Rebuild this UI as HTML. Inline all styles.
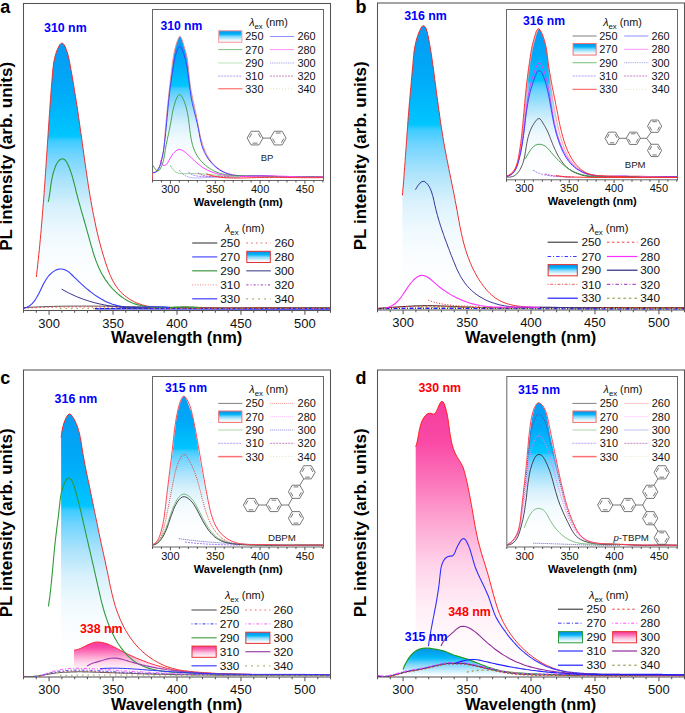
<!DOCTYPE html><html><head><meta charset="utf-8"><style>html,body{margin:0;padding:0;background:#fff;}svg{display:block}text{font-family:"Liberation Sans",sans-serif}</style></head><body>
<svg width="685" height="713" viewBox="0 0 685 713">
<defs><linearGradient id="gb" x1="0" y1="0" x2="0" y2="1">
<stop offset="0" stop-color="#079bf4"/>
<stop offset="0.18" stop-color="#00aaf8"/>
<stop offset="0.35" stop-color="#00c6ff"/>
<stop offset="0.37" stop-color="#40ccff"/>
<stop offset="0.42" stop-color="#70d4ff"/>
<stop offset="0.52" stop-color="#ace3fb"/>
<stop offset="0.62" stop-color="#d8f1fc"/>
<stop offset="0.72" stop-color="#eff9fe"/>
<stop offset="0.82" stop-color="#fafdff"/>
<stop offset="1" stop-color="#ffffff"/>
</linearGradient><linearGradient id="gp" x1="0" y1="0" x2="0" y2="1">
<stop offset="0" stop-color="#f53c9c"/>
<stop offset="0.15" stop-color="#fa4aa6"/>
<stop offset="0.3" stop-color="#fc78bc"/>
<stop offset="0.45" stop-color="#fdaad4"/>
<stop offset="0.6" stop-color="#fed4ea"/>
<stop offset="0.75" stop-color="#ffeef6"/>
<stop offset="0.88" stop-color="#fffafc"/>
<stop offset="1" stop-color="#ffffff"/>
</linearGradient><linearGradient id="gbs2" x1="0" y1="0" x2="0" y2="1">
<stop offset="0" stop-color="#0a90e8"/>
<stop offset="0.35" stop-color="#00b8f8"/>
<stop offset="0.6" stop-color="#7fd6fb"/>
<stop offset="1" stop-color="#ffffff"/>
</linearGradient><linearGradient id="gbs" x1="0" y1="0" x2="0" y2="1">
<stop offset="0" stop-color="#0a8ee8"/>
<stop offset="0.3" stop-color="#00b4f8"/>
<stop offset="0.5" stop-color="#80d8fc"/>
<stop offset="0.8" stop-color="#e6f6fe"/>
<stop offset="1" stop-color="#ffffff"/>
</linearGradient><linearGradient id="gps" x1="0" y1="0" x2="0" y2="1">
<stop offset="0" stop-color="#f5358f"/>
<stop offset="0.3" stop-color="#f870b4"/>
<stop offset="0.6" stop-color="#fcc4e0"/>
<stop offset="1" stop-color="#ffffff"/>
</linearGradient><clipPath id="c1"><rect x="23.5" y="3.5" width="307" height="307"/></clipPath><clipPath id="c2"><rect x="152.5" y="9.5" width="171" height="171"/></clipPath><clipPath id="c3"><rect x="377.5" y="3" width="307" height="307"/></clipPath><clipPath id="c4"><rect x="506.5" y="9.5" width="171" height="170.3"/></clipPath><clipPath id="c5"><rect x="23.5" y="370" width="307" height="307"/></clipPath><clipPath id="c6"><rect x="152.5" y="376.5" width="171" height="170.5"/></clipPath><clipPath id="c7"><rect x="377.5" y="370" width="307" height="307"/></clipPath><clipPath id="c8"><rect x="506.8" y="376.5" width="170.7" height="170.5"/></clipPath></defs>
<rect width="685" height="713" fill="#fff"/>
<rect x="23.5" y="3.5" width="307" height="307" fill="none" stroke="#545454" stroke-width="1.05"/>
<line x1="23.5" y1="310.5" x2="23.5" y2="312.8" stroke="#545454" stroke-width="1.05" />
<line x1="36.29" y1="310.5" x2="36.29" y2="312.8" stroke="#545454" stroke-width="1.05" />
<line x1="49.08" y1="310.5" x2="49.08" y2="314.7" stroke="#545454" stroke-width="1.05" />
<text x="49.08" y="327.5" font-size="13" text-anchor="middle" fill="#111" >300</text>
<line x1="61.88" y1="310.5" x2="61.88" y2="312.8" stroke="#545454" stroke-width="1.05" />
<line x1="74.67" y1="310.5" x2="74.67" y2="312.8" stroke="#545454" stroke-width="1.05" />
<line x1="87.46" y1="310.5" x2="87.46" y2="312.8" stroke="#545454" stroke-width="1.05" />
<line x1="100.25" y1="310.5" x2="100.25" y2="312.8" stroke="#545454" stroke-width="1.05" />
<line x1="113.04" y1="310.5" x2="113.04" y2="314.7" stroke="#545454" stroke-width="1.05" />
<text x="113.04" y="327.5" font-size="13" text-anchor="middle" fill="#111" >350</text>
<line x1="125.83" y1="310.5" x2="125.83" y2="312.8" stroke="#545454" stroke-width="1.05" />
<line x1="138.62" y1="310.5" x2="138.62" y2="312.8" stroke="#545454" stroke-width="1.05" />
<line x1="151.42" y1="310.5" x2="151.42" y2="312.8" stroke="#545454" stroke-width="1.05" />
<line x1="164.21" y1="310.5" x2="164.21" y2="312.8" stroke="#545454" stroke-width="1.05" />
<line x1="177" y1="310.5" x2="177" y2="314.7" stroke="#545454" stroke-width="1.05" />
<text x="177" y="327.5" font-size="13" text-anchor="middle" fill="#111" >400</text>
<line x1="189.79" y1="310.5" x2="189.79" y2="312.8" stroke="#545454" stroke-width="1.05" />
<line x1="202.58" y1="310.5" x2="202.58" y2="312.8" stroke="#545454" stroke-width="1.05" />
<line x1="215.37" y1="310.5" x2="215.37" y2="312.8" stroke="#545454" stroke-width="1.05" />
<line x1="228.17" y1="310.5" x2="228.17" y2="312.8" stroke="#545454" stroke-width="1.05" />
<line x1="240.96" y1="310.5" x2="240.96" y2="314.7" stroke="#545454" stroke-width="1.05" />
<text x="240.96" y="327.5" font-size="13" text-anchor="middle" fill="#111" >450</text>
<line x1="253.75" y1="310.5" x2="253.75" y2="312.8" stroke="#545454" stroke-width="1.05" />
<line x1="266.54" y1="310.5" x2="266.54" y2="312.8" stroke="#545454" stroke-width="1.05" />
<line x1="279.33" y1="310.5" x2="279.33" y2="312.8" stroke="#545454" stroke-width="1.05" />
<line x1="292.12" y1="310.5" x2="292.12" y2="312.8" stroke="#545454" stroke-width="1.05" />
<line x1="304.92" y1="310.5" x2="304.92" y2="314.7" stroke="#545454" stroke-width="1.05" />
<text x="304.92" y="327.5" font-size="13" text-anchor="middle" fill="#111" >500</text>
<line x1="317.71" y1="310.5" x2="317.71" y2="312.8" stroke="#545454" stroke-width="1.05" />
<line x1="330.5" y1="310.5" x2="330.5" y2="312.8" stroke="#545454" stroke-width="1.05" />
<text x="176.6" y="343" font-size="16.4" font-weight="bold" text-anchor="middle" fill="#000" >Wavelength (nm)</text>
<text x="0" y="0" font-size="17.05" font-weight="bold" text-anchor="middle" transform="translate(12.4,156.3) rotate(-90)">PL intensity (arb. units)</text>
<text x="0.2" y="13.2" font-size="18" font-weight="bold" text-anchor="start" fill="#000" >a</text>
<g clip-path="url(#c1)">
<path d="M36.3,277 36.6,274.5 36.9,272 37.2,269.5 37.5,267 37.7,264.5 38,262 38.3,259.5 38.5,257 38.8,254.5 39.1,252 39.3,249.5 39.6,247.1 39.8,244.6 40,242.1 40.3,239.6 40.5,237.1 40.7,234.6 41,232.1 41.2,229.6 41.4,227.1 41.6,224.7 41.8,222.2 42,219.7 42.2,217.2 42.4,214.7 42.6,212.2 42.8,209.7 43,207.2 43.2,204.8 43.4,202.3 43.6,199.8 43.8,197.3 44,194.8 44.2,192.3 44.3,189.8 44.5,187.3 44.7,184.8 44.9,182.3 45.1,179.8 45.2,177.3 45.4,174.8 45.6,172.3 45.7,169.8 45.9,167.3 46.1,164.8 46.2,162.3 46.4,159.8 46.6,157.3 46.7,154.8 46.9,152.3 47.1,149.8 47.2,147.3 47.4,144.8 47.6,142.2 47.7,139.7 47.9,137.2 48.1,134.7 48.2,132.2 48.4,129.7 48.6,127.2 48.7,124.7 48.9,122.2 49.1,119.7 49.2,117.2 49.4,114.7 49.6,112.2 49.8,109.7 49.9,107.2 50.1,104.7 50.3,102.2 50.5,99.7 50.6,97.3 50.8,94.8 51,92.3 51.2,89.8 51.4,87.3 51.6,84.9 51.8,82.4 52,79.9 52.2,77.5 52.4,75 52.6,72.6 52.8,70.1 53.1,67.6 53.4,65.2 53.7,62.7 54.2,60.2 54.8,57.6 55.5,55 56.3,52.3 57.3,49.6 58.5,47 59.8,44.7 61.2,43.3 62.6,43.2 63.9,44.5 65.2,46.7 66.2,49.3 67.1,51.9 67.9,54.4 68.5,57 69.1,59.5 69.5,61.9 70,64.4 70.5,66.9 70.9,69.4 71.4,71.9 71.8,74.3 72.3,76.8 72.7,79.3 73.1,81.8 73.5,84.2 73.9,86.7 74.3,89.2 74.7,91.7 75.1,94.1 75.5,96.6 75.9,99.1 76.3,101.5 76.7,104 77.1,106.5 77.4,108.9 77.8,111.4 78.2,113.9 78.5,116.4 78.9,118.8 79.2,121.3 79.6,123.8 79.9,126.2 80.3,128.7 80.6,131.2 81,133.7 81.3,136.1 81.7,138.6 82,141.1 82.4,143.6 82.7,146 83,148.5 83.4,151 83.7,153.5 84.1,156 84.4,158.4 84.8,160.9 85.1,163.4 85.5,165.9 85.8,168.4 86.2,170.8 86.6,173.3 86.9,175.8 87.3,178.3 87.7,180.7 88,183.2 88.4,185.7 88.8,188.2 89.2,190.7 89.6,193.1 90,195.6 90.4,198.1 90.8,200.5 91.3,203 91.7,205.5 92.2,207.9 92.6,210.4 93.1,212.9 93.6,215.3 94.1,217.8 94.6,220.2 95.1,222.7 95.6,225.1 96.1,227.6 96.7,230 97.2,232.5 97.8,234.9 98.4,237.3 99,239.8 99.6,242.2 100.3,244.6 100.9,247 101.6,249.4 102.3,251.9 103,254.3 103.7,256.7 104.5,259.1 105.2,261.5 106,263.9 106.8,266.2 107.6,268.6 108.5,271 109.4,273.3 110.4,275.6 111.4,277.9 112.5,280.1 113.7,282.3 114.9,284.4 116.3,286.4 117.7,288.4 119.3,290.3 120.9,292.2 122.7,293.9 124.7,295.6 126.7,297.2 128.8,298.6 130.9,300 133.2,301.2 135.4,302.4 137.8,303.4 140.1,304.2 142.5,305 144.9,305.6 147.3,306.1 149.7,306.5 152.1,306.9 154.6,307.1 157.1,307.3 159.6,307.5 162,307.5 164.6,307.6 167.1,307.6 169.6,307.5 172.1,307.5 174.6,307.4 177.2,307.4 179.7,307.3 182.2,307.3 184.7,307.3 187.3,307.3 189.8,307.3 192.3,307.3 194.8,307.3 197.3,307.4 199.8,307.4 202.4,307.5 204.9,307.5 207.4,307.6 209.9,307.6 212.4,307.7 214.9,307.7 217.4,307.8 219.9,307.8 222.4,307.8 224.9,307.9 227.4,307.9 229.9,307.9 232.4,307.8 234.9,307.8 237.4,307.8 239.9,307.8 242.4,307.8 244.9,307.7 247.4,307.7 249.9,307.7 252.4,307.7 254.9,307.6 257.4,307.6 259.9,307.6 262.4,307.6 264.9,307.6 267.4,307.6 269.9,307.6 272.4,307.6 274.9,307.6 277.4,307.7 279.9,307.7 282.4,307.7 284.9,307.7 287.4,307.7 289.9,307.7 292.4,307.8 294.9,307.8 297.4,307.8 299.9,307.8 302.4,307.8 304.9,307.8 307.4,307.9 309.9,307.9 312.4,307.9 314.9,307.9 317.4,307.9 319.9,307.9 322.4,307.9 325,307.8 327.5,307.8 330,307.8 L330,308.2 L36.3,308.2 Z" fill="url(#gb)" stroke="none"/>
<path d="M36.3,277 36.6,274.5 36.9,272 37.2,269.5 37.5,267 37.7,264.5 38,262 38.3,259.5 38.5,257 38.8,254.5 39.1,252 39.3,249.5 39.6,247.1 39.8,244.6 40,242.1 40.3,239.6 40.5,237.1 40.7,234.6 41,232.1 41.2,229.6 41.4,227.1 41.6,224.7 41.8,222.2 42,219.7 42.2,217.2 42.4,214.7 42.6,212.2 42.8,209.7 43,207.2 43.2,204.8 43.4,202.3 43.6,199.8 43.8,197.3 44,194.8 44.2,192.3 44.3,189.8 44.5,187.3 44.7,184.8 44.9,182.3 45.1,179.8 45.2,177.3 45.4,174.8 45.6,172.3 45.7,169.8 45.9,167.3 46.1,164.8 46.2,162.3 46.4,159.8 46.6,157.3 46.7,154.8 46.9,152.3 47.1,149.8 47.2,147.3 47.4,144.8 47.6,142.2 47.7,139.7 47.9,137.2 48.1,134.7 48.2,132.2 48.4,129.7 48.6,127.2 48.7,124.7 48.9,122.2 49.1,119.7 49.2,117.2 49.4,114.7 49.6,112.2 49.8,109.7 49.9,107.2 50.1,104.7 50.3,102.2 50.5,99.7 50.6,97.3 50.8,94.8 51,92.3 51.2,89.8 51.4,87.3 51.6,84.9 51.8,82.4 52,79.9 52.2,77.5 52.4,75 52.6,72.6 52.8,70.1 53.1,67.6 53.4,65.2 53.7,62.7 54.2,60.2 54.8,57.6 55.5,55 56.3,52.3 57.3,49.6 58.5,47 59.8,44.7 61.2,43.3 62.6,43.2 63.9,44.5 65.2,46.7 66.2,49.3 67.1,51.9 67.9,54.4 68.5,57 69.1,59.5 69.5,61.9 70,64.4 70.5,66.9 70.9,69.4 71.4,71.9 71.8,74.3 72.3,76.8 72.7,79.3 73.1,81.8 73.5,84.2 73.9,86.7 74.3,89.2 74.7,91.7 75.1,94.1 75.5,96.6 75.9,99.1 76.3,101.5 76.7,104 77.1,106.5 77.4,108.9 77.8,111.4 78.2,113.9 78.5,116.4 78.9,118.8 79.2,121.3 79.6,123.8 79.9,126.2 80.3,128.7 80.6,131.2 81,133.7 81.3,136.1 81.7,138.6 82,141.1 82.4,143.6 82.7,146 83,148.5 83.4,151 83.7,153.5 84.1,156 84.4,158.4 84.8,160.9 85.1,163.4 85.5,165.9 85.8,168.4 86.2,170.8 86.6,173.3 86.9,175.8 87.3,178.3 87.7,180.7 88,183.2 88.4,185.7 88.8,188.2 89.2,190.7 89.6,193.1 90,195.6 90.4,198.1 90.8,200.5 91.3,203 91.7,205.5 92.2,207.9 92.6,210.4 93.1,212.9 93.6,215.3 94.1,217.8 94.6,220.2 95.1,222.7 95.6,225.1 96.1,227.6 96.7,230 97.2,232.5 97.8,234.9 98.4,237.3 99,239.8 99.6,242.2 100.3,244.6 100.9,247 101.6,249.4 102.3,251.9 103,254.3 103.7,256.7 104.5,259.1 105.2,261.5 106,263.9 106.8,266.2 107.6,268.6 108.5,271 109.4,273.3 110.4,275.6 111.4,277.9 112.5,280.1 113.7,282.3 114.9,284.4 116.3,286.4 117.7,288.4 119.3,290.3 120.9,292.2 122.7,293.9 124.7,295.6 126.7,297.2 128.8,298.6 130.9,300 133.2,301.2 135.4,302.4 137.8,303.4 140.1,304.2 142.5,305 144.9,305.6 147.3,306.1 149.7,306.5 152.1,306.9 154.6,307.1 157.1,307.3 159.6,307.5 162,307.5 164.6,307.6 167.1,307.6 169.6,307.5 172.1,307.5 174.6,307.4 177.2,307.4 179.7,307.3 182.2,307.3 184.7,307.3 187.3,307.3 189.8,307.3 192.3,307.3 194.8,307.3 197.3,307.4 199.8,307.4 202.4,307.5 204.9,307.5 207.4,307.6 209.9,307.6 212.4,307.7 214.9,307.7 217.4,307.8 219.9,307.8 222.4,307.8 224.9,307.9 227.4,307.9 229.9,307.9 232.4,307.8 234.9,307.8 237.4,307.8 239.9,307.8 242.4,307.8 244.9,307.7 247.4,307.7 249.9,307.7 252.4,307.7 254.9,307.6 257.4,307.6 259.9,307.6 262.4,307.6 264.9,307.6 267.4,307.6 269.9,307.6 272.4,307.6 274.9,307.6 277.4,307.7 279.9,307.7 282.4,307.7 284.9,307.7 287.4,307.7 289.9,307.7 292.4,307.8 294.9,307.8 297.4,307.8 299.9,307.8 302.4,307.8 304.9,307.8 307.4,307.9 309.9,307.9 312.4,307.9 314.9,307.9 317.4,307.9 319.9,307.9 322.4,307.9 325,307.8 327.5,307.8 330,307.8" fill="none" stroke="#ee2a2a" stroke-width="1"/>
<path d="M95,308.7 140,308.8 330,308.9" fill="none" stroke="#2020ff" stroke-width="1.6" stroke-linejoin="round" />
<path d="M23.5,307.6 26,307.5 28.5,307.3 31,307.2 33.5,307.1 36.1,307 38.6,306.9 41.1,306.8 43.6,306.7 46.1,306.6 48.6,306.5 51.1,306.5 53.6,306.4 56.1,306.3 58.7,306.3 61.2,306.2 63.7,306.2 66.2,306.2 68.7,306.1 71.2,306.1 73.7,306.1 76.2,306.1 78.7,306.1 81.3,306.1 83.8,306.1 86.3,306.1 88.8,306.1 91.3,306.1 93.8,306.1 96.3,306.1 98.8,306.2 101.3,306.2 103.9,306.2 106.4,306.2 108.9,306.3 111.4,306.3 113.9,306.3 116.4,306.4 118.9,306.4 121.4,306.5 124,306.5 126.5,306.6 129,306.6 131.5,306.7 134,306.7 136.5,306.8 139,306.8 141.5,306.9 144.1,306.9 146.6,307 149.1,307 151.6,307.1 154.1,307.1 156.6,307.2 159.1,307.2 161.6,307.3 164.2,307.3 166.7,307.4 169.2,307.4 171.7,307.5 174.2,307.5 176.7,307.6 179.2,307.6 181.7,307.7 184.3,307.7 186.8,307.7 189.3,307.8 191.8,307.8 194.3,307.8 196.8,307.8 199.3,307.9 201.9,307.9 204.4,307.9 206.9,307.9 209.4,307.9 211.9,307.9 214.4,307.9 216.9,307.9 219.4,307.9 222,307.9 224.5,307.9 227,307.9 229.5,307.9 232,307.9 234.5,307.9 237,307.9 239.5,307.9 242.1,307.9 244.6,307.9 247.1,307.9 249.6,307.9 252.1,307.9 254.6,307.9 257.1,307.8 259.6,307.8 262.2,307.8 264.7,307.8 267.2,307.8 269.7,307.8 272.2,307.8 274.7,307.8 277.2,307.7 279.7,307.7 282.3,307.7 284.8,307.7 287.3,307.7 289.8,307.7 292.3,307.7 294.8,307.7 297.3,307.7 299.9,307.7 302.4,307.7 304.9,307.6 307.4,307.6 309.9,307.6 312.4,307.6 314.9,307.6 317.4,307.7 320,307.7 322.5,307.7 325,307.7 327.5,307.7 330,307.7" fill="none" stroke="#555" stroke-width="1" stroke-linejoin="round" />
<path d="M23.5,308.2 26,308.1 28.5,308 31,307.8 33.5,307.7 36.1,307.7 38.6,307.6 41.1,307.5 43.6,307.4 46.1,307.3 48.6,307.3 51.1,307.2 53.6,307.2 56.1,307.1 58.7,307.1 61.2,307 63.7,307 66.2,307 68.7,307 71.2,306.9 73.7,306.9 76.2,306.9 78.7,306.9 81.3,306.9 83.8,306.9 86.3,306.9 88.8,306.9 91.3,306.9 93.8,307 96.3,307 98.8,307 101.4,307 103.9,307.1 106.4,307.1 108.9,307.1 111.4,307.1 113.9,307.2 116.4,307.2 118.9,307.3 121.5,307.3 124,307.3 126.5,307.4 129,307.4 131.5,307.5 134,307.5 136.5,307.6 139,307.6 141.6,307.7 144.1,307.7 146.6,307.8 149.1,307.8 151.6,307.8 154.1,307.9 156.6,307.9 159.1,308 161.7,308 164.2,308.1 166.7,308.1 169.2,308.2 171.7,308.2 174.2,308.2 176.7,308.3 179.2,308.3 181.8,308.4 184.3,308.4 186.8,308.4 189.3,308.4 191.8,308.5 194.3,308.5 196.8,308.5 199.3,308.5 201.9,308.5 204.4,308.6 206.9,308.6 209.4,308.6 211.9,308.6 214.4,308.6 216.9,308.6 219.4,308.6 222,308.6 224.5,308.6 227,308.6 229.5,308.6 232,308.6 234.5,308.6 237,308.6 239.5,308.6 242.1,308.6 244.6,308.6 247.1,308.6 249.6,308.6 252.1,308.6 254.6,308.6 257.1,308.6 259.6,308.5 262.2,308.5 264.7,308.5 267.2,308.5 269.7,308.5 272.2,308.5 274.7,308.5 277.2,308.5 279.8,308.5 282.3,308.5 284.8,308.4 287.3,308.4 289.8,308.4 292.3,308.4 294.8,308.4 297.3,308.4 299.9,308.4 302.4,308.4 304.9,308.4 307.4,308.4 309.9,308.4 312.4,308.4 314.9,308.4 317.4,308.4 320,308.4 322.5,308.4 325,308.4 327.5,308.4 330,308.4" fill="none" stroke="#f04040" stroke-width="1" stroke-dasharray="1.5,2.5" stroke-linejoin="round" />
<path d="M60,308.6 330,308.6" fill="none" stroke="#b0a040" stroke-width="1" stroke-dasharray="1.5,4" stroke-linejoin="round" />
<path d="M48.2,202 48.8,199.4 49.2,196.9 49.6,194.4 50,192 50.3,189.5 50.6,187.1 50.9,184.7 51.3,182.3 51.7,179.9 52.2,177.4 52.7,175 53.4,172.5 54.2,169.9 55.1,167.3 56.2,164.8 57.5,162.4 59,160.5 60.7,159.2 62.6,158.8 64.5,159.4 66.1,161.3 67.5,163.7 68.7,166.3 69.7,168.8 70.6,171.3 71.4,173.7 72.2,176.2 72.9,178.6 73.5,181 74.2,183.4 74.8,185.8 75.4,188.2 75.9,190.6 76.5,193 77.2,195.4 77.8,197.8 78.4,200.2 79.1,202.6 79.8,205 80.4,207.4 81.1,209.9 81.8,212.3 82.5,214.7 83.2,217.1 83.9,219.5 84.6,222 85.3,224.4 86,226.8 86.7,229.3 87.3,231.7 88,234.1 88.7,236.6 89.4,239 90,241.4 90.7,243.9 91.4,246.3 92.1,248.7 92.8,251.1 93.5,253.5 94.3,255.9 95.1,258.2 95.9,260.6 96.8,262.9 97.8,265.2 98.7,267.5 99.8,269.8 100.9,272 102.1,274.2 103.4,276.4 104.7,278.6 106.1,280.7 107.6,282.7 109.1,284.8 110.7,286.7 112.4,288.6 114.2,290.4 116,292.2 117.8,293.9 119.8,295.5 121.8,297 123.8,298.4 125.9,299.7 128.1,300.9 130.3,302 132.6,303 134.9,303.9 137.3,304.6 139.7,305.3 142.1,305.8 144.6,306.3 147.1,306.6 149.6,306.9 152.1,307.1 154.7,307.3 157.3,307.4 159.8,307.4 162.4,307.5 165,307.4 167.5,307.4 170.1,307.3 172.6,307.2 175.1,307.1 177.6,307.1 180,307 182.5,306.9 184.9,306.9 187.3,306.9 189.8,307 192.3,307.1 194.8,307.2 197.4,307.4 200,307.7" fill="none" stroke="#2e9a3a" stroke-width="1.1" stroke-linejoin="round" />
<path d="M23.5,308.4 26,307.7 28.3,306.6 30.3,305.2 32.1,303.6 33.7,301.8 35.2,299.8 36.5,297.8 37.7,295.6 38.9,293.4 40,291.2 41.1,288.9 42.2,286.6 43.3,284.3 44.6,282 45.9,279.7 47.4,277.5 49,275.5 50.9,273.6 52.9,271.9 55,270.6 57.2,269.6 59.5,269 61.8,269 64.1,269.5 66.3,270.4 68.4,271.7 70.3,273.3 72.1,275 73.9,276.8 75.8,278.6 77.6,280.4 79.4,282.1 81.3,283.9 83.2,285.6 85.1,287.3 87,288.9 89,290.5 91,292.1 93,293.6 95,295.1 97.1,296.5 99.2,297.8 101.3,299.1 103.4,300.2 105.6,301.4 107.9,302.4 110.1,303.3 112.4,304.2 114.7,304.9 117.1,305.6 119.5,306.1 122,306.6 124.5,306.9 127,307.2 129.5,307.3 132.1,307.4 134.7,307.4 137.3,307.4 139.9,307.3 142.5,307.2 145.2,307.1 147.8,307 150.4,306.9 152.9,306.8 155.5,306.8 158,306.8 160.5,306.8 162.9,306.9 165.3,307.1 167.7,307.3 170,307.7" fill="none" stroke="#3a3aff" stroke-width="1.1" stroke-linejoin="round" />
<path d="M61.7,289.1 63.9,290.4 66.2,291.6 68.4,292.8 70.7,293.9 73,295 75.4,296.1 77.7,297.1 80.1,298 82.4,298.9 84.8,299.7 87.2,300.5 89.6,301.3 92.1,302 94.5,302.7 97,303.3 99.4,303.9 101.9,304.4 104.4,304.9 106.9,305.4 109.4,305.8 111.9,306.2 114.4,306.5 116.9,306.8 119.5,307.1 122,307.3 124.5,307.5 127.1,307.7 129.6,307.8 132.2,307.9 134.7,308 137.3,308 139.8,308 142.4,308 144.9,307.9 147.5,307.8 150,307.7" fill="none" stroke="#34348a" stroke-width="1" stroke-linejoin="round" />
</g>
<rect x="152.5" y="9.5" width="171" height="171" fill="#fff" stroke="#666" stroke-width="1"/>
<line x1="152.5" y1="180.5" x2="152.5" y2="182.5" stroke="#444" stroke-width="0.9" />
<line x1="161.47" y1="180.5" x2="161.47" y2="182.5" stroke="#444" stroke-width="0.9" />
<line x1="170.43" y1="180.5" x2="170.43" y2="183.7" stroke="#444" stroke-width="0.9" />
<text x="170.43" y="193.1" font-size="11" text-anchor="middle" fill="#111" >300</text>
<line x1="179.4" y1="180.5" x2="179.4" y2="182.5" stroke="#444" stroke-width="0.9" />
<line x1="188.36" y1="180.5" x2="188.36" y2="182.5" stroke="#444" stroke-width="0.9" />
<line x1="197.32" y1="180.5" x2="197.32" y2="182.5" stroke="#444" stroke-width="0.9" />
<line x1="206.29" y1="180.5" x2="206.29" y2="182.5" stroke="#444" stroke-width="0.9" />
<line x1="215.25" y1="180.5" x2="215.25" y2="183.7" stroke="#444" stroke-width="0.9" />
<text x="215.25" y="193.1" font-size="11" text-anchor="middle" fill="#111" >350</text>
<line x1="224.22" y1="180.5" x2="224.22" y2="182.5" stroke="#444" stroke-width="0.9" />
<line x1="233.19" y1="180.5" x2="233.19" y2="182.5" stroke="#444" stroke-width="0.9" />
<line x1="242.15" y1="180.5" x2="242.15" y2="182.5" stroke="#444" stroke-width="0.9" />
<line x1="251.12" y1="180.5" x2="251.12" y2="182.5" stroke="#444" stroke-width="0.9" />
<line x1="260.08" y1="180.5" x2="260.08" y2="183.7" stroke="#444" stroke-width="0.9" />
<text x="260.08" y="193.1" font-size="11" text-anchor="middle" fill="#111" >400</text>
<line x1="269.05" y1="180.5" x2="269.05" y2="182.5" stroke="#444" stroke-width="0.9" />
<line x1="278.01" y1="180.5" x2="278.01" y2="182.5" stroke="#444" stroke-width="0.9" />
<line x1="286.98" y1="180.5" x2="286.98" y2="182.5" stroke="#444" stroke-width="0.9" />
<line x1="295.94" y1="180.5" x2="295.94" y2="182.5" stroke="#444" stroke-width="0.9" />
<line x1="304.9" y1="180.5" x2="304.9" y2="183.7" stroke="#444" stroke-width="0.9" />
<text x="304.9" y="193.1" font-size="11" text-anchor="middle" fill="#111" >450</text>
<line x1="313.87" y1="180.5" x2="313.87" y2="182.5" stroke="#444" stroke-width="0.9" />
<line x1="322.83" y1="180.5" x2="322.83" y2="182.5" stroke="#444" stroke-width="0.9" />
<text x="238.3" y="206.1" font-size="11.1" font-weight="bold" text-anchor="middle" fill="#000" >Wavelength (nm)</text>
<g clip-path="url(#c2)">
<path d="M152.5,172.7 154.8,171.9 156.6,170.6 158.1,168.7 159.4,166.5 160.4,164.1 161.2,161.6 161.9,159.1 162.5,156.7 163,154.2 163.4,151.7 163.7,149.2 164,146.7 164.2,144.2 164.4,141.7 164.6,139.2 164.8,136.7 165,134.2 165.2,131.7 165.4,129.2 165.6,126.8 165.9,124.3 166.1,121.8 166.3,119.3 166.5,116.8 166.8,114.3 167,111.8 167.3,109.3 167.5,106.8 167.8,104.3 168,101.8 168.3,99.4 168.6,96.9 168.8,94.4 169.1,91.9 169.4,89.4 169.7,86.9 170,84.4 170.2,81.9 170.5,79.4 170.8,76.9 171.1,74.4 171.4,71.9 171.7,69.4 172,66.9 172.3,64.4 172.6,61.9 173,59.4 173.4,56.9 173.8,54.4 174.3,51.9 174.8,49.4 175.5,46.9 176.2,44.5 177,42 177.9,39.6 178.9,37.3 180,36.3 181.1,37.4 182.1,39.9 183.1,43 183.9,46 184.7,48.4 185.4,50.7 186,53 186.6,55.4 187.1,58 187.5,60.5 187.8,63.1 188.1,65.6 188.4,68.1 188.6,70.5 188.8,73 189.1,75.4 189.3,77.8 189.6,80.3 189.9,82.7 190.2,85.2 190.6,87.6 191,90.1 191.5,92.6 192,95.1 192.5,97.6 193,100.1 193.6,102.6 194.1,105.1 194.7,107.6 195.2,110.1 195.7,112.6 196.2,115 196.7,117.5 197.1,120 197.6,122.5 198,125 198.5,127.4 198.9,129.9 199.4,132.3 200,134.8 200.5,137.2 201.1,139.6 201.8,142 202.5,144.3 203.3,146.7 204.2,149 205.2,151.3 206.2,153.6 207.4,155.8 208.6,158 210,160 211.5,162 213.1,163.9 214.9,165.7 216.8,167.4 218.9,168.9 221,170.3 223.3,171.5 225.6,172.6 228,173.5 230.3,174.2 232.7,174.8 235.2,175.2 237.6,175.5 240.1,175.7 242.5,175.8 245,175.9 247.5,175.9 250.1,175.8 252.6,175.8 255.1,175.7 257.7,175.7 260.2,175.7 262.7,175.7 265.3,175.8 267.8,175.9 270.4,176.1 272.9,176.2 275.4,176.3 278,176.5 280.5,176.6 283,176.6 285.5,176.7 288,176.7 290.4,176.7 292.9,176.7 295.4,176.7 297.9,176.7 300.3,176.7 302.8,176.6 305.3,176.6 307.8,176.6 310.3,176.6 312.8,176.6 315.3,176.6 317.9,176.6 320.4,176.7 323,176.8 L323,177.6 L152.5,177.6 Z" fill="url(#gb)" stroke="none"/>
<path d="M152.5,172.7 154.8,171.9 156.6,170.6 158.1,168.7 159.4,166.5 160.4,164.1 161.2,161.6 161.9,159.1 162.5,156.7 163,154.2 163.4,151.7 163.7,149.2 164,146.7 164.2,144.2 164.4,141.7 164.6,139.2 164.8,136.7 165,134.2 165.2,131.7 165.4,129.2 165.6,126.8 165.9,124.3 166.1,121.8 166.3,119.3 166.5,116.8 166.8,114.3 167,111.8 167.3,109.3 167.5,106.8 167.8,104.3 168,101.8 168.3,99.4 168.6,96.9 168.8,94.4 169.1,91.9 169.4,89.4 169.7,86.9 170,84.4 170.2,81.9 170.5,79.4 170.8,76.9 171.1,74.4 171.4,71.9 171.7,69.4 172,66.9 172.3,64.4 172.6,61.9 173,59.4 173.4,56.9 173.8,54.4 174.3,51.9 174.8,49.4 175.5,46.9 176.2,44.5 177,42 177.9,39.6 178.9,37.3 180,36.3 181.1,37.4 182.1,39.9 183.1,43 183.9,46 184.7,48.4 185.4,50.7 186,53 186.6,55.4 187.1,58 187.5,60.5 187.8,63.1 188.1,65.6 188.4,68.1 188.6,70.5 188.8,73 189.1,75.4 189.3,77.8 189.6,80.3 189.9,82.7 190.2,85.2 190.6,87.6 191,90.1 191.5,92.6 192,95.1 192.5,97.6 193,100.1 193.6,102.6 194.1,105.1 194.7,107.6 195.2,110.1 195.7,112.6 196.2,115 196.7,117.5 197.1,120 197.6,122.5 198,125 198.5,127.4 198.9,129.9 199.4,132.3 200,134.8 200.5,137.2 201.1,139.6 201.8,142 202.5,144.3 203.3,146.7 204.2,149 205.2,151.3 206.2,153.6 207.4,155.8 208.6,158 210,160 211.5,162 213.1,163.9 214.9,165.7 216.8,167.4 218.9,168.9 221,170.3 223.3,171.5 225.6,172.6 228,173.5 230.3,174.2 232.7,174.8 235.2,175.2 237.6,175.5 240.1,175.7 242.5,175.8 245,175.9 247.5,175.9 250.1,175.8 252.6,175.8 255.1,175.7 257.7,175.7 260.2,175.7 262.7,175.7 265.3,175.8 267.8,175.9 270.4,176.1 272.9,176.2 275.4,176.3 278,176.5 280.5,176.6 283,176.6 285.5,176.7 288,176.7 290.4,176.7 292.9,176.7 295.4,176.7 297.9,176.7 300.3,176.7 302.8,176.6 305.3,176.6 307.8,176.6 310.3,176.6 312.8,176.6 315.3,176.6 317.9,176.6 320.4,176.7 323,176.8" fill="none" stroke="#f08a8a" stroke-width="1"/>
<line x1="152.5" y1="172.7" x2="152.5" y2="180" stroke="#f03030" stroke-width="1" />
<path d="M152.5,173 155.3,172.4 157.2,171.1 158.6,169.2 159.6,166.9 160.4,164.5 161,162.1 161.6,159.6 162.2,157.2 162.7,154.7 163.2,152.3 163.6,149.8 164,147.3 164.3,144.9 164.6,142.4 164.9,139.9 165.2,137.4 165.5,135 165.7,132.5 165.9,130 166.2,127.5 166.4,125 166.6,122.5 166.9,120 167.1,117.5 167.3,115 167.6,112.5 167.8,110 168,107.5 168.3,105 168.5,102.5 168.8,100 169.1,97.5 169.3,95 169.6,92.6 169.9,90.1 170.2,87.6 170.5,85.2 170.9,82.7 171.2,80.3 171.5,77.8 171.9,75.4 172.3,72.9 172.7,70.4 173.1,67.9 173.5,65.4 173.9,62.9 174.4,60.3 174.9,57.7 175.5,55.2 176.3,52.7 177.2,50.2 178.3,47.9 179.6,46.4 180.8,47 181.9,49.1 182.9,51.6 183.8,54.3 184.7,57 185.4,59.6 186,62.2 186.6,64.8 187.1,67.3 187.5,69.8 187.9,72.3 188.2,74.7 188.5,77.2 188.8,79.6 189.1,82 189.4,84.4 189.7,86.8 189.9,89.2 190.3,91.6 190.6,94 191,96.4 191.4,98.8 191.9,101.3 192.4,103.7 193,106.2 193.6,108.7 194.2,111.2 194.8,113.7 195.5,116.2 196.1,118.7 196.7,121.2 197.3,123.7 197.8,126.2 198.4,128.7 198.8,131.1 199.3,133.6 199.7,136 200.2,138.5 200.7,140.9 201.3,143.2 201.9,145.6 202.7,147.9 203.6,150.2 204.6,152.5 205.7,154.7 207,156.9 208.4,159 209.9,161 211.5,162.9 213.3,164.8 215.1,166.5 217,168.1 219.1,169.5 221.1,170.9 223.3,172 225.6,173 227.9,173.9 230.2,174.5 232.7,175.1 235.1,175.4 237.6,175.7 240.2,175.9 242.7,176 245.3,176 247.9,176 250.5,175.9 253.1,175.9 255.7,175.8 258.2,175.8 260.7,175.8 263.2,175.8 265.7,175.9 268.2,176 270.6,176.1 273.1,176.3 275.5,176.4 277.9,176.5 280.4,176.7 282.9,176.7 285.4,176.8 287.9,176.8 290.4,176.8 292.9,176.8 295.4,176.8 297.9,176.8 300.5,176.7 303,176.7 305.5,176.7 308,176.7 310.6,176.6 313.1,176.6 315.6,176.7 318.1,176.7 320.5,176.8 323,176.9" fill="none" stroke="#4040ff" stroke-width="1" stroke-linejoin="round" />
<path d="M152.5,165 154,167.2 155.6,169.5 157.3,171 158.8,170.7 160.3,168.9 161.4,166.5 162.4,164.1 163.1,161.7 163.7,159.3 164.2,156.8 164.7,154.4 165,151.9 165.4,149.4 165.8,146.9 166.3,144.5 166.8,142 167.3,139.5 167.8,137 168.4,134.6 168.9,132.1 169.4,129.7 169.9,127.2 170.4,124.8 170.8,122.4 171.2,120.1 171.6,117.7 172,115.3 172.4,112.9 172.9,110.4 173.5,107.9 174.2,105.3 175,102.6 175.9,99.9 177,97.4 178.3,95.3 179.7,94.4 181.1,95.4 182.4,97.4 183.5,99.7 184.5,102.2 185.4,104.8 186.2,107.4 186.8,110 187.4,112.5 187.8,115 188.2,117.4 188.6,119.8 188.9,122.2 189.2,124.7 189.5,127.1 189.8,129.6 190.1,132.1 190.5,134.5 190.8,137 191.3,139.5 191.8,142 192.4,144.4 193.1,146.8 193.9,149.1 194.9,151.4 195.9,153.6 197.2,155.8 198.6,157.9 200.1,159.9 201.8,161.8 203.5,163.6 205.4,165.3 207.4,166.9 209.4,168.3 211.6,169.6 213.7,170.8 216,171.9 218.3,172.8 220.6,173.5 223,174.1 225.4,174.6 227.9,175 230.4,175.3 232.9,175.5 235.4,175.7 237.9,175.8 240.4,175.9 243,176 245.5,176.1 248,176.1 250.5,176.2 253,176.3 255.5,176.3 258,176.4 260.5,176.4 263,176.4 265.5,176.5 268,176.5 270.5,176.5 273,176.5 275.5,176.6 278,176.6 280.5,176.6 283,176.6 285.5,176.6 288,176.6 290.4,176.6 292.9,176.6 295.4,176.6 297.9,176.6 300.4,176.6 302.9,176.6 305.4,176.6 307.9,176.6 310.4,176.7 312.9,176.7 315.5,176.7 318,176.7 320.5,176.8 323,176.8" fill="none" stroke="#3a9a3a" stroke-width="0.9" stroke-linejoin="round" />
<path d="M160.5,160.5 161.5,163.7 162.9,165.3 164.5,165.6 166.1,164.7 167.6,162.8 169,160.4 170.4,157.9 171.7,155.6 173.2,153.5 175,151.6 177.1,150.1 179.2,149.4 181.4,149.8 183.5,151 185.6,152.6 187.6,154.4 189.5,156.1 191.5,157.9 193.4,159.7 195.3,161.5 197.2,163.2 199.2,164.8 201.2,166.4 203.2,167.8 205.4,169.1 207.5,170.2 209.7,171.2 212,172.1 214.3,172.9 216.7,173.6 219,174.3 221.5,174.8 223.9,175.2 226.4,175.6 228.9,175.9 231.4,176.1 234,176.3 236.6,176.4 239.2,176.5 241.8,176.5 244.4,176.5 247,176.5 249.6,176.4 252.2,176.3 254.8,176.3 257.4,176.2 260,176.1 262.6,176.1 265.2,176 267.7,176 270.3,176 272.8,176 275.3,176 277.8,176.1 280.2,176.2 282.7,176.2 285.2,176.3 287.6,176.4 290.1,176.5 292.5,176.6 295,176.7 297.5,176.8 300,176.9 302.4,176.9 304.9,177 307.5,177 310,177.1 312.6,177.1 315.1,177 317.7,177 320.3,176.9 323,176.8" fill="none" stroke="#ff40ff" stroke-width="1" stroke-linejoin="round" />
<path d="M170.3,165 171.6,167.5 173.1,169.7 174.9,171.4 176.8,172.6 179,173.3 181.2,173.6 183.6,173.7 186.1,173.7 188.7,173.7 191.3,173.6 193.9,173.6 196.6,173.6 199.2,173.7 201.8,173.8 204.4,174 207,174.2 209.6,174.5 212.1,174.7 214.7,175 217.2,175.3 219.8,175.6 222.3,175.9 224.9,176.1 227.4,176.3 229.9,176.5 232.5,176.6 235,176.6 237.5,176.6 240,176.5" fill="none" stroke="#8fcf8f" stroke-width="0.9" stroke-linejoin="round" />
<path d="M179.2,170 180.9,172.2 182.8,174 184.7,175.4 186.9,176.5 189.1,177.2 191.4,177.7 193.8,177.9 196.3,178 198.8,178 201.4,177.8 204,177.7 206.7,177.5 209.3,177.4 212,177.3 214.6,177.3 217.3,177.3 219.9,177.3 222.5,177.4 225.1,177.5 227.7,177.5 230.2,177.6 232.7,177.6 235.2,177.7 237.6,177.7 240,177.6" fill="none" stroke="#6a6aff" stroke-width="0.9" stroke-dasharray="1,1" stroke-linejoin="round" />
<path d="M188.3,172.1 190.4,173.6 192.6,174.8 194.9,175.6 197.4,176.1 199.9,176.5 202.5,176.7 205.1,176.8 207.7,176.8 210.2,176.8 212.6,176.8 215,177" fill="none" stroke="#a070ff" stroke-width="0.9" stroke-dasharray="2,1" stroke-linejoin="round" />
<path d="M197.8,173 200,174.2 202.4,175.1 204.8,175.8 207.2,176.2 209.8,176.5 212.3,176.6 214.9,176.6 217.4,176.6 220,176.5 222.6,176.5 225.1,176.6 227.6,176.7 230,177" fill="none" stroke="#b050b0" stroke-width="0.9" stroke-dasharray="2,1" stroke-linejoin="round" />
<path d="M206.4,173.9 208.8,174.8 211.3,175.5 213.7,176.1 216.2,176.6 218.7,177 221.2,177.4 223.6,177.6 226.1,177.8 228.7,177.9 231.2,177.9 233.7,178 236.2,178 238.8,178 241.3,178 243.8,177.9 246.4,177.9 248.9,177.8 251.5,177.7 254.1,177.7 256.6,177.6 259.2,177.5 261.8,177.5 264.3,177.5 266.9,177.4 269.5,177.4 272,177.4 274.6,177.4 277.2,177.4 279.7,177.4 282.3,177.5 284.9,177.5 287.5,177.5 290,177.6 292.6,177.6 295.1,177.6 297.7,177.6 300.3,177.7 302.8,177.7 305.3,177.7 307.9,177.7 310.4,177.7 312.9,177.7 315.5,177.7 318,177.7 320.5,177.6 323,177.6" fill="none" stroke="#ff3030" stroke-width="1" stroke-linejoin="round" />
</g>
<text x="249.2" y="25.9" font-size="10.8" fill="#111"><tspan font-style="italic">λ</tspan><tspan font-size="7.78" dy="3.02">ex</tspan><tspan dy="-3.02"> (nm)</tspan></text>
<rect x="218.7" y="30.75" width="23.2" height="11.5" fill="url(#gbs)" stroke="#f59a9a" stroke-width="1"/>
<line x1="270" y1="36.5" x2="294.2" y2="36.5" stroke="#6a6aff" stroke-width="0.75"/>
<text x="245.3" y="40.42" font-size="10.9" text-anchor="start" fill="#111" >250</text>
<text x="297.4" y="40.42" font-size="10.9" text-anchor="start" fill="#111" >260</text>
<line x1="218.2" y1="49.6" x2="242.4" y2="49.6" stroke="#5aa85a" stroke-width="0.75"/>
<line x1="270" y1="49.6" x2="294.2" y2="49.6" stroke="#ff70ff" stroke-width="0.75"/>
<text x="245.3" y="53.52" font-size="10.9" text-anchor="start" fill="#111" >270</text>
<text x="297.4" y="53.52" font-size="10.9" text-anchor="start" fill="#111" >280</text>
<line x1="218.2" y1="63" x2="242.4" y2="63" stroke="#c8e6c8" stroke-width="1.2"/>
<line x1="270" y1="63" x2="294.2" y2="63" stroke="#9a9ae8" stroke-width="0.9" stroke-dasharray="1,0.8"/>
<text x="245.3" y="66.92" font-size="10.9" text-anchor="start" fill="#111" >290</text>
<text x="297.4" y="66.92" font-size="10.9" text-anchor="start" fill="#111" >300</text>
<line x1="218.2" y1="76.1" x2="242.4" y2="76.1" stroke="#a07aff" stroke-width="0.75" stroke-dasharray="2,1"/>
<line x1="270" y1="76.1" x2="294.2" y2="76.1" stroke="#b060b0" stroke-width="0.75" stroke-dasharray="2,1"/>
<text x="245.3" y="80.02" font-size="10.9" text-anchor="start" fill="#111" >310</text>
<text x="297.4" y="80.02" font-size="10.9" text-anchor="start" fill="#111" >320</text>
<line x1="218.2" y1="88.8" x2="242.4" y2="88.8" stroke="#ff4040" stroke-width="0.9"/>
<line x1="270" y1="88.8" x2="294.2" y2="88.8" stroke="#d8d8a8" stroke-width="0.75" stroke-dasharray="1,2"/>
<text x="245.3" y="92.72" font-size="10.9" text-anchor="start" fill="#111" >330</text>
<text x="297.4" y="92.72" font-size="10.9" text-anchor="start" fill="#111" >340</text>
<text x="160.4" y="29.9" font-size="12.2" font-weight="bold" text-anchor="start" fill="#0000ff" >310 nm</text>
<path d="M262.95,138.1 L259,131.26 L251.1,131.26 L247.15,138.1 L251.1,144.94 L259,144.94 Z" fill="none" stroke="#4a4a4a" stroke-width="0.75"/>
<line x1="251.89" y1="133.44" x2="249.44" y2="137.69" stroke="#4a4a4a" stroke-width="0.75"/>
<line x1="260.66" y1="137.69" x2="258.21" y2="133.44" stroke="#4a4a4a" stroke-width="0.75"/>
<line x1="252.59" y1="143.16" x2="257.51" y2="143.16" stroke="#4a4a4a" stroke-width="0.75"/>
<path d="M286.1,138.1 L282.15,131.26 L274.25,131.26 L270.3,138.1 L274.25,144.94 L282.15,144.94 Z" fill="none" stroke="#4a4a4a" stroke-width="0.75"/>
<line x1="280.66" y1="133.04" x2="275.74" y2="133.04" stroke="#4a4a4a" stroke-width="0.75"/>
<line x1="272.59" y1="138.51" x2="275.04" y2="142.76" stroke="#4a4a4a" stroke-width="0.75"/>
<line x1="281.36" y1="142.76" x2="283.81" y2="138.51" stroke="#4a4a4a" stroke-width="0.75"/>
<line x1="262.95" y1="138.1" x2="270.3" y2="138.1" stroke="#4a4a4a" stroke-width="0.75" />
<text x="267" y="160.8" font-size="9.5" text-anchor="middle" fill="#222" >BP</text>
<text x="224.9" y="232" font-size="11" fill="#111"><tspan font-style="italic">λ</tspan><tspan font-size="7.92" dy="3.08">ex</tspan><tspan dy="-3.08"> (nm)</tspan></text>
<line x1="192.2" y1="243" x2="217.3" y2="243" stroke="#666" stroke-width="1.4"/>
<line x1="246.3" y1="243" x2="270.8" y2="243" stroke="#f06060" stroke-width="1.2" stroke-dasharray="1.6,3.2"/>
<text x="220.3" y="247.25" font-size="11.8" text-anchor="start" fill="#111" >250</text>
<text x="274.4" y="247.25" font-size="11.8" text-anchor="start" fill="#111" >260</text>
<line x1="192.2" y1="256.9" x2="217.3" y2="256.9" stroke="#6464ff" stroke-width="1.4"/>
<rect x="246.8" y="251.3" width="23.5" height="11.2" fill="url(#gbs)" stroke="#e83030" stroke-width="1"/>
<text x="220.3" y="261.15" font-size="11.8" text-anchor="start" fill="#111" >270</text>
<text x="274.4" y="261.15" font-size="11.8" text-anchor="start" fill="#111" >280</text>
<line x1="192.2" y1="270.8" x2="217.3" y2="270.8" stroke="#5aa85a" stroke-width="1.4"/>
<line x1="246.3" y1="270.8" x2="270.8" y2="270.8" stroke="#6a6aa8" stroke-width="1.4"/>
<text x="220.3" y="275.05" font-size="11.8" text-anchor="start" fill="#111" >290</text>
<text x="274.4" y="275.05" font-size="11.8" text-anchor="start" fill="#111" >300</text>
<line x1="192.2" y1="284.9" x2="217.3" y2="284.9" stroke="#f58080" stroke-width="1" stroke-dasharray="1,1.6"/>
<line x1="246.3" y1="284.9" x2="270.8" y2="284.9" stroke="#b060c8" stroke-width="1.2" stroke-dasharray="2.2,2,1,2"/>
<text x="220.3" y="289.15" font-size="11.8" text-anchor="start" fill="#111" >310</text>
<text x="274.4" y="289.15" font-size="11.8" text-anchor="start" fill="#111" >320</text>
<line x1="192.2" y1="298.8" x2="217.3" y2="298.8" stroke="#5a5aff" stroke-width="1.4"/>
<line x1="246.3" y1="298.8" x2="270.8" y2="298.8" stroke="#a8a060" stroke-width="1.3" stroke-dasharray="1.6,4.4"/>
<text x="220.3" y="303.05" font-size="11.8" text-anchor="start" fill="#111" >330</text>
<text x="274.4" y="303.05" font-size="11.8" text-anchor="start" fill="#111" >340</text>
<text x="44" y="32.1" font-size="12.4" font-weight="bold" text-anchor="start" fill="#0000ff" >310 nm</text>
<rect x="377.5" y="3" width="307" height="307" fill="none" stroke="#545454" stroke-width="1.05"/>
<line x1="377.5" y1="310" x2="377.5" y2="312.3" stroke="#545454" stroke-width="1.05" />
<line x1="390.29" y1="310" x2="390.29" y2="312.3" stroke="#545454" stroke-width="1.05" />
<line x1="403.08" y1="310" x2="403.08" y2="314.2" stroke="#545454" stroke-width="1.05" />
<text x="403.08" y="327" font-size="13" text-anchor="middle" fill="#111" >300</text>
<line x1="415.88" y1="310" x2="415.88" y2="312.3" stroke="#545454" stroke-width="1.05" />
<line x1="428.67" y1="310" x2="428.67" y2="312.3" stroke="#545454" stroke-width="1.05" />
<line x1="441.46" y1="310" x2="441.46" y2="312.3" stroke="#545454" stroke-width="1.05" />
<line x1="454.25" y1="310" x2="454.25" y2="312.3" stroke="#545454" stroke-width="1.05" />
<line x1="467.04" y1="310" x2="467.04" y2="314.2" stroke="#545454" stroke-width="1.05" />
<text x="467.04" y="327" font-size="13" text-anchor="middle" fill="#111" >350</text>
<line x1="479.83" y1="310" x2="479.83" y2="312.3" stroke="#545454" stroke-width="1.05" />
<line x1="492.62" y1="310" x2="492.62" y2="312.3" stroke="#545454" stroke-width="1.05" />
<line x1="505.42" y1="310" x2="505.42" y2="312.3" stroke="#545454" stroke-width="1.05" />
<line x1="518.21" y1="310" x2="518.21" y2="312.3" stroke="#545454" stroke-width="1.05" />
<line x1="531" y1="310" x2="531" y2="314.2" stroke="#545454" stroke-width="1.05" />
<text x="531" y="327" font-size="13" text-anchor="middle" fill="#111" >400</text>
<line x1="543.79" y1="310" x2="543.79" y2="312.3" stroke="#545454" stroke-width="1.05" />
<line x1="556.58" y1="310" x2="556.58" y2="312.3" stroke="#545454" stroke-width="1.05" />
<line x1="569.38" y1="310" x2="569.38" y2="312.3" stroke="#545454" stroke-width="1.05" />
<line x1="582.17" y1="310" x2="582.17" y2="312.3" stroke="#545454" stroke-width="1.05" />
<line x1="594.96" y1="310" x2="594.96" y2="314.2" stroke="#545454" stroke-width="1.05" />
<text x="594.96" y="327" font-size="13" text-anchor="middle" fill="#111" >450</text>
<line x1="607.75" y1="310" x2="607.75" y2="312.3" stroke="#545454" stroke-width="1.05" />
<line x1="620.54" y1="310" x2="620.54" y2="312.3" stroke="#545454" stroke-width="1.05" />
<line x1="633.33" y1="310" x2="633.33" y2="312.3" stroke="#545454" stroke-width="1.05" />
<line x1="646.12" y1="310" x2="646.12" y2="312.3" stroke="#545454" stroke-width="1.05" />
<line x1="658.92" y1="310" x2="658.92" y2="314.2" stroke="#545454" stroke-width="1.05" />
<text x="658.92" y="327" font-size="13" text-anchor="middle" fill="#111" >500</text>
<line x1="671.71" y1="310" x2="671.71" y2="312.3" stroke="#545454" stroke-width="1.05" />
<line x1="684.5" y1="310" x2="684.5" y2="312.3" stroke="#545454" stroke-width="1.05" />
<text x="530.6" y="343" font-size="16.4" font-weight="bold" text-anchor="middle" fill="#000" >Wavelength (nm)</text>
<text x="0" y="0" font-size="17.05" font-weight="bold" text-anchor="middle" transform="translate(366.4,155.8) rotate(-90)">PL intensity (arb. units)</text>
<text x="355.4" y="13.4" font-size="18" font-weight="bold" text-anchor="start" fill="#000" >b</text>
<g clip-path="url(#c3)">
<path d="M402.4,195.3 402.6,192.8 402.8,190.3 403.1,187.8 403.3,185.3 403.5,182.8 403.7,180.3 403.9,177.8 404.1,175.3 404.2,172.8 404.4,170.3 404.6,167.8 404.8,165.3 405,162.8 405.2,160.3 405.3,157.8 405.5,155.3 405.7,152.8 405.9,150.3 406.1,147.8 406.2,145.3 406.4,142.8 406.6,140.3 406.8,137.8 406.9,135.3 407.1,132.8 407.3,130.3 407.5,127.8 407.7,125.3 407.8,122.8 408,120.3 408.2,117.8 408.4,115.3 408.6,112.8 408.8,110.3 409,107.8 409.2,105.3 409.4,102.8 409.7,100.3 409.9,97.8 410.1,95.3 410.3,92.8 410.5,90.3 410.8,87.8 411,85.3 411.2,82.8 411.4,80.3 411.7,77.8 411.9,75.3 412.1,72.8 412.3,70.3 412.5,67.8 412.8,65.4 413,62.9 413.2,60.4 413.4,57.9 413.7,55.5 413.9,53 414.2,50.5 414.6,48.1 415.1,45.6 415.6,43.2 416.2,40.7 416.9,38.2 417.8,35.6 418.7,33 419.9,30.2 421.1,27.8 422.4,26.1 423.8,25.7 425.2,26.8 426.3,29 427.1,31.7 427.7,34.4 428.3,37 428.8,39.6 429.3,42.2 429.7,44.7 430.2,47.2 430.6,49.8 431,52.3 431.4,54.8 431.8,57.3 432.1,59.7 432.5,62.2 432.8,64.7 433.2,67.1 433.5,69.6 433.8,72 434.2,74.5 434.5,77 434.8,79.4 435.1,81.9 435.5,84.4 435.8,86.8 436.1,89.3 436.4,91.8 436.7,94.2 437.1,96.7 437.4,99.2 437.7,101.6 438.1,104.1 438.4,106.6 438.7,109.1 439.1,111.5 439.4,114 439.8,116.5 440.1,119 440.5,121.4 440.8,123.9 441.2,126.4 441.6,128.9 442,131.3 442.4,133.8 442.8,136.3 443.2,138.8 443.6,141.3 444,143.7 444.5,146.2 444.9,148.7 445.4,151.2 445.9,153.7 446.3,156.1 446.8,158.6 447.3,161.1 447.8,163.6 448.3,166.1 448.8,168.5 449.3,171 449.8,173.5 450.3,176 450.8,178.4 451.3,180.9 451.8,183.4 452.3,185.9 452.8,188.3 453.3,190.8 453.8,193.3 454.3,195.7 454.8,198.2 455.2,200.6 455.7,203.1 456.2,205.6 456.6,208 457.1,210.5 457.5,212.9 457.9,215.4 458.4,217.8 458.8,220.2 459.3,222.7 459.7,225.1 460.2,227.5 460.7,230 461.2,232.4 461.7,234.8 462.3,237.2 462.8,239.6 463.4,242 464.1,244.4 464.7,246.8 465.4,249.2 466.2,251.6 467,254 467.8,256.4 468.7,258.7 469.6,261.1 470.6,263.4 471.6,265.8 472.6,268.1 473.8,270.4 474.9,272.6 476.2,274.9 477.4,277.1 478.8,279.3 480.2,281.4 481.6,283.5 483.1,285.6 484.7,287.6 486.3,289.6 488,291.5 489.8,293.3 491.6,295 493.5,296.5 495.4,298 497.5,299.3 499.5,300.5 501.7,301.6 503.9,302.5 506.1,303.4 508.4,304.1 510.8,304.7 513.2,305.3 515.6,305.7 518.1,306.1 520.6,306.4 523.1,306.7 525.6,306.9 528.2,307.1 530.7,307.2 533.3,307.3 535.9,307.3 538.4,307.4 541,307.4 543.6,307.5 546.1,307.5 548.7,307.5 551.3,307.6 553.8,307.6 556.3,307.6 558.9,307.6 561.4,307.6 563.9,307.6 566.5,307.6 569,307.7 571.5,307.7 574,307.7 576.5,307.7 579,307.7 581.5,307.7 584,307.7 586.5,307.7 589,307.7 591.5,307.7 594,307.7 596.5,307.7 598.9,307.6 601.4,307.6 603.9,307.6 606.4,307.6 608.9,307.6 611.4,307.6 613.8,307.6 616.3,307.6 618.8,307.6 621.3,307.6 623.8,307.7 626.2,307.7 628.7,307.7 631.2,307.7 633.7,307.7 636.2,307.7 638.7,307.7 641.2,307.7 643.7,307.7 646.2,307.7 648.7,307.8 651.2,307.8 653.7,307.8 656.2,307.8 658.7,307.8 661.2,307.8 663.7,307.8 666.2,307.8 668.7,307.8 671.3,307.8 673.8,307.8 676.4,307.8 678.9,307.8 681.4,307.8 684,307.8 L684,307.8 L402.4,307.8 Z" fill="url(#gb)" stroke="none"/>
<path d="M402.4,195.3 402.6,192.8 402.8,190.3 403.1,187.8 403.3,185.3 403.5,182.8 403.7,180.3 403.9,177.8 404.1,175.3 404.2,172.8 404.4,170.3 404.6,167.8 404.8,165.3 405,162.8 405.2,160.3 405.3,157.8 405.5,155.3 405.7,152.8 405.9,150.3 406.1,147.8 406.2,145.3 406.4,142.8 406.6,140.3 406.8,137.8 406.9,135.3 407.1,132.8 407.3,130.3 407.5,127.8 407.7,125.3 407.8,122.8 408,120.3 408.2,117.8 408.4,115.3 408.6,112.8 408.8,110.3 409,107.8 409.2,105.3 409.4,102.8 409.7,100.3 409.9,97.8 410.1,95.3 410.3,92.8 410.5,90.3 410.8,87.8 411,85.3 411.2,82.8 411.4,80.3 411.7,77.8 411.9,75.3 412.1,72.8 412.3,70.3 412.5,67.8 412.8,65.4 413,62.9 413.2,60.4 413.4,57.9 413.7,55.5 413.9,53 414.2,50.5 414.6,48.1 415.1,45.6 415.6,43.2 416.2,40.7 416.9,38.2 417.8,35.6 418.7,33 419.9,30.2 421.1,27.8 422.4,26.1 423.8,25.7 425.2,26.8 426.3,29 427.1,31.7 427.7,34.4 428.3,37 428.8,39.6 429.3,42.2 429.7,44.7 430.2,47.2 430.6,49.8 431,52.3 431.4,54.8 431.8,57.3 432.1,59.7 432.5,62.2 432.8,64.7 433.2,67.1 433.5,69.6 433.8,72 434.2,74.5 434.5,77 434.8,79.4 435.1,81.9 435.5,84.4 435.8,86.8 436.1,89.3 436.4,91.8 436.7,94.2 437.1,96.7 437.4,99.2 437.7,101.6 438.1,104.1 438.4,106.6 438.7,109.1 439.1,111.5 439.4,114 439.8,116.5 440.1,119 440.5,121.4 440.8,123.9 441.2,126.4 441.6,128.9 442,131.3 442.4,133.8 442.8,136.3 443.2,138.8 443.6,141.3 444,143.7 444.5,146.2 444.9,148.7 445.4,151.2 445.9,153.7 446.3,156.1 446.8,158.6 447.3,161.1 447.8,163.6 448.3,166.1 448.8,168.5 449.3,171 449.8,173.5 450.3,176 450.8,178.4 451.3,180.9 451.8,183.4 452.3,185.9 452.8,188.3 453.3,190.8 453.8,193.3 454.3,195.7 454.8,198.2 455.2,200.6 455.7,203.1 456.2,205.6 456.6,208 457.1,210.5 457.5,212.9 457.9,215.4 458.4,217.8 458.8,220.2 459.3,222.7 459.7,225.1 460.2,227.5 460.7,230 461.2,232.4 461.7,234.8 462.3,237.2 462.8,239.6 463.4,242 464.1,244.4 464.7,246.8 465.4,249.2 466.2,251.6 467,254 467.8,256.4 468.7,258.7 469.6,261.1 470.6,263.4 471.6,265.8 472.6,268.1 473.8,270.4 474.9,272.6 476.2,274.9 477.4,277.1 478.8,279.3 480.2,281.4 481.6,283.5 483.1,285.6 484.7,287.6 486.3,289.6 488,291.5 489.8,293.3 491.6,295 493.5,296.5 495.4,298 497.5,299.3 499.5,300.5 501.7,301.6 503.9,302.5 506.1,303.4 508.4,304.1 510.8,304.7 513.2,305.3 515.6,305.7 518.1,306.1 520.6,306.4 523.1,306.7 525.6,306.9 528.2,307.1 530.7,307.2 533.3,307.3 535.9,307.3 538.4,307.4 541,307.4 543.6,307.5 546.1,307.5 548.7,307.5 551.3,307.6 553.8,307.6 556.3,307.6 558.9,307.6 561.4,307.6 563.9,307.6 566.5,307.6 569,307.7 571.5,307.7 574,307.7 576.5,307.7 579,307.7 581.5,307.7 584,307.7 586.5,307.7 589,307.7 591.5,307.7 594,307.7 596.5,307.7 598.9,307.6 601.4,307.6 603.9,307.6 606.4,307.6 608.9,307.6 611.4,307.6 613.8,307.6 616.3,307.6 618.8,307.6 621.3,307.6 623.8,307.7 626.2,307.7 628.7,307.7 631.2,307.7 633.7,307.7 636.2,307.7 638.7,307.7 641.2,307.7 643.7,307.7 646.2,307.7 648.7,307.8 651.2,307.8 653.7,307.8 656.2,307.8 658.7,307.8 661.2,307.8 663.7,307.8 666.2,307.8 668.7,307.8 671.3,307.8 673.8,307.8 676.4,307.8 678.9,307.8 681.4,307.8 684,307.8" fill="none" stroke="#ee2a2a" stroke-width="1"/>
<path d="M377.5,308.6 380,308.6 382.5,308.5 385,308.5 387.5,308.5 390.1,308.5 392.6,308.4 395.1,308.4 397.6,308.4 400.1,308.4 402.6,308.4 405.1,308.3 407.6,308.3 410.2,308.3 412.7,308.3 415.2,308.3 417.7,308.3 420.2,308.3 422.7,308.3 425.2,308.3 427.7,308.2 430.3,308.2 432.8,308.2 435.3,308.2 437.8,308.2 440.3,308.2 442.8,308.2 445.3,308.2 447.8,308.2 450.4,308.2 452.9,308.2 455.4,308.2 457.9,308.2 460.4,308.2 462.9,308.2 465.4,308.2 467.9,308.2 470.5,308.2 473,308.2 475.5,308.2 478,308.2 480.5,308.2 483,308.3 485.5,308.3 488,308.3 490.6,308.3 493.1,308.3 495.6,308.3 498.1,308.3 500.6,308.3 503.1,308.3 505.6,308.3 508.1,308.3 510.6,308.4 513.2,308.4 515.7,308.4 518.2,308.4 520.7,308.4 523.2,308.4 525.7,308.4 528.2,308.4 530.7,308.4 533.3,308.5 535.8,308.5 538.3,308.5 540.8,308.5 543.3,308.5 545.8,308.5 548.3,308.5 550.8,308.5 553.4,308.6 555.9,308.6 558.4,308.6 560.9,308.6 563.4,308.6 565.9,308.6 568.4,308.6 570.9,308.6 573.5,308.7 576,308.7 578.5,308.7 581,308.7 583.5,308.7 586,308.7 588.5,308.7 591,308.7 593.6,308.7 596.1,308.7 598.6,308.8 601.1,308.8 603.6,308.8 606.1,308.8 608.6,308.8 611.1,308.8 613.7,308.8 616.2,308.8 618.7,308.8 621.2,308.8 623.7,308.8 626.2,308.8 628.7,308.8 631.2,308.8 633.8,308.8 636.3,308.8 638.8,308.8 641.3,308.8 643.8,308.8 646.3,308.8 648.8,308.8 651.3,308.8 653.9,308.8 656.4,308.8 658.9,308.8 661.4,308.8 663.9,308.8 666.4,308.8 668.9,308.8 671.4,308.8 674,308.8 676.5,308.7 679,308.7 681.5,308.7 684,308.7" fill="none" stroke="#2020ff" stroke-width="1.4" stroke-dasharray="4,1.5,1,1.5" stroke-linejoin="round" />
<path d="M377.5,308.4 380,308.2 382.5,308.1 385,307.9 387.5,307.7 390,307.5 392.5,307.3 395,307.1 397.5,307 400,306.8 402.6,306.6 405.1,306.5 407.6,306.3 410.1,306.2 412.6,306.1 415.1,305.9 417.6,305.9 420.1,305.8 422.6,305.7 425.1,305.7 427.6,305.7 430.1,305.7 432.7,305.7 435.2,305.8 437.7,305.8 440.2,305.9 442.7,306 445.2,306.1 447.7,306.2 450.2,306.3 452.7,306.4 455.2,306.5 457.8,306.7 460.3,306.8 462.8,306.9 465.3,307 467.8,307.1 470.3,307.2 472.8,307.3 475.3,307.4 477.8,307.5 480.4,307.5 482.9,307.6 485.4,307.6 487.9,307.7 490.4,307.7 492.9,307.7 495.4,307.8 498,307.8 500.5,307.8 503,307.8 505.5,307.8 508,307.8 510.5,307.8 513,307.8 515.6,307.8 518.1,307.8 520.6,307.8 523.1,307.7 525.6,307.7 528.1,307.7 530.6,307.7 533.2,307.7 535.7,307.6 538.2,307.6 540.7,307.6 543.2,307.6 545.7,307.6 548.2,307.6 550.8,307.6 553.3,307.5 555.8,307.5 558.3,307.5 560.8,307.5 563.3,307.5 565.8,307.5 568.4,307.5 570.9,307.5 573.4,307.5 575.9,307.5 578.4,307.5 580.9,307.5 583.5,307.5 586,307.6 588.5,307.6 591,307.6 593.5,307.6 596,307.6 598.5,307.6 601.1,307.6 603.6,307.6 606.1,307.6 608.6,307.6 611.1,307.7 613.6,307.7 616.1,307.7 618.7,307.7 621.2,307.7 623.7,307.7 626.2,307.7 628.7,307.8 631.2,307.8 633.7,307.8 636.3,307.8 638.8,307.8 641.3,307.8 643.8,307.8 646.3,307.8 648.8,307.8 651.3,307.8 653.9,307.8 656.4,307.8 658.9,307.8 661.4,307.9 663.9,307.9 666.4,307.8 668.9,307.8 671.4,307.8 674,307.8 676.5,307.8 679,307.8 681.5,307.8 684,307.8" fill="none" stroke="#222" stroke-width="1" stroke-linejoin="round" />
<path d="M377.5,308.6 380,308.4 382.5,308.2 385,308.1 387.5,307.9 390,307.7 392.5,307.5 395,307.4 397.6,307.2 400.1,307 402.6,306.9 405.1,306.8 407.6,306.6 410.1,306.5 412.6,306.4 415.1,306.3 417.6,306.3 420.1,306.2 422.6,306.2 425.1,306.1 427.7,306.1 430.2,306.1 432.7,306.1 435.2,306.2 437.7,306.2 440.2,306.3 442.7,306.4 445.2,306.5 447.7,306.6 450.2,306.7 452.8,306.8 455.3,306.9 457.8,307 460.3,307.1 462.8,307.2 465.3,307.2 467.8,307.3 470.3,307.4 472.9,307.5 475.4,307.5 477.9,307.6 480.4,307.6 482.9,307.7 485.4,307.7 487.9,307.7 490.4,307.7 493,307.7 495.5,307.8 498,307.8 500.5,307.8 503,307.8 505.5,307.8 508,307.7 510.5,307.7 513.1,307.7 515.6,307.7 518.1,307.7 520.6,307.7 523.1,307.7 525.6,307.6 528.1,307.6 530.7,307.6 533.2,307.6 535.7,307.6 538.2,307.6 540.7,307.5 543.2,307.5 545.8,307.5 548.3,307.5 550.8,307.5 553.3,307.5 555.8,307.5 558.3,307.5 560.8,307.5 563.4,307.5 565.9,307.5 568.4,307.5 570.9,307.5 573.4,307.5 575.9,307.6 578.4,307.6 581,307.6 583.5,307.6 586,307.6 588.5,307.6 591,307.6 593.5,307.6 596,307.7 598.6,307.7 601.1,307.7 603.6,307.7 606.1,307.7 608.6,307.7 611.1,307.8 613.6,307.8 616.2,307.8 618.7,307.8 621.2,307.8 623.7,307.8 626.2,307.9 628.7,307.9 631.2,307.9 633.8,307.9 636.3,307.9 638.8,307.9 641.3,308 643.8,308 646.3,308 648.8,308 651.3,308 653.9,308 656.4,308 658.9,308 661.4,308 663.9,308 666.4,308 668.9,308 671.4,308 674,308 676.5,308 679,308 681.5,308 684,308" fill="none" stroke="#f03030" stroke-width="1" stroke-dasharray="2,2" stroke-linejoin="round" />
<path d="M420,307.5 450,307.2 500,307.9 684,308.3" fill="none" stroke="#9a9a40" stroke-width="1" stroke-dasharray="2.5,3" stroke-linejoin="round" />
<path d="M415.5,189.6 416.5,187.8 418.1,185.4 420,183.1 422.1,181.5 424.2,181.3 426.1,182.7 427.7,184.4 429.1,186.4 430.2,188.5 431.1,190.7 431.9,193 432.6,195.5 433.3,198 433.9,200.5 434.4,203.1 435,205.6 435.6,208.2 436.2,210.6 436.8,213.1 437.5,215.6 438.2,218 438.9,220.4 439.6,222.7 440.3,225.1 441.1,227.4 441.9,229.8 442.7,232.1 443.5,234.4 444.3,236.7 445.1,239 446,241.4 446.9,243.7 447.7,246 448.6,248.3 449.5,250.7 450.4,253.1 451.3,255.4 452.3,257.8 453.2,260.2 454.2,262.6 455.2,265 456.2,267.4 457.2,269.8 458.4,272.1 459.5,274.4 460.7,276.6 462,278.8 463.4,280.9 464.8,282.9 466.3,284.9 467.9,286.7 469.5,288.5 471.3,290.2 473.1,291.8 475,293.4 476.9,294.8 479,296.2 481,297.4 483.2,298.6 485.3,299.8 487.6,300.8 489.9,301.8 492.2,302.6 494.6,303.4 497,304.1 499.4,304.8 501.9,305.3 504.4,305.8 506.9,306.2 509.4,306.5 512,306.8 514.5,307 517.1,307.1 519.7,307.2 522.3,307.3 524.9,307.3 527.5,307.3 530.1,307.3 532.6,307.3 535.2,307.3 537.8,307.2 540.3,307.2 542.8,307.2 545.3,307.2 547.8,307.2 550.2,307.2 552.6,307.3 555.1,307.3 557.5,307.4 559.9,307.5 562.3,307.5 564.8,307.6 567.2,307.6 569.6,307.7 572,307.8 574.5,307.8 576.9,307.9 579.4,307.9 581.9,308 584.4,308 586.9,308 589.5,308 592.1,308 594.7,307.9 597.3,307.9 600,307.8" fill="none" stroke="#34349a" stroke-width="1" stroke-linejoin="round" />
<path d="M385,308 387.7,307.5 390.1,306.6 392.3,305.5 394.3,304.2 396.2,302.7 397.9,301 399.5,299.2 401,297.3 402.4,295.3 403.8,293.2 405.2,291.1 406.7,288.9 408.1,286.8 409.7,284.6 411.3,282.5 413.1,280.5 415,278.7 417,277.1 419,276 421.2,275.4 423.4,275.5 425.6,276.1 427.8,277.2 429.8,278.7 431.8,280.3 433.7,282.1 435.6,283.7 437.5,285.4 439.5,287 441.5,288.5 443.5,290 445.6,291.4 447.7,292.8 449.9,294.1 452.1,295.4 454.3,296.6 456.5,297.7 458.7,298.8 461,299.8 463.3,300.7 465.6,301.6 468,302.4 470.3,303.2 472.7,303.9 475.1,304.5 477.5,305 480,305.5 482.4,305.9 484.9,306.2 487.3,306.5 489.8,306.7 492.3,306.9 494.8,307 497.3,307.1 499.8,307.1 502.4,307.2 504.9,307.2 507.4,307.2 509.9,307.1 512.5,307.1 515,307.1 517.5,307 520,307 522.6,307 525.1,307 527.6,307 530.1,307.1 532.6,307.2 535.1,307.3 537.5,307.5 540,307.7" fill="none" stroke="#ff30ff" stroke-width="1.1" stroke-linejoin="round" />
<path d="M428.2,300.2 430.7,301.1 433.2,301.9 435.7,302.6 438.3,303.2 440.8,303.7 443.4,304.2 446,304.6 448.6,304.9 451.2,305.2 453.8,305.5 456.4,305.7 459,305.8 461.7,306 464.3,306.1 466.9,306.2 469.5,306.3 472.2,306.4 474.8,306.6 477.4,306.7 480,306.8" fill="none" stroke="#f04040" stroke-width="1" stroke-dasharray="1.2,1.6" stroke-linejoin="round" />
</g>
<rect x="506.5" y="9.5" width="171" height="170.3" fill="#fff" stroke="#666" stroke-width="1"/>
<line x1="506.5" y1="179.8" x2="506.5" y2="181.8" stroke="#444" stroke-width="0.9" />
<line x1="515.47" y1="179.8" x2="515.47" y2="181.8" stroke="#444" stroke-width="0.9" />
<line x1="524.43" y1="179.8" x2="524.43" y2="183" stroke="#444" stroke-width="0.9" />
<text x="524.43" y="192.4" font-size="11" text-anchor="middle" fill="#111" >300</text>
<line x1="533.39" y1="179.8" x2="533.39" y2="181.8" stroke="#444" stroke-width="0.9" />
<line x1="542.36" y1="179.8" x2="542.36" y2="181.8" stroke="#444" stroke-width="0.9" />
<line x1="551.33" y1="179.8" x2="551.33" y2="181.8" stroke="#444" stroke-width="0.9" />
<line x1="560.29" y1="179.8" x2="560.29" y2="181.8" stroke="#444" stroke-width="0.9" />
<line x1="569.25" y1="179.8" x2="569.25" y2="183" stroke="#444" stroke-width="0.9" />
<text x="569.25" y="192.4" font-size="11" text-anchor="middle" fill="#111" >350</text>
<line x1="578.22" y1="179.8" x2="578.22" y2="181.8" stroke="#444" stroke-width="0.9" />
<line x1="587.18" y1="179.8" x2="587.18" y2="181.8" stroke="#444" stroke-width="0.9" />
<line x1="596.15" y1="179.8" x2="596.15" y2="181.8" stroke="#444" stroke-width="0.9" />
<line x1="605.12" y1="179.8" x2="605.12" y2="181.8" stroke="#444" stroke-width="0.9" />
<line x1="614.08" y1="179.8" x2="614.08" y2="183" stroke="#444" stroke-width="0.9" />
<text x="614.08" y="192.4" font-size="11" text-anchor="middle" fill="#111" >400</text>
<line x1="623.04" y1="179.8" x2="623.04" y2="181.8" stroke="#444" stroke-width="0.9" />
<line x1="632.01" y1="179.8" x2="632.01" y2="181.8" stroke="#444" stroke-width="0.9" />
<line x1="640.98" y1="179.8" x2="640.98" y2="181.8" stroke="#444" stroke-width="0.9" />
<line x1="649.94" y1="179.8" x2="649.94" y2="181.8" stroke="#444" stroke-width="0.9" />
<line x1="658.9" y1="179.8" x2="658.9" y2="183" stroke="#444" stroke-width="0.9" />
<text x="658.9" y="192.4" font-size="11" text-anchor="middle" fill="#111" >450</text>
<line x1="667.87" y1="179.8" x2="667.87" y2="181.8" stroke="#444" stroke-width="0.9" />
<line x1="676.84" y1="179.8" x2="676.84" y2="181.8" stroke="#444" stroke-width="0.9" />
<text x="592.3" y="205.4" font-size="11.1" font-weight="bold" text-anchor="middle" fill="#000" >Wavelength (nm)</text>
<g clip-path="url(#c4)">
<path d="M507,176.3 509.5,175.2 511.6,173.8 513.3,172.2 514.8,170.3 515.9,168.2 516.9,166 517.7,163.7 518.3,161.3 518.9,158.8 519.3,156.3 519.8,153.8 520.2,151.2 520.6,148.7 521,146.2 521.3,143.7 521.7,141.2 522,138.7 522.3,136.2 522.6,133.7 522.8,131.3 523.1,128.8 523.4,126.3 523.6,123.8 523.8,121.3 524.1,118.8 524.3,116.4 524.5,113.9 524.7,111.4 524.9,108.9 525.2,106.5 525.4,104 525.6,101.5 525.8,99 526,96.5 526.3,94 526.5,91.6 526.7,89.1 527,86.6 527.3,84.1 527.5,81.6 527.8,79.1 528.1,76.6 528.4,74.1 528.8,71.6 529.1,69.1 529.4,66.6 529.8,64.1 530.2,61.6 530.6,59.1 531,56.6 531.4,54.1 531.8,51.7 532.3,49.2 532.8,46.8 533.4,44.5 534,42.2 534.7,39.8 535.4,37.2 536.2,34.4 537.2,31.7 538.2,29.4 539.2,28.7 540.4,30.3 541.5,32.6 542.5,35.1 543.5,37.7 544.3,40.2 545,42.7 545.6,45.2 546.2,47.7 546.6,50.2 547,52.6 547.3,55.1 547.6,57.5 547.9,60 548.1,62.4 548.4,64.9 548.6,67.3 548.9,69.8 549.1,72.3 549.4,74.8 549.7,77.2 550,79.7 550.3,82.2 550.6,84.7 551,87.2 551.3,89.7 551.7,92.2 552.1,94.7 552.5,97.2 552.9,99.7 553.3,102.2 553.7,104.7 554.1,107.1 554.6,109.6 555,112.1 555.5,114.5 556,117 556.4,119.4 556.9,121.8 557.4,124.3 558,126.7 558.5,129.1 559.1,131.5 559.7,133.9 560.3,136.2 561,138.6 561.8,141 562.6,143.4 563.5,145.8 564.4,148.3 565.4,150.6 566.5,153 567.6,155.3 568.9,157.5 570.2,159.6 571.6,161.7 573.2,163.6 574.8,165.4 576.6,167.1 578.4,168.6 580.4,169.9 582.5,171.1 584.7,172.2 586.9,173.1 589.3,173.8 591.7,174.5 594.1,175 596.6,175.5 599.2,175.8 601.7,176.1 604.3,176.3 606.9,176.4 609.4,176.5 612,176.5 614.5,176.5 617,176.4 619.5,176.3 622,176.3 624.5,176.2 627,176.1 629.5,176 631.9,175.9 634.4,175.9 636.9,175.9 639.4,176 641.9,176.1 644.4,176.2 646.9,176.4 649.4,176.6 651.9,176.7 654.5,176.9 657,177 659.5,177.2 662,177.3 664.5,177.4 667,177.4 669.5,177.4 672,177.3 674.5,177.2 677,177 L677,177.2 L507,177.2 Z" fill="url(#gb)" stroke="none"/>
<path d="M507,176.3 509.5,175.2 511.6,173.8 513.3,172.2 514.8,170.3 515.9,168.2 516.9,166 517.7,163.7 518.3,161.3 518.9,158.8 519.3,156.3 519.8,153.8 520.2,151.2 520.6,148.7 521,146.2 521.3,143.7 521.7,141.2 522,138.7 522.3,136.2 522.6,133.7 522.8,131.3 523.1,128.8 523.4,126.3 523.6,123.8 523.8,121.3 524.1,118.8 524.3,116.4 524.5,113.9 524.7,111.4 524.9,108.9 525.2,106.5 525.4,104 525.6,101.5 525.8,99 526,96.5 526.3,94 526.5,91.6 526.7,89.1 527,86.6 527.3,84.1 527.5,81.6 527.8,79.1 528.1,76.6 528.4,74.1 528.8,71.6 529.1,69.1 529.4,66.6 529.8,64.1 530.2,61.6 530.6,59.1 531,56.6 531.4,54.1 531.8,51.7 532.3,49.2 532.8,46.8 533.4,44.5 534,42.2 534.7,39.8 535.4,37.2 536.2,34.4 537.2,31.7 538.2,29.4 539.2,28.7 540.4,30.3 541.5,32.6 542.5,35.1 543.5,37.7 544.3,40.2 545,42.7 545.6,45.2 546.2,47.7 546.6,50.2 547,52.6 547.3,55.1 547.6,57.5 547.9,60 548.1,62.4 548.4,64.9 548.6,67.3 548.9,69.8 549.1,72.3 549.4,74.8 549.7,77.2 550,79.7 550.3,82.2 550.6,84.7 551,87.2 551.3,89.7 551.7,92.2 552.1,94.7 552.5,97.2 552.9,99.7 553.3,102.2 553.7,104.7 554.1,107.1 554.6,109.6 555,112.1 555.5,114.5 556,117 556.4,119.4 556.9,121.8 557.4,124.3 558,126.7 558.5,129.1 559.1,131.5 559.7,133.9 560.3,136.2 561,138.6 561.8,141 562.6,143.4 563.5,145.8 564.4,148.3 565.4,150.6 566.5,153 567.6,155.3 568.9,157.5 570.2,159.6 571.6,161.7 573.2,163.6 574.8,165.4 576.6,167.1 578.4,168.6 580.4,169.9 582.5,171.1 584.7,172.2 586.9,173.1 589.3,173.8 591.7,174.5 594.1,175 596.6,175.5 599.2,175.8 601.7,176.1 604.3,176.3 606.9,176.4 609.4,176.5 612,176.5 614.5,176.5 617,176.4 619.5,176.3 622,176.3 624.5,176.2 627,176.1 629.5,176 631.9,175.9 634.4,175.9 636.9,175.9 639.4,176 641.9,176.1 644.4,176.2 646.9,176.4 649.4,176.6 651.9,176.7 654.5,176.9 657,177 659.5,177.2 662,177.3 664.5,177.4 667,177.4 669.5,177.4 672,177.3 674.5,177.2 677,177" fill="none" stroke="#f59a9a" stroke-width="0.9"/>
<path d="M505.7,176.5 508.4,175.8 510.7,174.7 512.6,173.2 514.2,171.5 515.4,169.4 516.5,167.2 517.3,164.9 518.1,162.4 518.7,159.9 519.3,157.5 519.9,155 520.4,152.5 520.9,150 521.3,147.5 521.8,145.1 522.2,142.6 522.5,140.1 522.9,137.6 523.2,135.2 523.5,132.7 523.8,130.2 524.1,127.7 524.4,125.2 524.7,122.7 525,120.2 525.2,117.7 525.5,115.2 525.8,112.7 526.1,110.2 526.4,107.7 526.7,105.2 527.1,102.7 527.5,100.2 527.9,97.7 528.3,95.3 528.7,92.8 529.2,90.4 529.8,87.9 530.3,85.5 530.9,83.1 531.6,80.7 532.3,78.3 533.1,75.8 533.9,73.4 534.7,70.8 535.7,68.2 536.7,65.7 537.9,63.7 539.4,63 541.1,64.4 542.4,66.8 543.5,69.5 544.4,72.1 545.2,74.4 545.8,76.8 546.4,79.2 547,81.6 547.5,84 548,86.4 548.5,88.9 549,91.3 549.4,93.8 549.8,96.3 550.2,98.8 550.6,101.3 551,103.8 551.4,106.3 551.8,108.8 552.2,111.3 552.6,113.8 553.1,116.3 553.5,118.7 554,121.2 554.5,123.6 555,126.1 555.6,128.5 556.2,130.9 556.9,133.3 557.6,135.8 558.4,138.2 559.2,140.6 560.1,143 561,145.4 562,147.7 563.1,150 564.2,152.3 565.4,154.5 566.7,156.7 568.1,158.8 569.5,160.8 571.1,162.7 572.7,164.6 574.4,166.3 576.2,167.9 578.1,169.4 580.1,170.7 582.2,172 584.4,173 586.7,173.9 589.1,174.7 591.6,175.2 594.2,175.7 596.8,176 599.5,176.2 602.2,176.3 604.8,176.4 607.5,176.4 610.1,176.3 612.6,176.2 615.1,176.2 617.5,176.1 619.8,176 622.2,176.1 624.6,176.1 627.1,176.2 629.6,176.4 632.1,176.6 634.7,176.8 637.2,177 639.8,177.1 642.3,177.2 644.9,177.2 647.4,177.3 649.9,177.2 652.4,177.2 654.9,177.1 657.4,177 659.9,176.9 662.4,176.8 664.9,176.8 667.4,176.7 669.9,176.7 672.4,176.6 674.9,176.7 677.4,176.7 680,176.9 682.5,177" fill="none" stroke="#e040ff" stroke-width="1" stroke-linejoin="round" />
<path d="M505.7,176.6 508.5,175.9 510.8,174.9 512.7,173.5 514.3,171.7 515.5,169.7 516.6,167.5 517.5,165.1 518.2,162.7 518.9,160.3 519.5,157.8 520.1,155.3 520.7,152.9 521.2,150.4 521.6,148 522.1,145.5 522.5,143 522.8,140.6 523.2,138.1 523.5,135.6 523.8,133.1 524.2,130.7 524.5,128.2 524.8,125.7 525,123.2 525.3,120.7 525.6,118.2 526,115.7 526.3,113.2 526.6,110.7 527,108.3 527.4,105.8 527.8,103.3 528.2,100.8 528.7,98.4 529.2,96 529.8,93.6 530.4,91.2 531,88.8 531.8,86.4 532.5,84 533.4,81.5 534.2,79 535.2,76.4 536.3,73.7 537.4,71.5 538.9,70.5 540.5,71.1 542,73.1 543.2,75.8 544.2,78.4 545,80.8 545.7,83.1 546.3,85.5 546.9,87.9 547.5,90.3 548.1,92.8 548.6,95.2 549.1,97.7 549.5,100.2 550,102.7 550.4,105.2 550.9,107.7 551.3,110.2 551.8,112.7 552.2,115.2 552.7,117.6 553.1,120 553.6,122.5 554.1,124.8 554.7,127.2 555.3,129.6 555.9,132 556.5,134.4 557.2,136.7 558,139.1 558.8,141.5 559.6,143.9 560.6,146.3 561.5,148.7 562.6,151.1 563.8,153.4 565,155.6 566.3,157.8 567.7,159.9 569.2,161.9 570.8,163.8 572.6,165.6 574.4,167.2 576.3,168.7 578.4,170 580.5,171.2 582.7,172.3 585,173.2 587.3,174 589.7,174.7 592.1,175.2 594.6,175.6 597.1,175.9 599.6,176.1 602.1,176.3 604.7,176.4 607.2,176.4 609.8,176.4 612.3,176.4 614.9,176.3 617.5,176.3 620,176.3 622.5,176.3 625,176.3 627.5,176.4 630,176.5 632.4,176.6 634.9,176.8 637.3,176.9 639.8,177 642.3,177.1 644.8,177.1 647.3,177.1 649.8,177.1 652.3,177.1 654.9,177 657.4,177 659.9,176.9 662.5,176.9 665,176.8 667.6,176.8 670.1,176.8 672.6,176.8 675.1,176.8 677.6,176.9 680.1,176.9 682.5,177.1" fill="none" stroke="#4040ff" stroke-width="1" stroke-linejoin="round" />
<path d="M507,177 509.8,177.1 512.3,176.7 514.5,175.7 516.5,174.2 518.1,172.4 519.6,170.4 520.8,168.1 521.9,165.8 522.8,163.5 523.5,161.1 524.1,158.7 524.7,156.2 525.1,153.8 525.5,151.3 525.9,148.8 526.3,146.3 526.7,143.8 527.2,141.3 527.7,138.8 528.4,136.4 529.1,133.9 529.9,131.5 530.9,129.2 532,126.9 533.3,124.6 534.7,122.4 536.2,120.3 537.9,118.8 539.7,118.6 541.3,120.3 542.9,123 544.4,125.4 545.7,127.7 546.9,129.9 547.9,132.1 548.8,134.3 549.7,136.5 550.5,138.7 551.4,141 552.4,143.3 553.3,145.7 554.4,148.1 555.5,150.5 556.6,152.9 557.9,155.3 559.2,157.5 560.6,159.8 562,161.9 563.6,163.9 565.3,165.8 567,167.5 568.9,169 570.9,170.4 572.9,171.6 575.1,172.7 577.3,173.6 579.6,174.4 581.9,175.1 584.4,175.7 586.8,176.2 589.4,176.5 591.9,176.8 594.5,177 597.1,177.2 599.7,177.3 602.4,177.3 605,177.3 607.6,177.3 610.3,177.3 612.9,177.2 615.5,177.1 618,177.1 620.5,177 623,177 625.4,177 627.7,177.1 630,177.2" fill="none" stroke="#444" stroke-width="0.9" stroke-linejoin="round" />
<path d="M524.5,159.4 525.9,157.6 527.2,155.4 528.5,153.2 530,150.8 531.6,148.6 533.3,146.7 535.4,145.2 537.7,144.4 540.2,144.3 542.7,144.9 545,145.9 546.8,147.4 548.3,149 549.9,150.8 551.5,152.7 553.2,154.7 554.9,156.6 556.7,158.6 558.6,160.5 560.5,162.4 562.5,164.2 564.5,165.9 566.6,167.5 568.7,169 570.9,170.3 573.1,171.4 575.3,172.4 577.6,173.3 579.9,174 582.2,174.7 584.6,175.2 587,175.6 589.5,176 591.9,176.3 594.4,176.5 596.9,176.7 599.4,176.8 601.9,176.9 604.5,177 607,177.1 609.6,177.1 612.1,177.1 614.7,177 617.3,177 619.8,177 622.4,177 624.9,176.9 627.5,176.9 630,176.9 632.5,177 635,177 637.5,177.1 640,177.2" fill="none" stroke="#3a9a3a" stroke-width="0.9" stroke-linejoin="round" />
<path d="M533,170.1 535.2,171.4 537.5,172.6 539.8,173.5 542.2,174.3 544.6,174.9 547.1,175.4 549.7,175.8 552.2,176.1 554.8,176.4 557.3,176.5 559.9,176.6 562.5,176.7 565,176.8 567.5,176.9 570,177" fill="none" stroke="#a070ff" stroke-width="0.9" stroke-dasharray="2,1" stroke-linejoin="round" />
<path d="M545,174 552,175.5 560,176.6 575,177.2" fill="none" stroke="#b050b0" stroke-width="0.9" stroke-dasharray="2,1" stroke-linejoin="round" />
<path d="M556,175.6 566,176.9 590,177.4 677,177.5" fill="none" stroke="#ff3030" stroke-width="1" stroke-linejoin="round" />
<path d="M506.3,176.3 508.8,175.2 510.9,173.8 512.6,172.1 514.1,170.3 515.3,168.2 516.2,166 517,163.6 517.7,161.2 518.2,158.7 518.7,156.2 519.1,153.6 519.5,151.1 519.9,148.6 520.3,146.1 520.7,143.6 521,141.1 521.3,138.6 521.6,136.1 521.9,133.6 522.1,131.1 522.4,128.6 522.7,126.1 522.9,123.6 523.1,121.1 523.3,118.6 523.6,116.1 523.8,113.7 524,111.2 524.2,108.7 524.4,106.2 524.6,103.7 524.9,101.2 525.1,98.7 525.3,96.2 525.6,93.7 525.8,91.2 526.1,88.7 526.4,86.2 526.7,83.7 526.9,81.2 527.3,78.7 527.6,76.2 527.9,73.7 528.2,71.2 528.6,68.7 528.9,66.2 529.3,63.7 529.6,61.2 530,58.7 530.4,56.2 530.7,53.7 531.1,51.2 531.6,48.8 532,46.4 532.6,44.1 533.2,41.8 533.9,39.3 534.7,36.5 535.5,33.5 536.5,30.8 537.7,29.1 538.9,28.8 540.1,30.1 541.3,32.3 542.5,35 543.4,37.7 544.3,40.4 545,43 545.6,45.6 546.1,48.1 546.5,50.5 546.9,52.9 547.2,55.3 547.5,57.7 547.8,60.1 548.1,62.5 548.5,65 548.9,67.4 549.3,69.9 549.7,72.4 550.1,74.9 550.5,77.4 551,79.9 551.5,82.4 551.9,84.9 552.4,87.4 552.9,89.9 553.4,92.4 553.9,94.9 554.4,97.3 554.9,99.8 555.4,102.3 555.8,104.7 556.3,107.2 556.8,109.6 557.3,112 557.8,114.5 558.2,116.9 558.7,119.3 559.2,121.8 559.7,124.2 560.2,126.6 560.8,129.1 561.4,131.5 562,133.9 562.7,136.4 563.4,138.8 564.1,141.3 564.9,143.7 565.8,146.1 566.7,148.5 567.7,150.9 568.8,153.2 569.9,155.4 571.2,157.7 572.5,159.8 573.9,161.9 575.4,163.9 577,165.7 578.7,167.5 580.5,169.1 582.5,170.6 584.5,171.9 586.6,173.1 588.9,174 591.3,174.7 593.7,175.1 596.3,175.5 598.8,175.7 601.5,175.8 604.1,175.9 606.7,176 609.3,176.1 611.8,176.2 614.3,176.3 616.8,176.4 619.4,176.6 621.8,176.7 624.3,176.8 626.8,176.9 629.3,177 631.8,177 634.3,177.1 636.8,177.1 639.3,177.2 641.8,177.2 644.3,177.2 646.8,177.2 649.3,177.2 651.8,177.2 654.4,177.2 656.9,177.2 659.4,177.2 661.9,177.1 664.4,177.1 667,177.2 669.5,177.2 672,177.2 674.5,177.2 677,177.3" fill="none" stroke="#ff3030" stroke-width="1" stroke-linejoin="round" />
</g>
<text x="603.2" y="25.9" font-size="10.8" fill="#111"><tspan font-style="italic">λ</tspan><tspan font-size="7.78" dy="3.02">ex</tspan><tspan dy="-3.02"> (nm)</tspan></text>
<line x1="572.6" y1="36" x2="596.6" y2="36" stroke="#555" stroke-width="0.75"/>
<line x1="624.2" y1="36" x2="648.3" y2="36" stroke="#6a6aff" stroke-width="0.75"/>
<text x="599.3" y="39.92" font-size="10.9" text-anchor="start" fill="#111" >250</text>
<text x="651.4" y="39.92" font-size="10.9" text-anchor="start" fill="#111" >260</text>
<rect x="573.1" y="43.55" width="23" height="11.5" fill="url(#gbs)" stroke="#f07070" stroke-width="1"/>
<line x1="624.2" y1="49.3" x2="648.3" y2="49.3" stroke="#ff70ff" stroke-width="0.75"/>
<text x="599.3" y="53.22" font-size="10.9" text-anchor="start" fill="#111" >270</text>
<text x="651.4" y="53.22" font-size="10.9" text-anchor="start" fill="#111" >280</text>
<line x1="572.6" y1="62.7" x2="596.6" y2="62.7" stroke="#8cc88c" stroke-width="1.2"/>
<line x1="624.2" y1="62.7" x2="648.3" y2="62.7" stroke="#9a9ae8" stroke-width="0.9" stroke-dasharray="1,0.8"/>
<text x="599.3" y="66.62" font-size="10.9" text-anchor="start" fill="#111" >290</text>
<text x="651.4" y="66.62" font-size="10.9" text-anchor="start" fill="#111" >300</text>
<line x1="572.6" y1="76" x2="596.6" y2="76" stroke="#a07aff" stroke-width="0.75" stroke-dasharray="2,1"/>
<line x1="624.2" y1="76" x2="648.3" y2="76" stroke="#b060b0" stroke-width="0.75" stroke-dasharray="2,1"/>
<text x="599.3" y="79.92" font-size="10.9" text-anchor="start" fill="#111" >310</text>
<text x="651.4" y="79.92" font-size="10.9" text-anchor="start" fill="#111" >320</text>
<line x1="572.6" y1="89.3" x2="596.6" y2="89.3" stroke="#ff4040" stroke-width="0.9"/>
<line x1="624.2" y1="89.3" x2="648.3" y2="89.3" stroke="#d8d8a8" stroke-width="0.75" stroke-dasharray="1,2"/>
<text x="599.3" y="93.22" font-size="10.9" text-anchor="start" fill="#111" >330</text>
<text x="651.4" y="93.22" font-size="10.9" text-anchor="start" fill="#111" >340</text>
<text x="523" y="24.5" font-size="12.2" font-weight="bold" text-anchor="start" fill="#0000ff" >316 nm</text>
<path d="M619.2,138.3 L615.65,132.15 L608.55,132.15 L605,138.3 L608.55,144.45 L615.65,144.45 Z" fill="none" stroke="#4a4a4a" stroke-width="0.75"/>
<line x1="609.26" y1="134.11" x2="607.06" y2="137.94" stroke="#4a4a4a" stroke-width="0.75"/>
<line x1="617.14" y1="137.94" x2="614.94" y2="134.11" stroke="#4a4a4a" stroke-width="0.75"/>
<line x1="609.89" y1="142.85" x2="614.31" y2="142.85" stroke="#4a4a4a" stroke-width="0.75"/>
<path d="M640.4,138.3 L636.85,132.15 L629.75,132.15 L626.2,138.3 L629.75,144.45 L636.85,144.45 Z" fill="none" stroke="#4a4a4a" stroke-width="0.75"/>
<line x1="635.51" y1="133.75" x2="631.09" y2="133.75" stroke="#4a4a4a" stroke-width="0.75"/>
<line x1="628.26" y1="138.66" x2="630.46" y2="142.49" stroke="#4a4a4a" stroke-width="0.75"/>
<line x1="636.14" y1="142.49" x2="638.34" y2="138.66" stroke="#4a4a4a" stroke-width="0.75"/>
<line x1="619.2" y1="138.3" x2="626.2" y2="138.3" stroke="#4a4a4a" stroke-width="0.75" />
<line x1="640.4" y1="138.3" x2="646.7" y2="138.3" stroke="#4a4a4a" stroke-width="0.75" />
<path d="M661.7,126.2 L658.15,120.05 L651.05,120.05 L647.5,126.2 L651.05,132.35 L658.15,132.35 Z" fill="none" stroke="#4a4a4a" stroke-width="0.75"/>
<line x1="656.81" y1="121.65" x2="652.39" y2="121.65" stroke="#4a4a4a" stroke-width="0.75"/>
<line x1="649.56" y1="126.56" x2="651.76" y2="130.39" stroke="#4a4a4a" stroke-width="0.75"/>
<line x1="657.44" y1="130.39" x2="659.64" y2="126.56" stroke="#4a4a4a" stroke-width="0.75"/>
<path d="M661.7,150.4 L658.15,144.25 L651.05,144.25 L647.5,150.4 L651.05,156.55 L658.15,156.55 Z" fill="none" stroke="#4a4a4a" stroke-width="0.75"/>
<line x1="659.64" y1="150.04" x2="657.44" y2="146.21" stroke="#4a4a4a" stroke-width="0.75"/>
<line x1="651.76" y1="146.21" x2="649.56" y2="150.04" stroke="#4a4a4a" stroke-width="0.75"/>
<line x1="652.39" y1="154.95" x2="656.81" y2="154.95" stroke="#4a4a4a" stroke-width="0.75"/>
<line x1="646.7" y1="138.3" x2="651.05" y2="132.35" stroke="#4a4a4a" stroke-width="0.75" />
<line x1="646.7" y1="138.3" x2="651.05" y2="144.25" stroke="#4a4a4a" stroke-width="0.75" />
<text x="635.2" y="167.7" font-size="9.6" text-anchor="middle" fill="#222" >BPM</text>
<text x="589" y="231.5" font-size="11" fill="#111"><tspan font-style="italic">λ</tspan><tspan font-size="7.92" dy="3.08">ex</tspan><tspan dy="-3.08"> (nm)</tspan></text>
<line x1="547.6" y1="242.2" x2="577.8" y2="242.2" stroke="#222" stroke-width="1"/>
<line x1="606.9" y1="242.2" x2="637.5" y2="242.2" stroke="#f04040" stroke-width="1" stroke-dasharray="2.5,2.5"/>
<text x="581.4" y="246.45" font-size="11.8" text-anchor="start" fill="#111" >250</text>
<text x="640.3" y="246.45" font-size="11.8" text-anchor="start" fill="#111" >260</text>
<line x1="547.6" y1="256.5" x2="577.8" y2="256.5" stroke="#3a3aff" stroke-width="1" stroke-dasharray="3.5,2,1,2"/>
<line x1="606.9" y1="256.5" x2="637.5" y2="256.5" stroke="#ff30ff" stroke-width="1.2"/>
<text x="581.4" y="260.75" font-size="11.8" text-anchor="start" fill="#111" >270</text>
<text x="640.3" y="260.75" font-size="11.8" text-anchor="start" fill="#111" >280</text>
<rect x="548.1" y="264.6" width="29.2" height="11.2" fill="url(#gbs)" stroke="#e83030" stroke-width="1"/>
<line x1="606.9" y1="270.2" x2="637.5" y2="270.2" stroke="#2a2a80" stroke-width="1.2"/>
<text x="581.4" y="274.45" font-size="11.8" text-anchor="start" fill="#111" >290</text>
<text x="640.3" y="274.45" font-size="11.8" text-anchor="start" fill="#111" >300</text>
<line x1="547.6" y1="284.3" x2="577.8" y2="284.3" stroke="#f06060" stroke-width="1" stroke-dasharray="1,1.6,3,1.6"/>
<line x1="606.9" y1="284.3" x2="637.5" y2="284.3" stroke="#9a30b0" stroke-width="1" stroke-dasharray="3.5,2,1,2"/>
<text x="581.4" y="288.55" font-size="11.8" text-anchor="start" fill="#111" >310</text>
<text x="640.3" y="288.55" font-size="11.8" text-anchor="start" fill="#111" >320</text>
<line x1="547.6" y1="298.2" x2="577.8" y2="298.2" stroke="#2020ff" stroke-width="1.2"/>
<line x1="606.9" y1="298.2" x2="637.5" y2="298.2" stroke="#8a8a30" stroke-width="1" stroke-dasharray="2.5,3"/>
<text x="581.4" y="302.45" font-size="11.8" text-anchor="start" fill="#111" >330</text>
<text x="640.3" y="302.45" font-size="11.8" text-anchor="start" fill="#111" >340</text>
<text x="404.2" y="19.8" font-size="12.4" font-weight="bold" text-anchor="start" fill="#0000ff" >316 nm</text>
<rect x="23.5" y="370" width="307" height="307" fill="none" stroke="#545454" stroke-width="1.05"/>
<line x1="23.5" y1="677" x2="23.5" y2="679.3" stroke="#545454" stroke-width="1.05" />
<line x1="36.29" y1="677" x2="36.29" y2="679.3" stroke="#545454" stroke-width="1.05" />
<line x1="49.08" y1="677" x2="49.08" y2="681.2" stroke="#545454" stroke-width="1.05" />
<text x="49.08" y="694" font-size="13" text-anchor="middle" fill="#111" >300</text>
<line x1="61.88" y1="677" x2="61.88" y2="679.3" stroke="#545454" stroke-width="1.05" />
<line x1="74.67" y1="677" x2="74.67" y2="679.3" stroke="#545454" stroke-width="1.05" />
<line x1="87.46" y1="677" x2="87.46" y2="679.3" stroke="#545454" stroke-width="1.05" />
<line x1="100.25" y1="677" x2="100.25" y2="679.3" stroke="#545454" stroke-width="1.05" />
<line x1="113.04" y1="677" x2="113.04" y2="681.2" stroke="#545454" stroke-width="1.05" />
<text x="113.04" y="694" font-size="13" text-anchor="middle" fill="#111" >350</text>
<line x1="125.83" y1="677" x2="125.83" y2="679.3" stroke="#545454" stroke-width="1.05" />
<line x1="138.62" y1="677" x2="138.62" y2="679.3" stroke="#545454" stroke-width="1.05" />
<line x1="151.42" y1="677" x2="151.42" y2="679.3" stroke="#545454" stroke-width="1.05" />
<line x1="164.21" y1="677" x2="164.21" y2="679.3" stroke="#545454" stroke-width="1.05" />
<line x1="177" y1="677" x2="177" y2="681.2" stroke="#545454" stroke-width="1.05" />
<text x="177" y="694" font-size="13" text-anchor="middle" fill="#111" >400</text>
<line x1="189.79" y1="677" x2="189.79" y2="679.3" stroke="#545454" stroke-width="1.05" />
<line x1="202.58" y1="677" x2="202.58" y2="679.3" stroke="#545454" stroke-width="1.05" />
<line x1="215.37" y1="677" x2="215.37" y2="679.3" stroke="#545454" stroke-width="1.05" />
<line x1="228.17" y1="677" x2="228.17" y2="679.3" stroke="#545454" stroke-width="1.05" />
<line x1="240.96" y1="677" x2="240.96" y2="681.2" stroke="#545454" stroke-width="1.05" />
<text x="240.96" y="694" font-size="13" text-anchor="middle" fill="#111" >450</text>
<line x1="253.75" y1="677" x2="253.75" y2="679.3" stroke="#545454" stroke-width="1.05" />
<line x1="266.54" y1="677" x2="266.54" y2="679.3" stroke="#545454" stroke-width="1.05" />
<line x1="279.33" y1="677" x2="279.33" y2="679.3" stroke="#545454" stroke-width="1.05" />
<line x1="292.12" y1="677" x2="292.12" y2="679.3" stroke="#545454" stroke-width="1.05" />
<line x1="304.92" y1="677" x2="304.92" y2="681.2" stroke="#545454" stroke-width="1.05" />
<text x="304.92" y="694" font-size="13" text-anchor="middle" fill="#111" >500</text>
<line x1="317.71" y1="677" x2="317.71" y2="679.3" stroke="#545454" stroke-width="1.05" />
<line x1="330.5" y1="677" x2="330.5" y2="679.3" stroke="#545454" stroke-width="1.05" />
<text x="176.6" y="709.8" font-size="16.4" font-weight="bold" text-anchor="middle" fill="#000" >Wavelength (nm)</text>
<text x="0" y="0" font-size="17.05" font-weight="bold" text-anchor="middle" transform="translate(12.4,522.8) rotate(-90)">PL intensity (arb. units)</text>
<text x="0.2" y="383.9" font-size="18" font-weight="bold" text-anchor="start" fill="#000" >c</text>
<g clip-path="url(#c5)">
<path d="M61.1,437.5 61.5,434.7 61.8,432.2 62.2,430 62.6,427.9 63.2,425.7 63.9,423.1 65,420.3 66.3,417.4 67.7,415 69.3,413.9 70.9,414.6 72.4,416.4 73.8,418.7 75.1,421 76.1,423.4 77.1,425.7 77.9,428.1 78.6,430.5 79.3,432.9 79.8,435.2 80.3,437.6 80.8,440 81.2,442.5 81.5,444.9 81.9,447.3 82.3,449.7 82.7,452.2 83.1,454.6 83.5,457 84,459.5 84.5,461.9 84.9,464.4 85.4,466.9 85.9,469.3 86.4,471.8 86.9,474.3 87.4,476.7 87.9,479.2 88.5,481.7 89,484.1 89.5,486.6 90,489.1 90.5,491.6 91,494 91.5,496.5 92,499 92.5,501.4 93,503.9 93.5,506.4 94,508.9 94.5,511.3 95,513.8 95.5,516.3 96.1,518.8 96.6,521.2 97.1,523.7 97.6,526.2 98.1,528.6 98.6,531.1 99.1,533.6 99.6,536 100.2,538.5 100.7,541 101.2,543.4 101.7,545.9 102.3,548.3 102.8,550.8 103.4,553.2 103.9,555.7 104.4,558.1 105,560.6 105.5,563 106,565.5 106.5,567.9 107.1,570.3 107.6,572.8 108.1,575.2 108.6,577.6 109.1,580 109.5,582.5 110,584.9 110.6,587.3 111.1,589.7 111.6,592.1 112.2,594.5 112.8,596.9 113.4,599.3 114,601.7 114.7,604.1 115.4,606.5 116.2,608.8 117,611.2 117.9,613.6 118.8,615.9 119.7,618.2 120.7,620.6 121.8,622.9 122.9,625.1 124,627.4 125.2,629.6 126.5,631.8 127.8,633.9 129.2,636 130.6,638.1 132.1,640.1 133.6,642.1 135.2,644.1 136.9,646 138.6,647.8 140.4,649.6 142.2,651.3 144.1,653 146.1,654.6 148.1,656.2 150.2,657.7 152.3,659.1 154.4,660.5 156.6,661.7 158.8,662.9 161,664.1 163.3,665.1 165.6,666.1 167.9,666.9 170.3,667.7 172.6,668.4 175,669 177.4,669.6 179.8,670.1 182.3,670.5 184.7,670.8 187.2,671.1 189.6,671.4 192.1,671.6 194.6,671.9 197.1,672.1 199.6,672.3 202.1,672.5 204.6,672.7 207.1,672.8 209.7,673 212.2,673.2 214.7,673.3 217.2,673.5 219.8,673.6 222.3,673.7 224.8,673.8 227.3,674 229.9,674.1 232.4,674.2 234.9,674.2 237.4,674.3 239.9,674.4 242.4,674.5 244.9,674.5 247.4,674.6 249.9,674.6 252.4,674.7 254.9,674.7 257.4,674.7 259.9,674.8 262.4,674.8 264.9,674.8 267.4,674.8 269.9,674.8 272.4,674.8 274.9,674.8 277.4,674.9 279.9,674.9 282.4,674.9 284.9,674.9 287.4,674.9 289.8,674.9 292.3,674.9 294.8,674.9 297.3,674.9 299.8,674.9 302.3,674.9 304.8,674.9 307.4,674.9 309.9,674.9 312.4,675 314.9,675 317.4,675 319.9,675 322.4,675.1 324.9,675.1 327.5,675.2 330,675.2 L330,675.6 L61.1,675.6 Z" fill="url(#gb)" stroke="none"/>
<path d="M61.1,437.5 61.5,434.7 61.8,432.2 62.2,430 62.6,427.9 63.2,425.7 63.9,423.1 65,420.3 66.3,417.4 67.7,415 69.3,413.9 70.9,414.6 72.4,416.4 73.8,418.7 75.1,421 76.1,423.4 77.1,425.7 77.9,428.1 78.6,430.5 79.3,432.9 79.8,435.2 80.3,437.6 80.8,440 81.2,442.5 81.5,444.9 81.9,447.3 82.3,449.7 82.7,452.2 83.1,454.6 83.5,457 84,459.5 84.5,461.9 84.9,464.4 85.4,466.9 85.9,469.3 86.4,471.8 86.9,474.3 87.4,476.7 87.9,479.2 88.5,481.7 89,484.1 89.5,486.6 90,489.1 90.5,491.6 91,494 91.5,496.5 92,499 92.5,501.4 93,503.9 93.5,506.4 94,508.9 94.5,511.3 95,513.8 95.5,516.3 96.1,518.8 96.6,521.2 97.1,523.7 97.6,526.2 98.1,528.6 98.6,531.1 99.1,533.6 99.6,536 100.2,538.5 100.7,541 101.2,543.4 101.7,545.9 102.3,548.3 102.8,550.8 103.4,553.2 103.9,555.7 104.4,558.1 105,560.6 105.5,563 106,565.5 106.5,567.9 107.1,570.3 107.6,572.8 108.1,575.2 108.6,577.6 109.1,580 109.5,582.5 110,584.9 110.6,587.3 111.1,589.7 111.6,592.1 112.2,594.5 112.8,596.9 113.4,599.3 114,601.7 114.7,604.1 115.4,606.5 116.2,608.8 117,611.2 117.9,613.6 118.8,615.9 119.7,618.2 120.7,620.6 121.8,622.9 122.9,625.1 124,627.4 125.2,629.6 126.5,631.8 127.8,633.9 129.2,636 130.6,638.1 132.1,640.1 133.6,642.1 135.2,644.1 136.9,646 138.6,647.8 140.4,649.6 142.2,651.3 144.1,653 146.1,654.6 148.1,656.2 150.2,657.7 152.3,659.1 154.4,660.5 156.6,661.7 158.8,662.9 161,664.1 163.3,665.1 165.6,666.1 167.9,666.9 170.3,667.7 172.6,668.4 175,669 177.4,669.6 179.8,670.1 182.3,670.5 184.7,670.8 187.2,671.1 189.6,671.4 192.1,671.6 194.6,671.9 197.1,672.1 199.6,672.3 202.1,672.5 204.6,672.7 207.1,672.8 209.7,673 212.2,673.2 214.7,673.3 217.2,673.5 219.8,673.6 222.3,673.7 224.8,673.8 227.3,674 229.9,674.1 232.4,674.2 234.9,674.2 237.4,674.3 239.9,674.4 242.4,674.5 244.9,674.5 247.4,674.6 249.9,674.6 252.4,674.7 254.9,674.7 257.4,674.7 259.9,674.8 262.4,674.8 264.9,674.8 267.4,674.8 269.9,674.8 272.4,674.8 274.9,674.8 277.4,674.9 279.9,674.9 282.4,674.9 284.9,674.9 287.4,674.9 289.8,674.9 292.3,674.9 294.8,674.9 297.3,674.9 299.8,674.9 302.3,674.9 304.8,674.9 307.4,674.9 309.9,674.9 312.4,675 314.9,675 317.4,675 319.9,675 322.4,675.1 324.9,675.1 327.5,675.2 330,675.2" fill="none" stroke="#ee2a2a" stroke-width="1"/>
<path d="M74,650.3 76.2,649.9 78.5,649.2 80.8,648.3 83,647.2 85.4,646 87.7,644.8 90.1,643.8 92.5,642.9 94.9,642.3 97.3,642.1 99.8,642.2 102.2,642.5 104.6,643.1 107,643.8 109.3,644.7 111.6,645.8 113.9,646.9 116.1,648 118.4,649.3 120.6,650.5 122.9,651.6 125.1,652.8 127.4,653.9 129.7,655 132,656.1 134.3,657.1 136.6,658.2 139,659.1 141.3,660.1 143.7,661 146,661.9 148.4,662.8 150.8,663.6 153.1,664.4 155.5,665.2 157.9,665.9 160.3,666.6 162.7,667.2 165.2,667.9 167.6,668.5 170,669 172.4,669.6 174.9,670.1 177.3,670.5 179.8,670.9 182.3,671.3 184.7,671.7 187.2,672 189.7,672.3 192.1,672.5 194.6,672.7 197.1,672.9 199.6,673.1 202.1,673.3 204.6,673.4 207.1,673.5 209.6,673.6 212.1,673.7 214.6,673.8 217.1,673.8 219.7,673.9 222.2,673.9 224.7,673.9 227.2,674 229.7,674 232.3,674 234.8,674 237.3,674.1 239.8,674.1 242.3,674.2 244.9,674.2 247.4,674.3 249.9,674.4 252.4,674.5 255,674.6 257.5,674.7 260,674.9 L260,675.6 L74,675.6 Z" fill="url(#gp)" stroke="none"/>
<path d="M74,650.3 76.2,649.9 78.5,649.2 80.8,648.3 83,647.2 85.4,646 87.7,644.8 90.1,643.8 92.5,642.9 94.9,642.3 97.3,642.1 99.8,642.2 102.2,642.5 104.6,643.1 107,643.8 109.3,644.7 111.6,645.8 113.9,646.9 116.1,648 118.4,649.3 120.6,650.5 122.9,651.6 125.1,652.8 127.4,653.9 129.7,655 132,656.1 134.3,657.1 136.6,658.2 139,659.1 141.3,660.1 143.7,661 146,661.9 148.4,662.8 150.8,663.6 153.1,664.4 155.5,665.2 157.9,665.9 160.3,666.6 162.7,667.2 165.2,667.9 167.6,668.5 170,669 172.4,669.6 174.9,670.1 177.3,670.5 179.8,670.9 182.3,671.3 184.7,671.7 187.2,672 189.7,672.3 192.1,672.5 194.6,672.7 197.1,672.9 199.6,673.1 202.1,673.3 204.6,673.4 207.1,673.5 209.6,673.6 212.1,673.7 214.6,673.8 217.1,673.8 219.7,673.9 222.2,673.9 224.7,673.9 227.2,674 229.7,674 232.3,674 234.8,674 237.3,674.1 239.8,674.1 242.3,674.2 244.9,674.2 247.4,674.3 249.9,674.4 252.4,674.5 255,674.6 257.5,674.7 260,674.9" fill="none" stroke="#ff2a3a" stroke-width="1"/>
<path d="M23.5,676.3 26,676.5 28.5,676.6 31,676.5 33.4,676.4 35.9,676.1 38.4,675.8 40.9,675.4 43.4,675 45.9,674.5 48.4,674.1 50.9,673.7 53.4,673.4 55.9,673 58.4,672.8 60.9,672.5 63.4,672.3 65.9,672.2 68.4,672.1 70.9,672 73.4,671.9 75.9,671.9 78.4,671.8 80.9,671.8 83.4,671.9 85.9,671.9 88.4,672 90.9,672 93.4,672.1 95.9,672.2 98.4,672.3 100.9,672.4 103.5,672.4 106,672.5 108.5,672.6 111,672.7 113.5,672.8 116,672.9 118.5,673 121,673 123.5,673.1 126.1,673.2 128.6,673.3 131.1,673.4 133.6,673.5 136.1,673.5 138.6,673.6 141.2,673.7 143.7,673.8 146.2,673.9 148.7,673.9 151.2,674 153.7,674.1 156.3,674.1 158.8,674.2 161.3,674.3 163.8,674.3 166.3,674.4 168.9,674.4 171.4,674.5 173.9,674.6 176.4,674.6 178.9,674.7 181.5,674.7 184,674.7 186.5,674.8 189,674.8 191.5,674.9 194.1,674.9 196.6,674.9 199.1,674.9 201.6,675 204.1,675 206.7,675 209.2,675 211.7,675 214.2,675.1 216.8,675.1 219.3,675.1 221.8,675.1 224.3,675.1 226.8,675.1 229.4,675.1 231.9,675.1 234.4,675.1 236.9,675.1 239.4,675.1 242,675.1 244.5,675.1 247,675.1 249.5,675.1 252,675.1 254.6,675.1 257.1,675.1 259.6,675.1 262.1,675.1 264.6,675.1 267.2,675.1 269.7,675.1 272.2,675.1 274.7,675.1 277.2,675.1 279.7,675.1 282.3,675.1 284.8,675.1 287.3,675.1 289.8,675.1 292.3,675.1 294.8,675.1 297.4,675.1 299.9,675.1 302.4,675.1 304.9,675.2 307.4,675.2 309.9,675.2 312.4,675.2 314.9,675.2 317.5,675.3 320,675.3 322.5,675.3 325,675.3 327.5,675.4 330,675.4" fill="none" stroke="#666" stroke-width="1.1" stroke-linejoin="round" />
<path d="M23.5,676.3 26,677 28.5,677.4 30.9,677.6 33.4,677.4 35.9,677.1 38.4,676.6 40.9,676 43.3,675.3 45.8,674.6 48.3,674 50.8,673.4 53.3,672.9 55.8,672.5 58.3,672.1 60.8,671.8 63.3,671.5 65.8,671.3 68.3,671.2 70.8,671.1 73.3,671 75.8,670.9 78.3,670.9 80.8,671 83.3,671 85.8,671.1 88.3,671.2 90.8,671.3 93.3,671.4 95.8,671.6 98.3,671.7 100.8,671.9 103.3,672 105.8,672.2 108.3,672.3 110.9,672.5 113.4,672.6 115.9,672.8 118.4,672.9 120.9,673 123.4,673.1 125.9,673.2 128.5,673.3 131,673.4 133.5,673.5 136,673.6 138.5,673.7 141,673.8 143.6,673.8 146.1,673.9 148.6,674 151.1,674 153.7,674.1 156.2,674.1 158.7,674.2 161.2,674.2 163.7,674.3 166.3,674.3 168.8,674.4 171.3,674.4 173.8,674.4 176.4,674.5 178.9,674.5 181.4,674.5 183.9,674.5 186.5,674.6 189,674.6 191.5,674.6 194,674.6 196.6,674.7 199.1,674.7 201.6,674.7 204.1,674.7 206.7,674.8 209.2,674.8 211.7,674.8 214.2,674.8 216.8,674.8 219.3,674.9 221.8,674.9 224.3,674.9 226.9,674.9 229.4,674.9 231.9,674.9 234.4,675 237,675 239.5,675 242,675 244.5,675 247.1,675 249.6,675.1 252.1,675.1 254.6,675.1 257.1,675.1 259.7,675.1 262.2,675.1 264.7,675.1 267.2,675.2 269.7,675.2 272.3,675.2 274.8,675.2 277.3,675.2 279.8,675.2 282.3,675.2 284.8,675.3 287.4,675.3 289.9,675.3 292.4,675.3 294.9,675.3 297.4,675.3 299.9,675.4 302.4,675.4 304.9,675.4 307.5,675.4 310,675.4 312.5,675.5 315,675.5 317.5,675.5 320,675.5 322.5,675.5 325,675.6 327.5,675.6 330,675.6" fill="none" stroke="#f03030" stroke-width="1" stroke-dasharray="1.5,2.5" stroke-linejoin="round" />
<path d="M23.5,676.4 26,677.1 28.4,677.5 30.9,677.6 33.3,677.4 35.8,677 38.3,676.4 40.8,675.7 43.2,675 45.7,674.2 48.2,673.5 50.7,672.8 53.1,672.2 55.6,671.7 58.1,671.3 60.6,671 63.1,670.7 65.6,670.5 68.1,670.3 70.6,670.2 73,670.1 75.5,670 78,670 80.5,670 83,670.1 85.5,670.1 88,670.2 90.5,670.3 93,670.4 95.5,670.6 98,670.7 100.6,670.8 103.1,671 105.6,671.2 108.1,671.3 110.6,671.5 113.1,671.6 115.6,671.8 118.1,671.9 120.6,672.1 123.2,672.2 125.7,672.3 128.2,672.4 130.7,672.6 133.2,672.7 135.8,672.8 138.3,672.9 140.8,673 143.3,673.1 145.8,673.2 148.4,673.3 150.9,673.4 153.4,673.5 155.9,673.5 158.5,673.6 161,673.7 163.5,673.8 166.1,673.8 168.6,673.9 171.1,674 173.6,674 176.2,674.1 178.7,674.1 181.2,674.2 183.8,674.2 186.3,674.3 188.8,674.3 191.4,674.4 193.9,674.4 196.4,674.4 198.9,674.5 201.5,674.5 204,674.5 206.5,674.6 209.1,674.6 211.6,674.6 214.1,674.7 216.7,674.7 219.2,674.7 221.7,674.7 224.3,674.7 226.8,674.8 229.3,674.8 231.8,674.8 234.4,674.8 236.9,674.8 239.4,674.8 242,674.9 244.5,674.9 247,674.9 249.5,674.9 252.1,674.9 254.6,674.9 257.1,674.9 259.6,675 262.2,675 264.7,675 267.2,675 269.7,675 272.3,675 274.8,675 277.3,675 279.8,675.1 282.3,675.1 284.9,675.1 287.4,675.1 289.9,675.1 292.4,675.1 294.9,675.2 297.4,675.2 299.9,675.2 302.5,675.2 305,675.3 307.5,675.3 310,675.3 312.5,675.3 315,675.4 317.5,675.4 320,675.4 322.5,675.5 325,675.5 327.5,675.6 330,675.6" fill="none" stroke="#5050ff" stroke-width="1" stroke-dasharray="1,2,3,2" stroke-linejoin="round" />
<path d="M42,675.5 44.4,674.4 46.8,673.3 49.2,672.4 51.7,671.6 54.1,671 56.5,670.4 59,669.9 61.4,669.4 63.8,669.1 66.3,668.8 68.7,668.6 71.2,668.5 73.6,668.4 76.1,668.3 78.6,668.3 81,668.3 83.5,668.4 86,668.4 88.4,668.5 90.9,668.6 93.4,668.8 95.9,668.9 98.4,669.1 100.8,669.2 103.3,669.4 105.8,669.6 108.3,669.8 110.8,670 113.3,670.1 115.8,670.3 118.3,670.5 120.8,670.7 123.3,670.9 125.8,671 128.3,671.2 130.8,671.4 133.3,671.5 135.9,671.7 138.4,671.8 140.9,671.9 143.4,672.1 145.9,672.2 148.4,672.3 151,672.5 153.5,672.6 156,672.7 158.5,672.8 161.1,672.9 163.6,673 166.1,673.1 168.7,673.2 171.2,673.3 173.7,673.4 176.2,673.5 178.8,673.6 181.3,673.6 183.8,673.7 186.4,673.8 188.9,673.9 191.4,673.9 194,674 196.5,674 199,674.1 201.6,674.1 204.1,674.2 206.6,674.2 209.2,674.3 211.7,674.3 214.3,674.3 216.8,674.4 219.3,674.4 221.9,674.4 224.4,674.4 226.9,674.5 229.5,674.5 232,674.5 234.5,674.5 237.1,674.5 239.6,674.6 242.1,674.6 244.7,674.6 247.2,674.6 249.7,674.6 252.2,674.6 254.8,674.6 257.3,674.6 259.8,674.7 262.3,674.7 264.9,674.7 267.4,674.7 269.9,674.7 272.4,674.7 275,674.7 277.5,674.7 280,674.8 282.5,674.8 285,674.8 287.5,674.8 290,674.8 292.6,674.9 295.1,674.9 297.6,674.9 300.1,674.9 302.6,675 305.1,675 307.6,675 310.1,675.1 312.6,675.1 315.1,675.2 317.6,675.2 320.1,675.3 322.5,675.3 325,675.4 327.5,675.4 330,675.5" fill="none" stroke="#ff50ff" stroke-width="1" stroke-dasharray="1,2,3,2" stroke-linejoin="round" />
<path d="M48.4,606.4 48.8,603.9 49.1,601.4 49.5,598.9 49.8,596.5 50.1,594 50.4,591.5 50.7,589 50.9,586.5 51.2,584 51.5,581.6 51.7,579.1 51.9,576.6 52.2,574.1 52.4,571.6 52.6,569.2 52.8,566.7 53.1,564.2 53.3,561.7 53.5,559.2 53.7,556.8 54,554.3 54.2,551.8 54.5,549.3 54.7,546.8 55,544.3 55.2,541.8 55.5,539.3 55.8,536.8 56.1,534.3 56.4,531.8 56.7,529.3 57,526.8 57.3,524.3 57.6,521.8 58,519.3 58.3,516.8 58.6,514.4 58.9,511.9 59.1,509.5 59.4,507 59.7,504.6 59.9,502.2 60.2,499.8 60.5,497.4 60.9,495 61.4,492.5 62.1,489.9 62.9,487.2 63.9,484.5 65,481.9 66.4,479.5 67.9,478.2 69.5,478.3 70.9,479.5 72.2,481.3 73.2,483.7 74.2,486.3 75,489 75.8,491.7 76.5,494.4 77.2,496.9 77.9,499.5 78.5,501.9 79.1,504.4 79.7,506.8 80.3,509.2 80.9,511.5 81.4,513.9 81.9,516.2 82.5,518.6 83,520.9 83.5,523.3 84.1,525.7 84.6,528.1 85.2,530.4 85.7,532.9 86.3,535.3 86.8,537.7 87.4,540.1 88,542.6 88.5,545 89.1,547.5 89.7,549.9 90.3,552.4 90.8,554.9 91.4,557.3 92,559.8 92.5,562.3 93.1,564.7 93.7,567.2 94.2,569.7 94.8,572.1 95.3,574.6 95.9,577.1 96.4,579.5 97,581.9 97.5,584.4 98.1,586.8 98.6,589.2 99.2,591.7 99.7,594.1 100.3,596.5 100.8,598.9 101.4,601.3 102,603.7 102.7,606 103.3,608.4 104,610.8 104.7,613.2 105.5,615.5 106.3,617.9 107.1,620.3 107.9,622.6 108.9,625 109.8,627.3 110.8,629.6 111.9,632 113,634.3 114.1,636.6 115.3,638.8 116.6,641 117.9,643.2 119.3,645.3 120.8,647.4 122.3,649.4 123.8,651.4 125.4,653.2 127.1,655.1 128.9,656.8 130.7,658.4 132.5,660 134.5,661.4 136.5,662.8 138.6,664 140.7,665.1 142.9,666.1 145.2,667 147.5,667.9 149.9,668.6 152.3,669.2 154.8,669.8 157.3,670.3 159.8,670.7 162.3,671.1 164.9,671.4 167.5,671.6 170.1,671.9 172.6,672.1 175.2,672.2 177.8,672.4 180.3,672.5 182.9,672.7 185.4,672.8 187.9,672.9 190.4,673 192.8,673.2 195.3,673.3 197.8,673.4 200.2,673.5 202.7,673.6 205.1,673.7 207.6,673.7 210,673.8 212.5,673.9 215,674 217.4,674 219.9,674.1 222.4,674.1 224.9,674.2 227.4,674.3 229.9,674.3 232.3,674.3 234.8,674.4 237.3,674.4 239.8,674.5 242.3,674.5 244.9,674.5 247.4,674.6 249.9,674.6 252.4,674.6 254.9,674.6 257.4,674.6 259.9,674.7 262.4,674.7 265,674.7 267.5,674.7 270,674.7 272.5,674.7 275,674.7 277.5,674.8 280.1,674.8 282.6,674.8 285.1,674.8 287.6,674.8 290.1,674.8 292.6,674.8 295.1,674.8 297.6,674.8 300.1,674.8 302.7,674.8 305.2,674.8 307.7,674.9 310.1,674.9 312.6,674.9 315.1,674.9 317.6,674.9 320.1,674.9 322.6,674.9 325.1,675 327.5,675 330,675" fill="none" stroke="#2e9a3a" stroke-width="1.1" stroke-linejoin="round" />
<path d="M87,666 89.4,664.7 91.8,663.6 94.1,662.8 96.5,662.1 98.9,661.4 101.3,660.7 103.7,660 106.1,659.2 108.5,658.6 110.9,658.2 113.4,658 115.8,658.1 118.2,658.4 120.6,658.9 123,659.5 125.5,660.2 127.9,660.9 130.3,661.7 132.8,662.4 135.2,663.1 137.7,663.8 140.1,664.4 142.6,665 145,665.6 147.5,666.1 149.9,666.6 152.4,667.1 154.9,667.6 157.3,668.1 159.8,668.5 162.3,668.9 164.7,669.3 167.2,669.7 169.7,670 172.2,670.3 174.6,670.6 177.1,670.9 179.6,671.2 182.1,671.5 184.6,671.7 187.1,671.9 189.5,672.1 192,672.3 194.5,672.5 197,672.7 199.5,672.9 202,673 204.5,673.2 207,673.3 209.5,673.4 212,673.5 214.5,673.7 217,673.8 219.5,673.8 222,673.9 224.5,674 227.1,674.1 229.6,674.1 232.1,674.2 234.6,674.3 237.1,674.3 239.6,674.3 242.1,674.4 244.6,674.4 247.1,674.4 249.7,674.4 252.2,674.5 254.7,674.5 257.2,674.5 259.7,674.5 262.2,674.5 264.7,674.5 267.3,674.5 269.8,674.5 272.3,674.5 274.8,674.5 277.3,674.5 279.8,674.5 282.4,674.5 284.9,674.5 287.4,674.5 289.9,674.5 292.4,674.5 294.9,674.5 297.4,674.5 299.9,674.5 302.4,674.6 305,674.6 307.5,674.6 310,674.6 312.5,674.7 315,674.7 317.5,674.7 320,674.8 322.5,674.8 325,674.9 327.5,674.9 330,675" fill="none" stroke="#a040b0" stroke-width="1.1" stroke-linejoin="round" />
<path d="M100.1,668.6 102.6,668.5 105.1,668.3 107.6,668.3 110.1,668.2 112.6,668.2 115.1,668.2 117.6,668.2 120.1,668.3 122.6,668.4 125.1,668.5 127.6,668.6 130.1,668.7 132.6,668.9 135.1,669.1 137.5,669.2 140,669.4 142.5,669.6 145,669.8 147.5,670 150,670.2 152.5,670.4 155,670.6 157.5,670.7 160,670.9 162.5,671.1 165,671.3 167.5,671.5 170,671.6 172.5,671.8 175,672 177.5,672.1 180,672.3 182.5,672.4 185,672.6 187.5,672.7 190,672.9 192.5,673 195,673.1 197.5,673.2 200,673.3 202.5,673.5 205,673.6 207.5,673.6 210,673.7 212.5,673.8 215,673.9 217.5,674 220,674 222.5,674.1 225,674.1 227.4,674.2 229.9,674.2 232.4,674.2 234.9,674.3 237.4,674.3 239.9,674.3 242.4,674.3 244.9,674.3 247.4,674.4 249.9,674.4 252.4,674.4 254.9,674.4 257.4,674.4 259.9,674.4 262.4,674.4 264.9,674.4 267.4,674.4 269.9,674.4 272.4,674.4 274.9,674.4 277.4,674.4 279.9,674.4 282.4,674.4 284.9,674.4 287.4,674.4 290,674.4 292.5,674.4 295,674.4 297.5,674.4 300,674.4 302.5,674.4 305,674.4 307.5,674.5 310,674.5 312.5,674.5 315,674.6 317.5,674.6 320,674.7 322.5,674.7 325,674.8 327.5,674.8 330,674.9" fill="none" stroke="#3030ff" stroke-width="1" stroke-linejoin="round" />
<path d="M60,675.3 100,675 160,675.2 330,675.6" fill="none" stroke="#a0a050" stroke-width="1" stroke-dasharray="1.5,4" stroke-linejoin="round" />
</g>
<rect x="152.5" y="376.5" width="171" height="170.5" fill="#fff" stroke="#666" stroke-width="1"/>
<line x1="152.5" y1="547" x2="152.5" y2="549" stroke="#444" stroke-width="0.9" />
<line x1="161.47" y1="547" x2="161.47" y2="549" stroke="#444" stroke-width="0.9" />
<line x1="170.43" y1="547" x2="170.43" y2="550.2" stroke="#444" stroke-width="0.9" />
<text x="170.43" y="559.6" font-size="11" text-anchor="middle" fill="#111" >300</text>
<line x1="179.4" y1="547" x2="179.4" y2="549" stroke="#444" stroke-width="0.9" />
<line x1="188.36" y1="547" x2="188.36" y2="549" stroke="#444" stroke-width="0.9" />
<line x1="197.32" y1="547" x2="197.32" y2="549" stroke="#444" stroke-width="0.9" />
<line x1="206.29" y1="547" x2="206.29" y2="549" stroke="#444" stroke-width="0.9" />
<line x1="215.25" y1="547" x2="215.25" y2="550.2" stroke="#444" stroke-width="0.9" />
<text x="215.25" y="559.6" font-size="11" text-anchor="middle" fill="#111" >350</text>
<line x1="224.22" y1="547" x2="224.22" y2="549" stroke="#444" stroke-width="0.9" />
<line x1="233.19" y1="547" x2="233.19" y2="549" stroke="#444" stroke-width="0.9" />
<line x1="242.15" y1="547" x2="242.15" y2="549" stroke="#444" stroke-width="0.9" />
<line x1="251.12" y1="547" x2="251.12" y2="549" stroke="#444" stroke-width="0.9" />
<line x1="260.08" y1="547" x2="260.08" y2="550.2" stroke="#444" stroke-width="0.9" />
<text x="260.08" y="559.6" font-size="11" text-anchor="middle" fill="#111" >400</text>
<line x1="269.05" y1="547" x2="269.05" y2="549" stroke="#444" stroke-width="0.9" />
<line x1="278.01" y1="547" x2="278.01" y2="549" stroke="#444" stroke-width="0.9" />
<line x1="286.98" y1="547" x2="286.98" y2="549" stroke="#444" stroke-width="0.9" />
<line x1="295.94" y1="547" x2="295.94" y2="549" stroke="#444" stroke-width="0.9" />
<line x1="304.9" y1="547" x2="304.9" y2="550.2" stroke="#444" stroke-width="0.9" />
<text x="304.9" y="559.6" font-size="11" text-anchor="middle" fill="#111" >450</text>
<line x1="313.87" y1="547" x2="313.87" y2="549" stroke="#444" stroke-width="0.9" />
<line x1="322.83" y1="547" x2="322.83" y2="549" stroke="#444" stroke-width="0.9" />
<text x="238.3" y="572.6" font-size="11.1" font-weight="bold" text-anchor="middle" fill="#000" >Wavelength (nm)</text>
<g clip-path="url(#c6)">
<path d="M152.5,545 154.3,544 155.9,542.5 157.4,540.7 158.7,538.5 159.8,536.2 160.9,533.7 161.7,531.2 162.5,528.7 163.2,526.2 163.7,523.7 164.2,521.2 164.6,518.8 165,516.3 165.3,513.8 165.6,511.4 165.8,508.9 166,506.4 166.3,504 166.5,501.5 166.7,499 167,496.5 167.2,494 167.5,491.6 167.8,489.1 168.1,486.6 168.4,484.1 168.7,481.6 169.1,479.1 169.4,476.6 169.7,474 170.1,471.5 170.4,469 170.7,466.5 171.1,464 171.4,461.5 171.7,459 172,456.5 172.4,454 172.7,451.5 173,449 173.3,446.5 173.5,444 173.8,441.5 174.1,439.1 174.3,436.6 174.6,434.1 174.9,431.6 175.2,429.2 175.5,426.7 175.8,424.2 176.1,421.7 176.5,419.2 177,416.8 177.4,414.3 177.9,411.8 178.5,409.3 179.1,406.8 179.9,404.3 180.7,401.8 181.7,399.4 182.9,397.1 184.2,396.1 185.4,397.5 186.6,400 187.7,402.8 188.7,405.4 189.6,407.8 190.5,410 191.3,412.2 191.9,414.5 192.6,416.9 193.2,419.3 193.7,421.8 194.2,424.3 194.6,426.9 195,429.4 195.4,432 195.9,434.5 196.3,437.1 196.7,439.6 197.1,442.1 197.5,444.6 197.9,447 198.3,449.5 198.7,452 199.1,454.4 199.5,456.9 199.9,459.3 200.3,461.7 200.7,464.2 201.2,466.6 201.6,469 202,471.5 202.5,473.9 202.9,476.3 203.4,478.8 203.9,481.2 204.3,483.7 204.8,486.1 205.3,488.6 205.7,491.1 206.2,493.5 206.7,496 207.2,498.6 207.7,501.1 208.2,503.6 208.8,506.2 209.3,508.7 209.9,511.2 210.5,513.7 211.2,516.2 212,518.6 212.9,521 213.8,523.3 214.9,525.6 216.1,527.7 217.4,529.8 218.8,531.7 220.5,533.6 222.2,535.3 224.1,536.9 226.1,538.4 228.2,539.7 230.4,540.8 232.7,541.8 235,542.6 237.4,543.2 239.9,543.7 242.3,544 244.9,544.3 247.4,544.5 250,544.6 252.6,544.6 255.1,544.6 257.7,544.6 260.3,544.5 262.9,544.5 265.4,544.5 267.9,544.6 270.4,544.7 272.8,544.8 275.3,544.9 277.7,545 280.2,545.1 282.7,545.1 285.2,545.2 287.7,545.2 290.2,545.2 292.7,545.2 295.3,545.2 297.8,545.1 300.4,545.1 302.9,545 305.5,545 308,545 310.5,545 313.1,545 315.6,545 318.1,545 320.5,545.1 323,545.2 L323,545.3 L152.5,545.3 Z" fill="url(#gb)" stroke="none"/>
<path d="M151.2,545.1 153.7,544.2 155.8,543 157.6,541.4 159.1,539.6 160.4,537.6 161.4,535.4 162.3,533 163.1,530.6 163.8,528.1 164.4,525.6 165,523.1 165.6,520.5 166.1,518.1 166.6,515.6 167.1,513.1 167.6,510.6 168.1,508.2 168.6,505.7 169.1,503.3 169.5,500.9 170,498.4 170.4,496 170.9,493.6 171.3,491.1 171.8,488.7 172.3,486.2 172.8,483.8 173.2,481.4 173.8,478.9 174.3,476.4 174.8,474 175.4,471.5 176.1,469 176.8,466.5 177.7,464 178.7,461.5 179.9,459.1 181.2,456.7 182.7,454.9 184.3,454.4 185.9,455.4 187.4,457.5 188.9,459.9 190.2,462.3 191.4,464.6 192.5,467 193.5,469.3 194.4,471.6 195.3,473.9 196.1,476.2 196.9,478.6 197.6,481 198.3,483.4 199,485.8 199.6,488.3 200.3,490.7 200.9,493.2 201.5,495.7 202.1,498.2 202.8,500.6 203.4,503.1 204.1,505.6 204.8,508 205.5,510.4 206.3,512.8 207.1,515.2 208,517.5 208.9,519.8 209.9,522.1 211,524.3 212.1,526.4 213.4,528.5 214.8,530.6 216.3,532.6 218,534.5 219.8,536.3 221.7,538 223.8,539.5 225.9,540.8 228.2,541.8 230.5,542.6 232.9,543.2 235.3,543.7 237.8,544 240.4,544.2 242.9,544.3 245.5,544.3 248.1,544.4 250.6,544.4 253.2,544.5 255.7,544.6 258.2,544.6 260.8,544.7 263.3,544.8 265.8,544.8 268.3,544.9 270.8,544.9 273.3,545 275.8,545 278.3,545.1 280.8,545.1 283.3,545.2 285.8,545.2 288.3,545.2 290.8,545.2 293.3,545.2 295.8,545.2 298.3,545.2 300.8,545.2 303.3,545.2 305.8,545.2 308.3,545.1 310.8,545.1 313.4,545.1 315.9,545.1 318.4,545.1 320.9,545.1 323.5,545.1 326,545.2 328.6,545.2" fill="none" stroke="#e04040" stroke-width="1" stroke-dasharray="1,1" stroke-linejoin="round" />
<path d="M149.3,545.2 152,545 154.4,544.3 156.5,543.1 158.4,541.4 160,539.5 161.5,537.4 162.7,535.1 163.9,532.8 164.9,530.5 165.9,528.2 166.7,525.9 167.6,523.6 168.3,521.3 169.1,519 169.9,516.7 170.7,514.3 171.5,512 172.4,509.5 173.4,507 174.5,504.5 175.7,502 177,499.7 178.5,497.5 180.2,495.7 182,494.4 184.1,493.9 186.4,494.6 188.6,496 190.6,497.6 192.3,499.5 193.8,501.4 195.1,503.5 196.3,505.7 197.5,507.9 198.7,510.2 199.9,512.6 201,514.9 202.3,517.3 203.5,519.6 204.8,521.9 206.1,524.2 207.5,526.4 208.9,528.6 210.4,530.6 212,532.5 213.6,534.3 215.4,536 217.3,537.5 219.2,538.8 221.3,539.9 223.5,540.9 225.7,541.8 228.1,542.5 230.5,543.1 233,543.5 235.5,543.9 238,544.2 240.6,544.5 243.2,544.6 245.9,544.7 248.5,544.8 251.1,544.9 253.7,545 256.3,545 258.9,545.1 261.4,545.1 264,545.1 266.5,545.1 269,545.2 271.6,545.2 274.1,545.2 276.6,545.2 279.1,545.2 281.5,545.2 284,545.2 286.5,545.2 289,545.2 291.5,545.2 293.9,545.2 296.4,545.2 298.9,545.1 301.4,545.1 303.8,545.1 306.3,545.1 308.8,545.1 311.3,545.1 313.8,545.1 316.3,545.1 318.9,545.1 321.4,545.1 323.9,545.1 326.5,545.1 329.1,545.2 331.7,545.2 334.3,545.2 336.9,545.3" fill="none" stroke="#70b870" stroke-width="0.9" stroke-linejoin="round" />
<path d="M150.6,545.2 153.2,545.1 155.6,544.3 157.7,543 159.5,541.4 161.2,539.4 162.6,537.2 163.9,534.9 165,532.6 166.1,530.4 167,528.1 167.8,525.8 168.6,523.5 169.4,521.2 170.1,518.9 170.9,516.6 171.8,514.2 172.7,511.8 173.6,509.3 174.7,506.8 176,504.3 177.3,501.9 178.9,499.8 180.6,498 182.5,496.9 184.6,496.7 186.9,497.5 189,499 190.9,500.7 192.5,502.6 193.9,504.6 195.2,506.7 196.5,508.9 197.7,511.2 198.9,513.5 200.1,515.9 201.4,518.2 202.6,520.6 203.9,522.9 205.2,525.1 206.6,527.3 208,529.5 209.6,531.5 211.1,533.4 212.8,535.1 214.6,536.8 216.5,538.2 218.5,539.5 220.6,540.6 222.8,541.5 225.1,542.3 227.5,542.9 229.9,543.4 232.4,543.9 235,544.2 237.6,544.4 240.2,544.6 242.8,544.7 245.4,544.8 248.1,544.9 250.7,545 253.3,545 255.9,545.1 258.4,545.1 261,545.1 263.5,545.1 266,545.2 268.5,545.2 271,545.2 273.5,545.2 276,545.2 278.5,545.2 281,545.2 283.5,545.2 285.9,545.2 288.4,545.2 290.9,545.2 293.3,545.2 295.8,545.1 298.3,545.1 300.8,545.1 303.3,545.1 305.8,545.1 308.3,545.1 310.8,545.1 313.3,545.1 315.8,545.1 318.4,545.1 320.9,545.2 323.5,545.2 326.1,545.2 328.7,545.2 331.3,545.3" fill="none" stroke="#333" stroke-width="0.9" stroke-linejoin="round" />
<path d="M178.8,538.7 181.3,539 183.8,539.3 186.3,539.7 188.9,540 191.4,540.3 193.9,540.5 196.4,540.8 198.9,541.1 201.5,541.3 204,541.6 206.5,541.8 209,542 211.6,542.2 214.1,542.4 216.6,542.6 219.1,542.8 221.7,543 224.2,543.1 226.7,543.3 229.3,543.4 231.8,543.6 234.3,543.7 236.8,543.8 239.4,544 241.9,544.1 244.4,544.2 247,544.3 249.5,544.4 252,544.5 254.6,544.5 257.1,544.6 259.6,544.7 262.2,544.7 264.7,544.8 267.2,544.9 269.8,544.9 272.3,545 274.8,545 277.4,545 279.9,545.1 282.4,545.1 285,545.1 287.5,545.2 290.1,545.2 292.6,545.2 295.1,545.2 297.7,545.2 300.2,545.2 302.7,545.3 305.3,545.3 307.8,545.3 310.3,545.3 312.9,545.3 315.4,545.3 317.9,545.3 320.5,545.3 323,545.3" fill="none" stroke="#5050d0" stroke-width="0.9" stroke-dasharray="1,1" stroke-linejoin="round" />
<path d="M185,542 195,543.2 210,544.3 240,545.2" fill="none" stroke="#a070ff" stroke-width="0.9" stroke-dasharray="2,1" stroke-linejoin="round" />
<path d="M152,545 154.1,544 155.9,542.5 157.3,540.7 158.6,538.6 159.6,536.2 160.4,533.8 161.2,531.3 161.8,528.8 162.4,526.3 163,523.8 163.4,521.3 163.9,518.9 164.2,516.4 164.6,514 164.9,511.5 165.2,509.1 165.5,506.6 165.8,504.2 166,501.7 166.3,499.2 166.6,496.8 166.9,494.3 167.2,491.8 167.5,489.3 167.8,486.8 168.1,484.3 168.4,481.8 168.7,479.3 169,476.8 169.3,474.3 169.6,471.8 169.9,469.3 170.2,466.8 170.5,464.3 170.9,461.8 171.2,459.4 171.5,456.9 171.7,454.4 172,451.9 172.3,449.4 172.6,446.9 172.9,444.5 173.1,442 173.4,439.5 173.7,437.1 174,434.6 174.2,432.2 174.5,429.7 174.9,427.2 175.2,424.8 175.6,422.3 176,419.8 176.4,417.3 176.9,414.8 177.4,412.3 177.9,409.8 178.5,407.3 179.2,404.8 180,402.3 181,399.9 182.1,397.7 183.4,396.1 184.8,396.5 186.4,398.4 187.8,401.1 189.1,403.9 190.1,406.4 190.8,408.6 191.4,410.8 191.9,413.1 192.5,415.4 193,417.8 193.5,420.3 194,422.7 194.5,425.3 195,427.8 195.5,430.3 196,432.9 196.5,435.4 196.9,437.9 197.4,440.4 197.8,442.9 198.2,445.4 198.7,447.8 199.1,450.3 199.5,452.7 199.9,455.2 200.4,457.6 200.8,460.1 201.2,462.5 201.6,464.9 202,467.3 202.5,469.7 202.9,472.2 203.3,474.6 203.7,477 204.2,479.4 204.6,481.9 205,484.3 205.5,486.8 205.9,489.2 206.4,491.7 206.9,494.2 207.4,496.7 207.8,499.2 208.3,501.7 208.9,504.2 209.4,506.7 210,509.3 210.6,511.8 211.2,514.3 212,516.7 212.8,519.1 213.7,521.5 214.7,523.8 215.8,526 217,528.1 218.3,530.2 219.8,532.1 221.4,533.9 223.2,535.6 225.1,537.2 227,538.6 229.1,539.9 231.3,541 233.6,541.9 235.9,542.7 238.3,543.3 240.8,543.7 243.2,544.1 245.8,544.3 248.3,544.5 250.9,544.6 253.5,544.6 256,544.6 258.6,544.6 261.2,544.5 263.7,544.5 266.2,544.5 268.7,544.6 271.2,544.7 273.6,544.8 276.1,544.9 278.5,545 280.9,545.1 283.4,545.1 285.9,545.2 288.4,545.2 290.9,545.2 293.4,545.2 296,545.2 298.5,545.1 301.1,545.1 303.6,545 306.1,545 308.7,545 311.2,545 313.7,545 316.2,545 318.7,545 321.2,545.1 323.6,545.2" fill="none" stroke="#ff4050" stroke-width="1" stroke-linejoin="round" />
</g>
<text x="249.3" y="392.6" font-size="10.8" fill="#111"><tspan font-style="italic">λ</tspan><tspan font-size="7.78" dy="3.02">ex</tspan><tspan dy="-3.02"> (nm)</tspan></text>
<line x1="218.2" y1="403.4" x2="242.4" y2="403.4" stroke="#555" stroke-width="0.75"/>
<line x1="270.2" y1="403.4" x2="294.5" y2="403.4" stroke="#f07070" stroke-width="0.75" stroke-dasharray="1,1"/>
<text x="245.6" y="407.32" font-size="10.9" text-anchor="start" fill="#111" >250</text>
<text x="297.6" y="407.32" font-size="10.9" text-anchor="start" fill="#111" >260</text>
<rect x="218.7" y="411" width="23.2" height="11.4" fill="url(#gbs)" stroke="#f07070" stroke-width="1"/>
<line x1="270.2" y1="416.7" x2="294.5" y2="416.7" stroke="#ffa0ff" stroke-width="0.75" stroke-dasharray="1,1"/>
<text x="245.6" y="420.62" font-size="10.9" text-anchor="start" fill="#111" >270</text>
<text x="297.6" y="420.62" font-size="10.9" text-anchor="start" fill="#111" >280</text>
<line x1="218.2" y1="430" x2="242.4" y2="430" stroke="#90c890" stroke-width="0.75"/>
<line x1="270.2" y1="430" x2="294.5" y2="430" stroke="#6060c0" stroke-width="0.75" stroke-dasharray="1,1"/>
<text x="245.6" y="433.92" font-size="10.9" text-anchor="start" fill="#111" >290</text>
<text x="297.6" y="433.92" font-size="10.9" text-anchor="start" fill="#111" >300</text>
<line x1="218.2" y1="443.3" x2="242.4" y2="443.3" stroke="#a07aff" stroke-width="0.75" stroke-dasharray="2,1"/>
<line x1="270.2" y1="443.3" x2="294.5" y2="443.3" stroke="#b060b0" stroke-width="0.75" stroke-dasharray="2,1"/>
<text x="245.6" y="447.22" font-size="10.9" text-anchor="start" fill="#111" >310</text>
<text x="297.6" y="447.22" font-size="10.9" text-anchor="start" fill="#111" >320</text>
<line x1="218.2" y1="456.6" x2="242.4" y2="456.6" stroke="#ff7070" stroke-width="1.5"/>
<line x1="270.2" y1="456.6" x2="294.5" y2="456.6" stroke="#d8d8b8" stroke-width="0.75" stroke-dasharray="1,2"/>
<text x="245.6" y="460.52" font-size="10.9" text-anchor="start" fill="#111" >330</text>
<text x="297.6" y="460.52" font-size="10.9" text-anchor="start" fill="#111" >340</text>
<text x="165.1" y="391.6" font-size="12.2" font-weight="bold" text-anchor="start" fill="#0000ff" >315 nm</text>
<path d="M258.6,505 L254.8,498.42 L247.2,498.42 L243.4,505 L247.2,511.58 L254.8,511.58 Z" fill="none" stroke="#4a4a4a" stroke-width="0.75"/>
<line x1="247.96" y1="500.52" x2="245.6" y2="504.61" stroke="#4a4a4a" stroke-width="0.75"/>
<line x1="256.4" y1="504.61" x2="254.04" y2="500.52" stroke="#4a4a4a" stroke-width="0.75"/>
<line x1="248.64" y1="509.87" x2="253.36" y2="509.87" stroke="#4a4a4a" stroke-width="0.75"/>
<path d="M281.5,505 L277.7,498.42 L270.1,498.42 L266.3,505 L270.1,511.58 L277.7,511.58 Z" fill="none" stroke="#4a4a4a" stroke-width="0.75"/>
<line x1="276.26" y1="500.13" x2="271.54" y2="500.13" stroke="#4a4a4a" stroke-width="0.75"/>
<line x1="268.5" y1="505.39" x2="270.86" y2="509.48" stroke="#4a4a4a" stroke-width="0.75"/>
<line x1="276.94" y1="509.48" x2="279.3" y2="505.39" stroke="#4a4a4a" stroke-width="0.75"/>
<line x1="258.6" y1="505" x2="266.3" y2="505" stroke="#4a4a4a" stroke-width="0.75" />
<line x1="281.5" y1="505" x2="288.5" y2="505" stroke="#4a4a4a" stroke-width="0.75" />
<path d="M303.6,491.8 L299.8,485.22 L292.2,485.22 L288.4,491.8 L292.2,498.38 L299.8,498.38 Z" fill="none" stroke="#4a4a4a" stroke-width="0.75"/>
<line x1="298.36" y1="486.93" x2="293.64" y2="486.93" stroke="#4a4a4a" stroke-width="0.75"/>
<line x1="290.6" y1="492.19" x2="292.96" y2="496.28" stroke="#4a4a4a" stroke-width="0.75"/>
<line x1="299.04" y1="496.28" x2="301.4" y2="492.19" stroke="#4a4a4a" stroke-width="0.75"/>
<line x1="288.5" y1="505" x2="292.2" y2="498.38" stroke="#4a4a4a" stroke-width="0.75" />
<path d="M315.1,472.3 L311.3,465.72 L303.7,465.72 L299.9,472.3 L303.7,478.88 L311.3,478.88 Z" fill="none" stroke="#4a4a4a" stroke-width="0.75"/>
<line x1="304.46" y1="467.82" x2="302.1" y2="471.91" stroke="#4a4a4a" stroke-width="0.75"/>
<line x1="312.9" y1="471.91" x2="310.54" y2="467.82" stroke="#4a4a4a" stroke-width="0.75"/>
<line x1="305.14" y1="477.17" x2="309.86" y2="477.17" stroke="#4a4a4a" stroke-width="0.75"/>
<line x1="299.8" y1="485.22" x2="303.7" y2="478.88" stroke="#4a4a4a" stroke-width="0.75" />
<path d="M303.6,518.2 L299.8,511.62 L292.2,511.62 L288.4,518.2 L292.2,524.78 L299.8,524.78 Z" fill="none" stroke="#4a4a4a" stroke-width="0.75"/>
<line x1="301.4" y1="517.81" x2="299.04" y2="513.72" stroke="#4a4a4a" stroke-width="0.75"/>
<line x1="292.96" y1="513.72" x2="290.6" y2="517.81" stroke="#4a4a4a" stroke-width="0.75"/>
<line x1="293.64" y1="523.07" x2="298.36" y2="523.07" stroke="#4a4a4a" stroke-width="0.75"/>
<line x1="288.5" y1="505" x2="292.2" y2="511.62" stroke="#4a4a4a" stroke-width="0.75" />
<text x="281.9" y="541.4" font-size="9.7" text-anchor="middle" fill="#222" >DBPM</text>
<text x="224.9" y="598.8" font-size="11" fill="#111"><tspan font-style="italic">λ</tspan><tspan font-size="7.92" dy="3.08">ex</tspan><tspan dy="-3.08"> (nm)</tspan></text>
<line x1="191.5" y1="610" x2="216.7" y2="610" stroke="#777" stroke-width="1.4"/>
<line x1="245.3" y1="610" x2="270.4" y2="610" stroke="#f06060" stroke-width="1.2" stroke-dasharray="1.6,3.2"/>
<text x="219.7" y="614.25" font-size="11.8" text-anchor="start" fill="#111" >250</text>
<text x="273.4" y="614.25" font-size="11.8" text-anchor="start" fill="#111" >260</text>
<line x1="191.5" y1="623.9" x2="216.7" y2="623.9" stroke="#6060ff" stroke-width="1.2" stroke-dasharray="1,2,3,2"/>
<line x1="245.3" y1="623.9" x2="270.4" y2="623.9" stroke="#ff80ff" stroke-width="1.2" stroke-dasharray="1,2,3,2"/>
<text x="219.7" y="628.15" font-size="11.8" text-anchor="start" fill="#111" >270</text>
<text x="273.4" y="628.15" font-size="11.8" text-anchor="start" fill="#111" >280</text>
<line x1="191.5" y1="637.8" x2="216.7" y2="637.8" stroke="#5aa85a" stroke-width="1.3"/>
<rect x="245.8" y="632.2" width="24.1" height="11.2" fill="url(#gbs)" stroke="#e83030" stroke-width="1"/>
<text x="219.7" y="642.05" font-size="11.8" text-anchor="start" fill="#111" >290</text>
<text x="273.4" y="642.05" font-size="11.8" text-anchor="start" fill="#111" >300</text>
<rect x="192" y="646.1" width="24.2" height="11.2" fill="url(#gps)" stroke="#e83030" stroke-width="1"/>
<line x1="245.3" y1="651.7" x2="270.4" y2="651.7" stroke="#a050b0" stroke-width="1.3"/>
<text x="219.7" y="655.95" font-size="11.8" text-anchor="start" fill="#111" >310</text>
<text x="273.4" y="655.95" font-size="11.8" text-anchor="start" fill="#111" >320</text>
<line x1="191.5" y1="665.8" x2="216.7" y2="665.8" stroke="#5050ff" stroke-width="1.3"/>
<line x1="245.3" y1="665.8" x2="270.4" y2="665.8" stroke="#a8a060" stroke-width="1.3" stroke-dasharray="1.6,4.4"/>
<text x="219.7" y="670.05" font-size="11.8" text-anchor="start" fill="#111" >330</text>
<text x="273.4" y="670.05" font-size="11.8" text-anchor="start" fill="#111" >340</text>
<text x="54.6" y="403.3" font-size="12.4" font-weight="bold" text-anchor="start" fill="#0000ff" >316 nm</text>
<text x="79.9" y="633.3" font-size="12.4" font-weight="bold" text-anchor="start" fill="#ff0000" >338 nm</text>
<rect x="377.5" y="370" width="307" height="307" fill="none" stroke="#545454" stroke-width="1.05"/>
<line x1="377.5" y1="677" x2="377.5" y2="679.3" stroke="#545454" stroke-width="1.05" />
<line x1="390.29" y1="677" x2="390.29" y2="679.3" stroke="#545454" stroke-width="1.05" />
<line x1="403.08" y1="677" x2="403.08" y2="681.2" stroke="#545454" stroke-width="1.05" />
<text x="403.08" y="694" font-size="13" text-anchor="middle" fill="#111" >300</text>
<line x1="415.88" y1="677" x2="415.88" y2="679.3" stroke="#545454" stroke-width="1.05" />
<line x1="428.67" y1="677" x2="428.67" y2="679.3" stroke="#545454" stroke-width="1.05" />
<line x1="441.46" y1="677" x2="441.46" y2="679.3" stroke="#545454" stroke-width="1.05" />
<line x1="454.25" y1="677" x2="454.25" y2="679.3" stroke="#545454" stroke-width="1.05" />
<line x1="467.04" y1="677" x2="467.04" y2="681.2" stroke="#545454" stroke-width="1.05" />
<text x="467.04" y="694" font-size="13" text-anchor="middle" fill="#111" >350</text>
<line x1="479.83" y1="677" x2="479.83" y2="679.3" stroke="#545454" stroke-width="1.05" />
<line x1="492.62" y1="677" x2="492.62" y2="679.3" stroke="#545454" stroke-width="1.05" />
<line x1="505.42" y1="677" x2="505.42" y2="679.3" stroke="#545454" stroke-width="1.05" />
<line x1="518.21" y1="677" x2="518.21" y2="679.3" stroke="#545454" stroke-width="1.05" />
<line x1="531" y1="677" x2="531" y2="681.2" stroke="#545454" stroke-width="1.05" />
<text x="531" y="694" font-size="13" text-anchor="middle" fill="#111" >400</text>
<line x1="543.79" y1="677" x2="543.79" y2="679.3" stroke="#545454" stroke-width="1.05" />
<line x1="556.58" y1="677" x2="556.58" y2="679.3" stroke="#545454" stroke-width="1.05" />
<line x1="569.38" y1="677" x2="569.38" y2="679.3" stroke="#545454" stroke-width="1.05" />
<line x1="582.17" y1="677" x2="582.17" y2="679.3" stroke="#545454" stroke-width="1.05" />
<line x1="594.96" y1="677" x2="594.96" y2="681.2" stroke="#545454" stroke-width="1.05" />
<text x="594.96" y="694" font-size="13" text-anchor="middle" fill="#111" >450</text>
<line x1="607.75" y1="677" x2="607.75" y2="679.3" stroke="#545454" stroke-width="1.05" />
<line x1="620.54" y1="677" x2="620.54" y2="679.3" stroke="#545454" stroke-width="1.05" />
<line x1="633.33" y1="677" x2="633.33" y2="679.3" stroke="#545454" stroke-width="1.05" />
<line x1="646.12" y1="677" x2="646.12" y2="679.3" stroke="#545454" stroke-width="1.05" />
<line x1="658.92" y1="677" x2="658.92" y2="681.2" stroke="#545454" stroke-width="1.05" />
<text x="658.92" y="694" font-size="13" text-anchor="middle" fill="#111" >500</text>
<line x1="671.71" y1="677" x2="671.71" y2="679.3" stroke="#545454" stroke-width="1.05" />
<line x1="684.5" y1="677" x2="684.5" y2="679.3" stroke="#545454" stroke-width="1.05" />
<text x="530.6" y="709.8" font-size="16.4" font-weight="bold" text-anchor="middle" fill="#000" >Wavelength (nm)</text>
<text x="0" y="0" font-size="17.05" font-weight="bold" text-anchor="middle" transform="translate(366.4,522.8) rotate(-90)">PL intensity (arb. units)</text>
<text x="355.4" y="383.9" font-size="18" font-weight="bold" text-anchor="start" fill="#000" >d</text>
<g clip-path="url(#c7)">
<path d="M415.7,446.6 416.5,444.3 417.1,442 417.6,439.5 418.1,437 418.5,434.5 419,431.9 419.5,429.4 420.1,426.9 420.7,424.4 421.6,422 422.6,419.8 423.8,417.6 425.3,415.7 427,414.1 429,413.3 431.1,413.3 433.2,414.2 434.9,413.6 436.4,411.4 437.6,408.7 438.7,406.1 439.9,403.5 441.3,401.6 442.7,401.5 444,403.3 445,406.1 445.9,409 446.5,411.6 447.1,414 447.5,416.3 447.9,418.6 448.3,420.9 448.6,423.3 448.9,425.8 449.3,428.3 449.6,430.8 450,433.3 450.3,435.8 450.8,438.3 451.3,440.8 451.8,443.3 452.5,445.8 453.2,448.2 454,450.5 455,452.8 456,455 457.2,457.2 458.6,459.3 459.9,461.4 461.2,463.5 462.3,465.6 463.3,467.9 464,470.3 464.7,472.7 465.3,475.2 465.9,477.6 466.5,480.1 467,482.5 467.6,485 468.1,487.4 468.6,489.9 469.1,492.4 469.6,494.8 470,497.3 470.5,499.8 470.9,502.2 471.4,504.7 471.8,507.2 472.3,509.6 472.7,512.1 473.1,514.6 473.5,517 473.9,519.5 474.4,521.9 474.8,524.4 475.2,526.9 475.7,529.3 476.2,531.7 476.7,534.2 477.2,536.6 477.7,539.1 478.3,541.5 478.9,543.9 479.6,546.3 480.2,548.8 480.9,551.2 481.6,553.6 482.3,556 483.1,558.4 483.8,560.8 484.6,563.2 485.3,565.6 486,568 486.8,570.4 487.5,572.8 488.2,575.2 488.9,577.6 489.6,580.1 490.2,582.5 490.9,584.9 491.5,587.3 492.1,589.7 492.8,592.1 493.4,594.5 494.1,596.9 494.8,599.3 495.4,601.7 496.2,604.1 496.9,606.5 497.7,608.8 498.5,611.1 499.4,613.5 500.4,615.8 501.4,618 502.4,620.3 503.5,622.5 504.7,624.7 505.9,626.9 507.2,629.1 508.6,631.2 510,633.3 511.5,635.4 513,637.4 514.5,639.4 516.2,641.3 517.8,643.3 519.5,645.1 521.3,646.9 523.1,648.7 524.9,650.5 526.8,652.1 528.7,653.8 530.7,655.3 532.7,656.9 534.7,658.3 536.8,659.7 538.9,661.1 541,662.4 543.2,663.6 545.4,664.7 547.6,665.8 549.9,666.8 552.2,667.8 554.5,668.7 556.8,669.5 559.1,670.2 561.5,670.8 563.9,671.4 566.3,672 568.7,672.4 571.2,672.9 573.6,673.2 576.1,673.5 578.6,673.8 581.1,674.1 583.6,674.2 586.1,674.4 588.7,674.5 591.2,674.6 593.7,674.7 596.3,674.7 598.8,674.8 601.4,674.8 603.9,674.8 606.4,674.8 609,674.8 611.5,674.7 614.1,674.7 616.6,674.7 619.1,674.7 621.6,674.7 624.1,674.7 626.6,674.7 629.1,674.7 631.6,674.7 634.1,674.8 636.5,674.8 639,674.9 641.5,675 643.9,675 646.4,675.1 648.9,675.1 651.3,675.2 653.8,675.3 656.3,675.3 658.7,675.4 661.2,675.4 663.7,675.4 666.2,675.5 668.7,675.5 671.2,675.5 673.8,675.4 676.3,675.4 678.9,675.4 681.4,675.3 684,675.2 L684,675.4 L415.7,675.4 Z" fill="url(#gp)" stroke="none"/>
<path d="M415.7,446.6 416.5,444.3 417.1,442 417.6,439.5 418.1,437 418.5,434.5 419,431.9 419.5,429.4 420.1,426.9 420.7,424.4 421.6,422 422.6,419.8 423.8,417.6 425.3,415.7 427,414.1 429,413.3 431.1,413.3 433.2,414.2 434.9,413.6 436.4,411.4 437.6,408.7 438.7,406.1 439.9,403.5 441.3,401.6 442.7,401.5 444,403.3 445,406.1 445.9,409 446.5,411.6 447.1,414 447.5,416.3 447.9,418.6 448.3,420.9 448.6,423.3 448.9,425.8 449.3,428.3 449.6,430.8 450,433.3 450.3,435.8 450.8,438.3 451.3,440.8 451.8,443.3 452.5,445.8 453.2,448.2 454,450.5 455,452.8 456,455 457.2,457.2 458.6,459.3 459.9,461.4 461.2,463.5 462.3,465.6 463.3,467.9 464,470.3 464.7,472.7 465.3,475.2 465.9,477.6 466.5,480.1 467,482.5 467.6,485 468.1,487.4 468.6,489.9 469.1,492.4 469.6,494.8 470,497.3 470.5,499.8 470.9,502.2 471.4,504.7 471.8,507.2 472.3,509.6 472.7,512.1 473.1,514.6 473.5,517 473.9,519.5 474.4,521.9 474.8,524.4 475.2,526.9 475.7,529.3 476.2,531.7 476.7,534.2 477.2,536.6 477.7,539.1 478.3,541.5 478.9,543.9 479.6,546.3 480.2,548.8 480.9,551.2 481.6,553.6 482.3,556 483.1,558.4 483.8,560.8 484.6,563.2 485.3,565.6 486,568 486.8,570.4 487.5,572.8 488.2,575.2 488.9,577.6 489.6,580.1 490.2,582.5 490.9,584.9 491.5,587.3 492.1,589.7 492.8,592.1 493.4,594.5 494.1,596.9 494.8,599.3 495.4,601.7 496.2,604.1 496.9,606.5 497.7,608.8 498.5,611.1 499.4,613.5 500.4,615.8 501.4,618 502.4,620.3 503.5,622.5 504.7,624.7 505.9,626.9 507.2,629.1 508.6,631.2 510,633.3 511.5,635.4 513,637.4 514.5,639.4 516.2,641.3 517.8,643.3 519.5,645.1 521.3,646.9 523.1,648.7 524.9,650.5 526.8,652.1 528.7,653.8 530.7,655.3 532.7,656.9 534.7,658.3 536.8,659.7 538.9,661.1 541,662.4 543.2,663.6 545.4,664.7 547.6,665.8 549.9,666.8 552.2,667.8 554.5,668.7 556.8,669.5 559.1,670.2 561.5,670.8 563.9,671.4 566.3,672 568.7,672.4 571.2,672.9 573.6,673.2 576.1,673.5 578.6,673.8 581.1,674.1 583.6,674.2 586.1,674.4 588.7,674.5 591.2,674.6 593.7,674.7 596.3,674.7 598.8,674.8 601.4,674.8 603.9,674.8 606.4,674.8 609,674.8 611.5,674.7 614.1,674.7 616.6,674.7 619.1,674.7 621.6,674.7 624.1,674.7 626.6,674.7 629.1,674.7 631.6,674.7 634.1,674.8 636.5,674.8 639,674.9 641.5,675 643.9,675 646.4,675.1 648.9,675.1 651.3,675.2 653.8,675.3 656.3,675.3 658.7,675.4 661.2,675.4 663.7,675.4 666.2,675.5 668.7,675.5 671.2,675.5 673.8,675.4 676.3,675.4 678.9,675.4 681.4,675.3 684,675.2" fill="none" stroke="#ff2020" stroke-width="1"/>
<path d="M403.1,669.4 403.9,667.3 404.8,665.1 406,662.8 407.3,660.5 408.7,658.2 410.4,656 412.2,654 414.1,652.2 416.1,650.7 418.3,649.6 420.6,648.8 422.9,648.3 425.4,648.1 427.8,648.2 430.3,648.4 432.7,648.8 435.2,649.2 437.6,649.6 440,650 442.4,650.6 444.8,651.4 447.2,652.3 449.5,653.4 451.9,654.3 454.3,655.2 456.6,655.9 459,656.7 461.4,657.4 463.7,658.1 466.1,658.8 468.5,659.6 470.9,660.5 473.3,661.4 475.6,662.4 478,663.3 480.4,664.3 482.9,665.2 485.3,666.1 487.7,667 490.1,667.8 492.5,668.6 495,669.3 497.4,669.9 499.8,670.5 502.3,671 504.7,671.4 507.2,671.7 509.7,672.1 512.1,672.3 514.6,672.6 517.1,672.8 519.5,673 522,673.1 524.5,673.3 527,673.5 529.5,673.6 532,673.8 534.5,673.9 537,674 539.5,674.1 542,674.3 544.5,674.4 547,674.5 549.5,674.6 552.1,674.7 554.6,674.7 557.1,674.8 559.6,674.9 562.2,675 564.7,675 567.3,675.1 569.8,675.1 572.3,675.1 574.9,675.2 577.4,675.2 580,675.2 L580,675.4 L403.1,675.4 Z" fill="url(#gbs2)" stroke="none"/>
<path d="M403.1,669.4 403.9,667.3 404.8,665.1 406,662.8 407.3,660.5 408.7,658.2 410.4,656 412.2,654 414.1,652.2 416.1,650.7 418.3,649.6 420.6,648.8 422.9,648.3 425.4,648.1 427.8,648.2 430.3,648.4 432.7,648.8 435.2,649.2 437.6,649.6 440,650 442.4,650.6 444.8,651.4 447.2,652.3 449.5,653.4 451.9,654.3 454.3,655.2 456.6,655.9 459,656.7 461.4,657.4 463.7,658.1 466.1,658.8 468.5,659.6 470.9,660.5 473.3,661.4 475.6,662.4 478,663.3 480.4,664.3 482.9,665.2 485.3,666.1 487.7,667 490.1,667.8 492.5,668.6 495,669.3 497.4,669.9 499.8,670.5 502.3,671 504.7,671.4 507.2,671.7 509.7,672.1 512.1,672.3 514.6,672.6 517.1,672.8 519.5,673 522,673.1 524.5,673.3 527,673.5 529.5,673.6 532,673.8 534.5,673.9 537,674 539.5,674.1 542,674.3 544.5,674.4 547,674.5 549.5,674.6 552.1,674.7 554.6,674.7 557.1,674.8 559.6,674.9 562.2,675 564.7,675 567.3,675.1 569.8,675.1 572.3,675.1 574.9,675.2 577.4,675.2 580,675.2" fill="none" stroke="#1a9a2a" stroke-width="1.2"/>
<path d="M377.5,676 380,676.5 382.4,676.8 384.9,676.8 387.3,676.5 389.8,676.1 392.3,675.5 394.7,674.9 397.2,674.2 399.6,673.5 402.1,672.8 404.6,672.2 407,671.6 409.5,671.1 412,670.7 414.4,670.3 416.9,669.8 419.4,669.4 421.8,668.9 424.3,668.4 426.8,667.9 429.2,667.3 431.7,666.7 434.2,666.1 436.6,665.5 439.1,665 441.6,664.5 444,664 446.5,663.6 449,663.4 451.5,663.4 453.9,663.5 456.4,663.5 458.9,663.4 461.3,663.3 463.8,663.5 466.3,663.8 468.8,664.3 471.2,664.8 473.7,665.3 476.2,665.8 478.7,666.4 481.2,667 483.6,667.6 486.1,668.2 488.6,668.8 491.1,669.3 493.6,669.9 496,670.5 498.5,671 501,671.5 503.5,672 506,672.4 508.5,672.8 511,673.1 513.4,673.4 515.9,673.7 518.4,673.9 520.9,674.1 523.4,674.3 525.9,674.4 528.4,674.5 530.9,674.6 533.4,674.7 535.8,674.7 538.3,674.8 540.8,674.8 543.3,674.8 545.8,674.8 548.3,674.8 550.8,674.8 553.3,674.8 555.8,674.8 558.3,674.8 560.8,674.8 563.3,674.9 565.8,674.9 568.3,674.9 570.8,674.9 573.3,675 575.8,675 578.3,675 580.8,675.1 583.3,675.1 585.8,675.1 588.3,675.2 590.8,675.2 593.3,675.2 595.8,675.3 598.3,675.3 600.9,675.3 603.4,675.3 605.9,675.4 608.4,675.4 610.9,675.4 613.4,675.4 615.9,675.4 618.4,675.4 620.9,675.4 623.5,675.4 626,675.4 628.5,675.4 631,675.4 633.5,675.4 636,675.4 638.6,675.4 641.1,675.4 643.6,675.3 646.1,675.3 648.6,675.3 651.2,675.3 653.7,675.3 656.2,675.3 658.7,675.3 661.3,675.3 663.8,675.3 666.3,675.3 668.8,675.3 671.4,675.3 673.9,675.3 676.4,675.3 678.9,675.4 681.5,675.4 684,675.4" fill="none" stroke="#333" stroke-width="1" stroke-linejoin="round" />
<path d="M377.5,676.6 380,677.1 382.4,677.4 384.9,677.4 387.3,677.1 389.8,676.7 392.3,676.1 394.7,675.5 397.2,674.8 399.6,674.1 402.1,673.4 404.6,672.8 407,672.2 409.5,671.7 412,671.3 414.4,670.9 416.9,670.4 419.4,670 421.8,669.5 424.3,669 426.8,668.5 429.2,667.9 431.7,667.3 434.2,666.7 436.6,666.1 439.1,665.6 441.6,665.1 444,664.6 446.5,664.2 449,664 451.5,664 453.9,664.1 456.4,664.1 458.9,664 461.3,663.9 463.8,664.1 466.3,664.4 468.8,664.9 471.2,665.4 473.7,665.9 476.2,666.4 478.7,667 481.2,667.6 483.6,668.2 486.1,668.8 488.6,669.4 491.1,669.9 493.6,670.5 496,671.1 498.5,671.6 501,672.1 503.5,672.6 506,673 508.5,673.4 511,673.7 513.4,674 515.9,674.3 518.4,674.5 520.9,674.7 523.4,674.9 525.9,675 528.4,675.1 530.9,675.2 533.4,675.3 535.8,675.3 538.3,675.4 540.8,675.4 543.3,675.4 545.8,675.4 548.3,675.4 550.8,675.4 553.3,675.4 555.8,675.4 558.3,675.4 560.8,675.4 563.3,675.5 565.8,675.5 568.3,675.5 570.8,675.5 573.3,675.6 575.8,675.6 578.3,675.6 580.8,675.7 583.3,675.7 585.8,675.7 588.3,675.8 590.8,675.8 593.3,675.8 595.8,675.9 598.3,675.9 600.9,675.9 603.4,675.9 605.9,676 608.4,676 610.9,676 613.4,676 615.9,676 618.4,676 620.9,676 623.5,676 626,676 628.5,676 631,676 633.5,676 636,676 638.6,676 641.1,676 643.6,675.9 646.1,675.9 648.6,675.9 651.2,675.9 653.7,675.9 656.2,675.9 658.7,675.9 661.3,675.9 663.8,675.9 666.3,675.9 668.8,675.9 671.4,675.9 673.9,675.9 676.4,675.9 678.9,676 681.5,676 684,676" fill="none" stroke="#f03030" stroke-width="1" stroke-dasharray="2,2" stroke-linejoin="round" />
<path d="M377.5,675.6 380,676.1 382.4,676.4 384.9,676.4 387.3,676.1 389.8,675.7 392.3,675.1 394.7,674.5 397.2,673.8 399.6,673.1 402.1,672.4 404.6,671.8 407,671.2 409.5,670.7 412,670.3 414.4,669.9 416.9,669.4 419.4,669 421.8,668.5 424.3,668 426.8,667.5 429.2,666.9 431.7,666.3 434.2,665.7 436.6,665.1 439.1,664.6 441.6,664.1 444,663.6 446.5,663.2 449,663 451.5,663 453.9,663.1 456.4,663.1 458.9,663 461.3,662.9 463.8,663.1 466.3,663.4 468.8,663.9 471.2,664.4 473.7,664.9 476.2,665.4 478.7,666 481.2,666.6 483.6,667.2 486.1,667.8 488.6,668.4 491.1,668.9 493.6,669.5 496,670.1 498.5,670.6 501,671.1 503.5,671.6 506,672 508.5,672.4 511,672.7 513.4,673 515.9,673.3 518.4,673.5 520.9,673.7 523.4,673.9 525.9,674 528.4,674.1 530.9,674.2 533.4,674.3 535.8,674.3 538.3,674.4 540.8,674.4 543.3,674.4 545.8,674.4 548.3,674.4 550.8,674.4 553.3,674.4 555.8,674.4 558.3,674.4 560.8,674.4 563.3,674.5 565.8,674.5 568.3,674.5 570.8,674.5 573.3,674.6 575.8,674.6 578.3,674.6 580.8,674.7 583.3,674.7 585.8,674.7 588.3,674.8 590.8,674.8 593.3,674.8 595.8,674.9 598.3,674.9 600.9,674.9 603.4,674.9 605.9,675 608.4,675 610.9,675 613.4,675 615.9,675 618.4,675 620.9,675 623.5,675 626,675 628.5,675 631,675 633.5,675 636,675 638.6,675 641.1,675 643.6,674.9 646.1,674.9 648.6,674.9 651.2,674.9 653.7,674.9 656.2,674.9 658.7,674.9 661.3,674.9 663.8,674.9 666.3,674.9 668.8,674.9 671.4,674.9 673.9,674.9 676.4,674.9 678.9,675 681.5,675 684,675" fill="none" stroke="#4040ff" stroke-width="1" stroke-dasharray="3,2,1,2" stroke-linejoin="round" />
<path d="M377.5,675.2 380,675.7 382.4,676 384.9,676 387.3,675.7 389.8,675.3 392.3,674.7 394.7,674.1 397.2,673.4 399.6,672.7 402.1,672 404.6,671.4 407,670.8 409.5,670.3 412,669.9 414.4,669.5 416.9,669 419.4,668.6 421.8,668.1 424.3,667.6 426.8,667.1 429.2,666.5 431.7,665.9 434.2,665.3 436.6,664.7 439.1,664.2 441.6,663.7 444,663.2 446.5,662.8 449,662.6 451.5,662.6 453.9,662.7 456.4,662.7 458.9,662.6 461.3,662.5 463.8,662.7 466.3,663 468.8,663.5 471.2,664 473.7,664.5 476.2,665 478.7,665.6 481.2,666.2 483.6,666.8 486.1,667.4 488.6,668 491.1,668.5 493.6,669.1 496,669.7 498.5,670.2 501,670.7 503.5,671.2 506,671.6 508.5,672 511,672.3 513.4,672.6 515.9,672.9 518.4,673.1 520.9,673.3 523.4,673.5 525.9,673.6 528.4,673.7 530.9,673.8 533.4,673.9 535.8,673.9 538.3,674 540.8,674 543.3,674 545.8,674 548.3,674 550.8,674 553.3,674 555.8,674 558.3,674 560.8,674 563.3,674.1 565.8,674.1 568.3,674.1 570.8,674.1 573.3,674.2 575.8,674.2 578.3,674.2 580.8,674.3 583.3,674.3 585.8,674.3 588.3,674.4 590.8,674.4 593.3,674.4 595.8,674.5 598.3,674.5 600.9,674.5 603.4,674.5 605.9,674.6 608.4,674.6 610.9,674.6 613.4,674.6 615.9,674.6 618.4,674.6 620.9,674.6 623.5,674.6 626,674.6 628.5,674.6 631,674.6 633.5,674.6 636,674.6 638.6,674.6 641.1,674.6 643.6,674.5 646.1,674.5 648.6,674.5 651.2,674.5 653.7,674.5 656.2,674.5 658.7,674.5 661.3,674.5 663.8,674.5 666.3,674.5 668.8,674.5 671.4,674.5 673.9,674.5 676.4,674.5 678.9,674.6 681.5,674.6 684,674.6" fill="none" stroke="#ff40ff" stroke-width="1" stroke-dasharray="1,2,3,2" stroke-linejoin="round" />
<path d="M428.4,646.1 428.8,643.6 429.1,641.1 429.5,638.6 429.9,636.1 430.4,633.6 430.8,631.2 431.3,628.7 431.7,626.3 432.2,623.8 432.6,621.4 433.1,619 433.6,616.5 434.1,614.1 434.5,611.7 435,609.2 435.5,606.8 435.9,604.4 436.4,601.9 436.8,599.4 437.2,597 437.6,594.5 438,592 438.4,589.5 438.7,587 439.1,584.4 439.4,581.9 439.6,579.3 439.9,576.7 440.2,574.1 440.5,571.6 440.8,569 441.3,566.6 442,564.3 442.9,562.1 444,560.1 445.4,558.2 447.5,556.7 449.9,556.1 452.1,556.1 453.7,554.8 454.9,552.5 455.8,550.1 456.7,548.1 457.8,545.8 459.2,543.1 460.8,540.5 462.5,538.8 464.1,538.6 465.7,540 467,542.4 468.2,544.9 469.2,547.4 470.1,549.8 470.8,552.2 471.5,554.5 472.2,556.9 472.8,559.2 473.5,561.5 474.2,563.9 474.9,566.2 475.8,568.5 476.7,570.8 477.7,573.2 478.8,575.5 479.8,577.8 480.9,580.1 482.1,582.4 483.2,584.8 484.3,587.1 485.4,589.4 486.4,591.7 487.4,594 488.4,596.3 489.2,598.6 490,600.9 490.8,603.2 491.6,605.5 492.3,607.8 493.1,610 493.9,612.3 494.8,614.5 495.8,616.7 496.9,618.9 498.2,621.1 499.5,623.3 501,625.5 502.4,627.6 503.9,629.7 505.4,631.7 506.9,633.8 508.4,635.8 510,637.8 511.6,639.7 513.2,641.6 514.9,643.5 516.6,645.3 518.3,647.1 520.1,648.9 522,650.6 523.9,652.2 525.8,653.8 527.8,655.4 529.8,656.9 531.9,658.4 534,659.7 536.1,661.1 538.3,662.3 540.5,663.5 542.8,664.6 545,665.7 547.3,666.7 549.6,667.6 552,668.4 554.4,669.1 556.7,669.8 559.2,670.3 561.6,670.9 564,671.3 566.5,671.7 568.9,672 571.4,672.3 573.9,672.6 576.4,672.8 578.9,673 581.4,673.2 583.9,673.4 586.4,673.5 588.9,673.7 591.4,673.8 593.9,673.9 596.4,674 598.9,674.1 601.4,674.2 603.9,674.2 606.4,674.3 608.9,674.3 611.4,674.4 613.9,674.4 616.4,674.4 618.9,674.4 621.4,674.5 623.9,674.5 626.5,674.5 629,674.5 631.5,674.5 634,674.5 636.5,674.5 639,674.6 641.5,674.6 644,674.6 646.5,674.6 649,674.7 651.5,674.7 654,674.7 656.5,674.7 659.1,674.8 661.6,674.8 664.1,674.8 666.6,674.8 669.1,674.9 671.5,674.9 674,674.9 676.5,674.9 679,675 681.5,675 684,675" fill="none" stroke="#3030ff" stroke-width="1.1" stroke-linejoin="round" />
<path d="M441,646.1 442.2,643.5 443.5,641.3 444.9,639.5 446.5,637.8 448.3,636.3 450.1,634.8 452,633.2 454.1,631.4 456.2,629.4 458.4,627.7 460.7,626.5 463,626.2 465.3,626.5 467.6,627.2 469.7,628.2 471.8,629.5 473.8,630.9 475.8,632.4 477.7,634 479.5,635.7 481.4,637.4 483.3,639.2 485.2,640.9 487.1,642.6 489.1,644.3 491.1,645.9 493.2,647.6 495.2,649.2 497.3,650.7 499.4,652.2 501.5,653.7 503.7,655.1 505.9,656.4 508.1,657.7 510.3,658.9 512.6,660.1 514.8,661.2 517.1,662.2 519.4,663.1 521.7,664 524.1,664.9 526.4,665.7 528.8,666.4 531.2,667.1 533.6,667.7 536,668.3 538.4,668.9 540.8,669.4 543.2,669.8 545.7,670.3 548.1,670.7 550.6,671.1 553.1,671.4 555.5,671.7 558,672 560.5,672.3 563,672.5 565.5,672.8 568,673 570.5,673.1 573,673.3 575.5,673.4 578,673.6 580.5,673.7 583,673.8 585.6,673.9 588.1,674 590.6,674 593.2,674.1 595.7,674.1 598.2,674.2 600.8,674.2 603.3,674.2 605.9,674.2 608.4,674.3 610.9,674.3 613.5,674.3 616,674.3 618.6,674.3 621.1,674.4 623.7,674.4 626.2,674.4 628.8,674.5 631.3,674.5 633.8,674.5 636.4,674.6 638.9,674.6 641.5,674.6 644,674.7 646.5,674.7 649.1,674.7 651.6,674.8 654.1,674.8 656.6,674.8 659.1,674.9 661.6,674.9 664.1,674.9 666.6,674.9 669.1,675 671.6,675 674.1,675 676.6,675 679.1,675 681.5,675 684,675" fill="none" stroke="#902a9a" stroke-width="1.1" stroke-linejoin="round" />
<path d="M454.8,663.3 457.2,662.5 459.7,661.8 462.1,661.1 464.6,660.5 467,660 469.5,659.7 472,659.5 474.4,659.5 476.9,659.8 479.3,660.1 481.8,660.7 484.2,661.3 486.7,661.8 489.2,662.4 491.6,663 494.1,663.5 496.6,664.1 499,664.6 501.5,665.1 504,665.6 506.4,666.1 508.9,666.6 511.4,667 513.9,667.5 516.3,667.9 518.8,668.3 521.3,668.7 523.8,669.1 526.2,669.5 528.7,669.8 531.2,670.2 533.7,670.5 536.2,670.8 538.7,671.1 541.1,671.4 543.6,671.7 546.1,671.9 548.6,672.2 551.1,672.4 553.6,672.6 556.1,672.8 558.6,673 561.1,673.2 563.6,673.3 566.1,673.5 568.5,673.6 571,673.7 573.5,673.8 576,673.9 578.5,674 581,674.1 583.5,674.2 586,674.3 588.5,674.3 591,674.4 593.5,674.4 596,674.4 598.5,674.5 601.1,674.5 603.6,674.5 606.1,674.5 608.6,674.5 611.1,674.5 613.6,674.5 616.1,674.5 618.6,674.5 621.1,674.5 623.6,674.5 626.1,674.5 628.6,674.4 631.2,674.4 633.7,674.4 636.2,674.4 638.7,674.4 641.2,674.4 643.7,674.4 646.2,674.4 648.8,674.4 651.3,674.4 653.8,674.4 656.3,674.4 658.8,674.4 661.3,674.4 663.9,674.5 666.4,674.5 668.9,674.6 671.4,674.6 673.9,674.7 676.4,674.7 679,674.8 681.5,674.9 684,675" fill="none" stroke="#2020ff" stroke-width="1.1" stroke-linejoin="round" />
<path d="M466.8,672.2 469.3,671.6 471.8,671.1 474.3,670.7 476.8,670.5 479.3,670.3 481.8,670.2 484.3,670.1 486.8,670.2 489.3,670.3 491.8,670.4 494.3,670.6 496.8,670.8 499.4,671.1 501.9,671.4 504.4,671.7 506.9,672 509.5,672.4 512,672.7 514.5,673 517.1,673.3 519.6,673.6 522.1,673.8 524.6,674 527.2,674.2 529.7,674.3 532.2,674.5 534.8,674.6 537.3,674.6 539.8,674.7 542.4,674.7 544.9,674.8 547.4,674.8 549.9,674.8 552.4,674.8 555,674.8 557.5,674.8 560,674.8" fill="none" stroke="#a09a40" stroke-width="1.3" stroke-dasharray="2,3" stroke-linejoin="round" />
</g>
<rect x="506.8" y="376.5" width="170.7" height="170.5" fill="#fff" stroke="#666" stroke-width="1"/>
<line x1="506.8" y1="547" x2="506.8" y2="549" stroke="#444" stroke-width="0.9" />
<line x1="515.76" y1="547" x2="515.76" y2="549" stroke="#444" stroke-width="0.9" />
<line x1="524.73" y1="547" x2="524.73" y2="550.2" stroke="#444" stroke-width="0.9" />
<text x="524.73" y="559.6" font-size="11" text-anchor="middle" fill="#111" >300</text>
<line x1="533.7" y1="547" x2="533.7" y2="549" stroke="#444" stroke-width="0.9" />
<line x1="542.66" y1="547" x2="542.66" y2="549" stroke="#444" stroke-width="0.9" />
<line x1="551.62" y1="547" x2="551.62" y2="549" stroke="#444" stroke-width="0.9" />
<line x1="560.59" y1="547" x2="560.59" y2="549" stroke="#444" stroke-width="0.9" />
<line x1="569.56" y1="547" x2="569.56" y2="550.2" stroke="#444" stroke-width="0.9" />
<text x="569.56" y="559.6" font-size="11" text-anchor="middle" fill="#111" >350</text>
<line x1="578.52" y1="547" x2="578.52" y2="549" stroke="#444" stroke-width="0.9" />
<line x1="587.49" y1="547" x2="587.49" y2="549" stroke="#444" stroke-width="0.9" />
<line x1="596.45" y1="547" x2="596.45" y2="549" stroke="#444" stroke-width="0.9" />
<line x1="605.41" y1="547" x2="605.41" y2="549" stroke="#444" stroke-width="0.9" />
<line x1="614.38" y1="547" x2="614.38" y2="550.2" stroke="#444" stroke-width="0.9" />
<text x="614.38" y="559.6" font-size="11" text-anchor="middle" fill="#111" >400</text>
<line x1="623.35" y1="547" x2="623.35" y2="549" stroke="#444" stroke-width="0.9" />
<line x1="632.31" y1="547" x2="632.31" y2="549" stroke="#444" stroke-width="0.9" />
<line x1="641.27" y1="547" x2="641.27" y2="549" stroke="#444" stroke-width="0.9" />
<line x1="650.24" y1="547" x2="650.24" y2="549" stroke="#444" stroke-width="0.9" />
<line x1="659.21" y1="547" x2="659.21" y2="550.2" stroke="#444" stroke-width="0.9" />
<text x="659.21" y="559.6" font-size="11" text-anchor="middle" fill="#111" >450</text>
<line x1="668.17" y1="547" x2="668.17" y2="549" stroke="#444" stroke-width="0.9" />
<line x1="677.13" y1="547" x2="677.13" y2="549" stroke="#444" stroke-width="0.9" />
<text x="592.45" y="572.6" font-size="11.1" font-weight="bold" text-anchor="middle" fill="#000" >Wavelength (nm)</text>
<g clip-path="url(#c8)">
<path d="M506.8,545.2 509.1,543.9 511.1,542.5 512.9,540.8 514.5,539 515.8,537.1 516.9,535 517.9,532.8 518.7,530.5 519.4,528.1 519.9,525.7 520.4,523.1 520.8,520.6 521.1,518 521.4,515.5 521.7,512.9 521.9,510.3 522.2,507.8 522.5,505.2 522.7,502.7 523,500.2 523.3,497.7 523.6,495.2 523.8,492.8 524.1,490.3 524.4,487.8 524.6,485.4 524.9,482.9 525.2,480.5 525.4,478 525.7,475.6 525.9,473.1 526.2,470.7 526.5,468.2 526.7,465.7 527,463.2 527.2,460.7 527.4,458.2 527.7,455.7 527.9,453.2 528.1,450.7 528.4,448.1 528.6,445.6 528.9,443 529.1,440.5 529.4,438 529.6,435.4 529.9,433 530.2,430.5 530.5,428.1 530.8,425.6 531.2,423.3 531.6,420.9 532,418.6 532.4,416.3 533,413.8 533.7,411.2 534.6,408.3 535.7,405.5 537.1,403.3 538.8,402.7 540.6,403.6 542.3,405.5 543.7,407.7 544.9,410 545.8,412.4 546.5,414.8 547,417.3 547.5,419.8 547.9,422.3 548.3,424.8 548.8,427.3 549.2,429.8 549.7,432.2 550.2,434.7 550.7,437.2 551.2,439.6 551.7,442 552.2,444.5 552.8,446.9 553.3,449.3 553.8,451.8 554.4,454.2 554.9,456.6 555.5,459.1 556.1,461.5 556.6,464 557.2,466.5 557.7,468.9 558.3,471.4 558.9,473.8 559.4,476.3 560,478.8 560.6,481.2 561.1,483.7 561.7,486.1 562.2,488.6 562.8,491 563.3,493.4 563.8,495.8 564.4,498.2 564.9,500.6 565.5,503 566.2,505.4 566.8,507.8 567.5,510.2 568.2,512.6 569.1,514.9 569.9,517.3 570.9,519.6 571.9,522 573,524.3 574.2,526.6 575.4,528.9 576.8,531.1 578.3,533.2 579.9,535.2 581.7,536.9 583.5,538.4 585.5,539.7 587.7,540.8 589.9,541.6 592.2,542.3 594.6,542.8 597,543.2 599.5,543.5 602.1,543.7 604.6,543.8 607.2,543.9 609.8,544 612.4,544 614.9,544.1 617.5,544.2 620,544.3 622.5,544.4 625,544.5 627.4,544.7 629.9,544.8 632.4,544.9 634.9,544.9 637.4,545 639.9,545 642.4,545.1 644.9,545.1 647.4,545.1 649.9,545.1 652.4,545.1 654.9,545.1 657.5,545.1 660,545.1 662.5,545.1 665,545.1 667.5,545.1 670,545.1 672.5,545.2 675,545.2 677.5,545.3 L677.5,545.3 L506.8,545.3 Z" fill="url(#gb)" stroke="none"/>
<path d="M506.2,545.2 508.6,544 510.7,542.7 512.6,541.1 514.2,539.3 515.6,537.4 516.7,535.3 517.7,533.1 518.5,530.8 519.2,528.5 519.7,526 520.2,523.5 520.6,520.9 520.9,518.4 521.2,515.8 521.6,513.2 521.9,510.6 522.2,508.1 522.5,505.6 522.8,503 523.1,500.5 523.5,498 523.8,495.5 524.1,493 524.4,490.5 524.7,488 525,485.6 525.3,483.1 525.6,480.6 525.8,478.2 526.1,475.7 526.4,473.2 526.7,470.8 526.9,468.3 527.2,465.8 527.4,463.4 527.6,460.9 527.8,458.4 528.1,455.9 528.3,453.4 528.5,450.9 528.8,448.4 529.1,445.9 529.3,443.4 529.7,440.9 530,438.4 530.4,435.8 530.8,433.3 531.3,430.7 531.8,428.1 532.5,425.6 533.2,423.1 534.1,420.6 535.1,418.2 536.4,415.8 537.9,414.2 539.6,414.2 541.3,415.4 542.9,417.4 544.1,419.5 545.2,421.8 546,424.3 546.8,426.8 547.4,429.4 548,432 548.5,434.6 549.1,437.1 549.7,439.6 550.2,442.1 550.8,444.5 551.4,447 552,449.4 552.5,451.8 553.1,454.2 553.7,456.6 554.3,459 554.9,461.4 555.4,463.8 556,466.3 556.6,468.7 557.2,471.2 557.8,473.6 558.4,476.1 559,478.6 559.6,481 560.2,483.5 560.8,486 561.4,488.4 562,490.9 562.6,493.3 563.2,495.8 563.8,498.2 564.4,500.6 565.1,503 565.7,505.4 566.4,507.7 567.2,510.1 568,512.5 568.8,514.8 569.7,517.2 570.7,519.5 571.7,521.8 572.8,524.1 574,526.4 575.3,528.7 576.7,530.9 578.2,533.1 579.8,535 581.6,536.8 583.4,538.4 585.4,539.7 587.5,540.8 589.7,541.6 592.1,542.3 594.4,542.8 596.9,543.1 599.4,543.4 602,543.6 604.6,543.8 607.2,543.9 609.8,544 612.4,544.2 615,544.3 617.6,544.4 620.1,544.5 622.6,544.6 625.1,544.7 627.6,544.7 630,544.8 632.5,544.8 635,544.9 637.4,544.9 639.9,544.9 642.4,545 644.9,545 647.5,545 650,545 652.5,545.1 655.1,545.1 657.6,545.1 660.1,545.1 662.7,545.1 665.2,545.1 667.8,545.2 670.3,545.2 672.8,545.2 675.3,545.2 677.8,545.3 680.3,545.3" fill="none" stroke="#8a3a8a" stroke-width="1" stroke-dasharray="1,1" stroke-linejoin="round" />
<path d="M505.8,545.2 508.4,544.3 510.7,543.1 512.7,541.7 514.3,540 515.7,538.2 516.9,536.1 517.9,533.9 518.7,531.6 519.4,529.2 520,526.7 520.5,524.1 520.9,521.6 521.3,519 521.7,516.5 522.1,514 522.5,511.5 522.9,509 523.3,506.5 523.7,504 524,501.5 524.4,499.1 524.7,496.6 525.1,494.2 525.4,491.7 525.7,489.3 526.1,486.8 526.4,484.4 526.7,481.9 526.9,479.4 527.2,476.9 527.5,474.4 527.8,471.9 528,469.4 528.3,466.9 528.6,464.4 528.9,461.9 529.3,459.4 529.7,456.9 530.2,454.5 530.7,452 531.3,449.6 531.9,447.3 532.7,444.8 533.7,442.3 534.8,439.6 536.2,437.3 537.8,435.9 539.6,435.8 541.4,436.8 543,438.8 544.3,441.3 545.4,443.8 546.4,446.1 547.3,448.4 548.1,450.8 548.8,453.1 549.6,455.5 550.3,458 551,460.4 551.7,462.9 552.4,465.4 553.1,467.9 553.7,470.4 554.4,472.9 555,475.3 555.7,477.7 556.3,480.1 556.9,482.4 557.6,484.7 558.2,487 558.9,489.3 559.6,491.6 560.3,493.9 561,496.2 561.7,498.5 562.4,500.9 563.2,503.3 564,505.8 564.8,508.3 565.6,510.8 566.5,513.3 567.5,515.7 568.5,518.2 569.5,520.6 570.6,523 571.8,525.3 573,527.5 574.3,529.6 575.8,531.6 577.3,533.5 578.9,535.3 580.6,536.9 582.4,538.3 584.4,539.5 586.5,540.6 588.7,541.5 591,542.2 593.4,542.8 595.9,543.3 598.5,543.7 601.1,544 603.7,544.2 606.3,544.3 609,544.4 611.6,544.5 614.2,544.5 616.8,544.6 619.4,544.6 621.8,544.6 624.3,544.7 626.7,544.7 629.2,544.8 631.6,544.8 634,544.9 636.4,544.9 638.9,545 641.3,545 643.8,545 646.3,545.1 648.8,545.1 651.4,545.1 653.9,545.1 656.5,545.1 659,545.1 661.6,545.1 664.2,545.2 666.7,545.2 669.3,545.2 671.8,545.2 674.3,545.2 676.8,545.2 679.2,545.3 681.7,545.3" fill="none" stroke="#ff70ff" stroke-width="1" stroke-dasharray="1,1" stroke-linejoin="round" />
<path d="M506.8,545.2 509.6,544.7 512,543.7 513.9,542.3 515.5,540.6 516.8,538.6 517.9,536.4 518.9,534 519.7,531.6 520.4,529.2 521.1,526.8 521.7,524.4 522.3,521.9 522.9,519.5 523.4,517.1 523.8,514.6 524.3,512.2 524.7,509.7 525,507.3 525.4,504.8 525.7,502.3 526.1,499.9 526.4,497.4 526.7,494.9 526.9,492.4 527.2,489.9 527.5,487.4 527.8,484.8 528.1,482.3 528.5,479.8 528.9,477.3 529.3,474.7 529.8,472.2 530.4,469.7 531.1,467.3 531.8,464.8 532.7,462.4 533.7,460 534.8,457.7 536.2,455.7 538,454.6 540.1,454.5 542,455.6 543.5,457.5 544.8,459.7 546,462 547.1,464.4 548.1,466.8 549.1,469.2 550,471.7 550.8,474.1 551.5,476.6 552.3,479.1 553,481.6 553.6,484.1 554.3,486.5 554.9,488.9 555.6,491.3 556.3,493.7 557,496 557.7,498.4 558.5,500.7 559.3,503 560.2,505.3 561.1,507.6 562.1,509.9 563.1,512.2 564.1,514.5 565.2,516.8 566.3,519.1 567.4,521.4 568.6,523.7 569.7,526 570.9,528.3 572.1,530.5 573.4,532.6 574.9,534.6 576.5,536.4 578.4,538 580.4,539.3 582.7,540.5 585,541.4 587.4,542.2 589.9,542.9 592.4,543.4 594.8,543.8 597.3,544.1 599.8,544.3 602.3,544.5 604.8,544.5 607.3,544.6 609.8,544.6 612.3,544.5 614.8,544.5 617.3,544.5 619.8,544.5 622.3,544.5 624.8,544.6 627.3,544.7 629.8,544.8 632.4,545 634.9,545.1 637.4,545.2 639.9,545.3 642.4,545.4 644.9,545.4 647.4,545.4 650,545.3 652.5,545.3 655,545.2 657.5,545.2 660,545.1 662.5,545.1 665,545.1 667.5,545 670,545.1 672.5,545.1 675,545.2 677.5,545.3" fill="none" stroke="#333" stroke-width="0.9" stroke-linejoin="round" />
<path d="M524.2,527.8 525,525.7 525.9,523.4 526.9,521 528,518.6 529.2,516.1 530.6,513.8 532.3,511.6 534.2,509.8 536.3,508.7 538.8,508.4 541.2,508.9 543.4,510.1 545.1,511.7 546.6,513.7 547.8,515.9 549,518.2 550.3,520.5 551.6,522.7 553,524.9 554.5,527 556.1,529 557.8,530.9 559.6,532.7 561.4,534.4 563.3,536 565.3,537.5 567.4,538.8 569.5,540 571.8,541 574.1,541.9 576.5,542.6 578.9,543.1 581.5,543.5 584,543.8 586.7,544 589.3,544 592,544 594.7,544 597.4,543.9 600,543.9 602.7,543.8 605.3,543.8 607.9,543.7 610.5,543.8 613,543.9 615.4,544.2 617.7,544.5 620,545" fill="none" stroke="#70b870" stroke-width="0.9" stroke-linejoin="round" />
<path d="M533.3,543.2 535.9,543.3 538.4,543.3 541,543.4 543.5,543.5 546.1,543.5 548.6,543.6 551.1,543.7 553.7,543.8 556.2,543.9 558.8,544 561.3,544.1 563.9,544.2 566.4,544.3 569,544.4 571.5,544.4 574.1,544.5 576.6,544.6 579.2,544.7 581.7,544.8 584.3,544.9 586.8,545 589.4,545 591.9,545.1 594.5,545.2 597,545.2 599.6,545.3 602.1,545.3 604.7,545.4 607.2,545.4 609.8,545.4 612.3,545.4 614.9,545.4 617.4,545.4 620,545.4" fill="none" stroke="#5050d0" stroke-width="0.9" stroke-dasharray="1,1" stroke-linejoin="round" />
<path d="M506.3,545.2 508.6,543.9 510.7,542.4 512.5,540.7 514,538.9 515.3,537 516.5,534.9 517.4,532.7 518.2,530.4 518.9,528.1 519.4,525.6 519.9,523.1 520.3,520.6 520.6,518 520.9,515.4 521.1,512.9 521.4,510.3 521.7,507.7 522,505.2 522.2,502.6 522.5,500.1 522.8,497.6 523.1,495.1 523.4,492.6 523.6,490.1 523.9,487.6 524.2,485.1 524.5,482.6 524.8,480.2 525,477.7 525.3,475.2 525.5,472.8 525.8,470.3 526.1,467.8 526.3,465.4 526.5,462.9 526.8,460.4 527,458 527.2,455.5 527.4,453 527.6,450.5 527.9,448 528.1,445.5 528.3,443 528.5,440.5 528.7,438 529,435.5 529.3,433 529.6,430.5 529.9,427.9 530.2,425.4 530.6,422.9 531,420.3 531.5,417.7 532,415.2 532.7,412.7 533.4,410.2 534.4,407.7 535.6,405.4 537,403.4 538.6,402.7 540.4,403.4 542.1,405 543.6,407 544.8,409.2 545.8,411.5 546.6,414 547.3,416.5 547.9,419.1 548.5,421.7 549,424.3 549.5,426.8 550,429.3 550.5,431.8 551,434.3 551.5,436.7 552,439.2 552.5,441.6 553,444 553.5,446.4 554,448.9 554.5,451.3 555,453.7 555.5,456.1 556,458.6 556.5,461 557,463.5 557.5,466 558,468.4 558.5,470.9 559.1,473.4 559.6,475.9 560.1,478.3 560.7,480.8 561.2,483.3 561.8,485.7 562.4,488.2 563,490.6 563.6,493.1 564.2,495.5 564.8,497.9 565.4,500.3 566.1,502.7 566.8,505.1 567.5,507.5 568.3,509.9 569.1,512.2 569.9,514.6 570.8,517 571.8,519.3 572.7,521.7 573.8,524 574.9,526.4 576,528.7 577.3,530.9 578.6,533 580.1,535 581.8,536.8 583.6,538.3 585.5,539.6 587.7,540.7 589.9,541.6 592.3,542.2 594.8,542.8 597.3,543.2 599.9,543.5 602.6,543.7 605.2,543.8 607.9,543.9 610.6,543.9 613.2,544 615.7,544.1 618.2,544.2 620.7,544.3 623.1,544.4 625.5,544.5 627.9,544.7 630.4,544.8 632.8,544.9 635.3,544.9 637.7,545 640.2,545 642.8,545.1 645.3,545.1 647.8,545.1 650.4,545.1 652.9,545.1 655.5,545.1 658,545.1 660.6,545.1 663.1,545.1 665.7,545.1 668.2,545.1 670.7,545.1 673.2,545.2 675.6,545.2 678.1,545.3" fill="none" stroke="#ff4050" stroke-width="1" stroke-linejoin="round" />
</g>
<text x="603.6" y="392.6" font-size="10.8" fill="#111"><tspan font-style="italic">λ</tspan><tspan font-size="7.78" dy="3.02">ex</tspan><tspan dy="-3.02"> (nm)</tspan></text>
<line x1="572.4" y1="403.4" x2="596.6" y2="403.4" stroke="#555" stroke-width="0.75"/>
<line x1="624.4" y1="403.4" x2="648.7" y2="403.4" stroke="#f07070" stroke-width="0.75" stroke-dasharray="1,1"/>
<text x="599.8" y="407.32" font-size="10.9" text-anchor="start" fill="#111" >250</text>
<text x="651.8" y="407.32" font-size="10.9" text-anchor="start" fill="#111" >260</text>
<rect x="572.9" y="411" width="23.2" height="11.4" fill="url(#gbs)" stroke="#f07070" stroke-width="1"/>
<line x1="624.4" y1="416.7" x2="648.7" y2="416.7" stroke="#ffa0ff" stroke-width="0.75" stroke-dasharray="1,1"/>
<text x="599.8" y="420.62" font-size="10.9" text-anchor="start" fill="#111" >270</text>
<text x="651.8" y="420.62" font-size="10.9" text-anchor="start" fill="#111" >280</text>
<line x1="572.4" y1="430" x2="596.6" y2="430" stroke="#90c890" stroke-width="0.75"/>
<line x1="624.4" y1="430" x2="648.7" y2="430" stroke="#6060c0" stroke-width="0.75" stroke-dasharray="1,1"/>
<text x="599.8" y="433.92" font-size="10.9" text-anchor="start" fill="#111" >290</text>
<text x="651.8" y="433.92" font-size="10.9" text-anchor="start" fill="#111" >300</text>
<line x1="572.4" y1="443.3" x2="596.6" y2="443.3" stroke="#a07aff" stroke-width="0.75" stroke-dasharray="2,1"/>
<line x1="624.4" y1="443.3" x2="648.7" y2="443.3" stroke="#b060b0" stroke-width="0.75" stroke-dasharray="2,1"/>
<text x="599.8" y="447.22" font-size="10.9" text-anchor="start" fill="#111" >310</text>
<text x="651.8" y="447.22" font-size="10.9" text-anchor="start" fill="#111" >320</text>
<line x1="572.4" y1="456.6" x2="596.6" y2="456.6" stroke="#ff7070" stroke-width="1.5"/>
<line x1="624.4" y1="456.6" x2="648.7" y2="456.6" stroke="#d8d8b8" stroke-width="0.75" stroke-dasharray="1,2"/>
<text x="599.8" y="460.52" font-size="10.9" text-anchor="start" fill="#111" >330</text>
<text x="651.8" y="460.52" font-size="10.9" text-anchor="start" fill="#111" >340</text>
<text x="518" y="393.9" font-size="12.2" font-weight="bold" text-anchor="start" fill="#0000ff" >315 nm</text>
<path d="M612.8,505 L609,498.42 L601.4,498.42 L597.6,505 L601.4,511.58 L609,511.58 Z" fill="none" stroke="#4a4a4a" stroke-width="0.75"/>
<line x1="602.16" y1="500.52" x2="599.8" y2="504.61" stroke="#4a4a4a" stroke-width="0.75"/>
<line x1="610.6" y1="504.61" x2="608.24" y2="500.52" stroke="#4a4a4a" stroke-width="0.75"/>
<line x1="602.84" y1="509.87" x2="607.56" y2="509.87" stroke="#4a4a4a" stroke-width="0.75"/>
<path d="M635.7,505 L631.9,498.42 L624.3,498.42 L620.5,505 L624.3,511.58 L631.9,511.58 Z" fill="none" stroke="#4a4a4a" stroke-width="0.75"/>
<line x1="630.46" y1="500.13" x2="625.74" y2="500.13" stroke="#4a4a4a" stroke-width="0.75"/>
<line x1="622.7" y1="505.39" x2="625.06" y2="509.48" stroke="#4a4a4a" stroke-width="0.75"/>
<line x1="631.14" y1="509.48" x2="633.5" y2="505.39" stroke="#4a4a4a" stroke-width="0.75"/>
<line x1="612.8" y1="505" x2="620.5" y2="505" stroke="#4a4a4a" stroke-width="0.75" />
<line x1="635.7" y1="505" x2="642.7" y2="505" stroke="#4a4a4a" stroke-width="0.75" />
<path d="M657.8,491.8 L654,485.22 L646.4,485.22 L642.6,491.8 L646.4,498.38 L654,498.38 Z" fill="none" stroke="#4a4a4a" stroke-width="0.75"/>
<line x1="652.56" y1="486.93" x2="647.84" y2="486.93" stroke="#4a4a4a" stroke-width="0.75"/>
<line x1="644.8" y1="492.19" x2="647.16" y2="496.28" stroke="#4a4a4a" stroke-width="0.75"/>
<line x1="653.24" y1="496.28" x2="655.6" y2="492.19" stroke="#4a4a4a" stroke-width="0.75"/>
<line x1="642.7" y1="505" x2="646.4" y2="498.38" stroke="#4a4a4a" stroke-width="0.75" />
<path d="M669.3,472.3 L665.5,465.72 L657.9,465.72 L654.1,472.3 L657.9,478.88 L665.5,478.88 Z" fill="none" stroke="#4a4a4a" stroke-width="0.75"/>
<line x1="658.66" y1="467.82" x2="656.3" y2="471.91" stroke="#4a4a4a" stroke-width="0.75"/>
<line x1="667.1" y1="471.91" x2="664.74" y2="467.82" stroke="#4a4a4a" stroke-width="0.75"/>
<line x1="659.34" y1="477.17" x2="664.06" y2="477.17" stroke="#4a4a4a" stroke-width="0.75"/>
<line x1="654" y1="485.22" x2="657.9" y2="478.88" stroke="#4a4a4a" stroke-width="0.75" />
<path d="M657.8,518.2 L654,511.62 L646.4,511.62 L642.6,518.2 L646.4,524.78 L654,524.78 Z" fill="none" stroke="#4a4a4a" stroke-width="0.75"/>
<line x1="655.6" y1="517.81" x2="653.24" y2="513.72" stroke="#4a4a4a" stroke-width="0.75"/>
<line x1="647.16" y1="513.72" x2="644.8" y2="517.81" stroke="#4a4a4a" stroke-width="0.75"/>
<line x1="647.84" y1="523.07" x2="652.56" y2="523.07" stroke="#4a4a4a" stroke-width="0.75"/>
<line x1="642.7" y1="505" x2="646.4" y2="511.62" stroke="#4a4a4a" stroke-width="0.75" />
<path d="M669.3,537.7 L665.5,531.12 L657.9,531.12 L654.1,537.7 L657.9,544.28 L665.5,544.28 Z" fill="none" stroke="#4a4a4a" stroke-width="0.75"/>
<line x1="664.06" y1="532.83" x2="659.34" y2="532.83" stroke="#4a4a4a" stroke-width="0.75"/>
<line x1="656.3" y1="538.09" x2="658.66" y2="542.18" stroke="#4a4a4a" stroke-width="0.75"/>
<line x1="664.74" y1="542.18" x2="667.1" y2="538.09" stroke="#4a4a4a" stroke-width="0.75"/>
<line x1="654" y1="524.78" x2="657.9" y2="531.12" stroke="#4a4a4a" stroke-width="0.75" />
<text x="613.4" y="541.4" font-size="9.7" fill="#222"><tspan font-style="italic">p</tspan>-TBPM</text>
<text x="589" y="598.5" font-size="11" fill="#111"><tspan font-style="italic">λ</tspan><tspan font-size="7.92" dy="3.08">ex</tspan><tspan dy="-3.08"> (nm)</tspan></text>
<line x1="558" y1="609.2" x2="583" y2="609.2" stroke="#222" stroke-width="1"/>
<line x1="612.2" y1="609.2" x2="637.1" y2="609.2" stroke="#f04040" stroke-width="1" stroke-dasharray="2.5,2.5"/>
<text x="586.5" y="613.45" font-size="11.8" text-anchor="start" fill="#111" >250</text>
<text x="640.3" y="613.45" font-size="11.8" text-anchor="start" fill="#111" >260</text>
<line x1="558" y1="623.2" x2="583" y2="623.2" stroke="#3a3aff" stroke-width="1" stroke-dasharray="3.5,2,1,2"/>
<line x1="612.2" y1="623.2" x2="637.1" y2="623.2" stroke="#ff50ff" stroke-width="1" stroke-dasharray="1,2,3,2"/>
<text x="586.5" y="627.45" font-size="11.8" text-anchor="start" fill="#111" >270</text>
<text x="640.3" y="627.45" font-size="11.8" text-anchor="start" fill="#111" >280</text>
<rect x="558.5" y="631.6" width="24" height="11.2" fill="url(#gbs)" stroke="#2a9a3a" stroke-width="1"/>
<rect x="612.7" y="631.6" width="23.9" height="11.2" fill="url(#gps)" stroke="#e83030" stroke-width="1"/>
<text x="586.5" y="641.45" font-size="11.8" text-anchor="start" fill="#111" >290</text>
<text x="640.3" y="641.45" font-size="11.8" text-anchor="start" fill="#111" >300</text>
<line x1="558" y1="651" x2="583" y2="651" stroke="#3030ff" stroke-width="1.2"/>
<line x1="612.2" y1="651" x2="637.1" y2="651" stroke="#902a9a" stroke-width="1.2"/>
<text x="586.5" y="655.25" font-size="11.8" text-anchor="start" fill="#111" >310</text>
<text x="640.3" y="655.25" font-size="11.8" text-anchor="start" fill="#111" >320</text>
<line x1="558" y1="665.2" x2="583" y2="665.2" stroke="#2020ff" stroke-width="1.2"/>
<line x1="612.2" y1="665.2" x2="637.1" y2="665.2" stroke="#8a8a30" stroke-width="1" stroke-dasharray="2.5,3"/>
<text x="586.5" y="669.45" font-size="11.8" text-anchor="start" fill="#111" >330</text>
<text x="640.3" y="669.45" font-size="11.8" text-anchor="start" fill="#111" >340</text>
<text x="418.4" y="391.9" font-size="12.4" font-weight="bold" text-anchor="start" fill="#ff0000" >330 nm</text>
<text x="448.2" y="615.5" font-size="12.4" font-weight="bold" text-anchor="start" fill="#ff0000" >348 nm</text>
<text x="404.8" y="640.5" font-size="12.4" font-weight="bold" text-anchor="start" fill="#0000ff" >315 nm</text>
</svg></body></html>
